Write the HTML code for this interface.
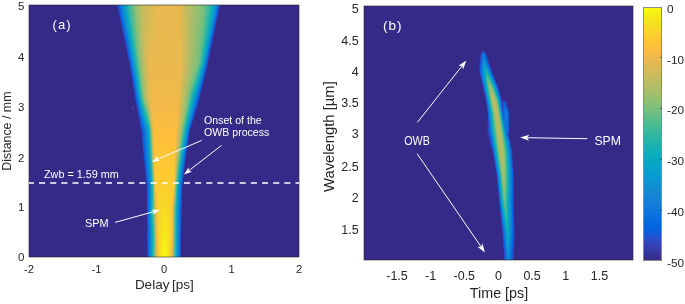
<!DOCTYPE html>
<html><head><meta charset="utf-8"><style>
html,body{margin:0;padding:0;background:#fff;width:685px;height:304px;overflow:hidden;font-family:"Liberation Sans", sans-serif;}
.p{position:absolute;background:#352a87;overflow:hidden}
.p i{position:absolute;height:1px;display:block}
svg{position:absolute;left:0;top:0;will-change:transform}
</style></head><body>
<div class="p" style="left:29px;top:5px;width:270px;height:252px">
<i style="top:0px;left:87px;width:105px;background:linear-gradient(90deg,#352a87 0px,#352a87 0.8px,#2d49c4 1.8px,#0363e1 2.8px,#1481d5 5.8px,#06a1cd 8.8px,#06a8c4 9.8px,#0faeb9 10.8px,#30b7a3 12.8px,#82bf79 18.8px,#bcbd62 24.8px,#e7b94f 39.8px,#e7b94f 63.8px,#bbbd62 71.8px,#9bbf6f 80.8px,#78bf7d 87.8px,#28b6a7 94.8px,#0cadbc 96.8px,#06a0cd 98.8px,#1480d6 100.8px,#0a73dd 101.8px,#0b5edf 102.8px,#353ba9 103.8px,#352a87 104.4px,#352a87 105.00px)"></i>
<i style="top:1px;left:88px;width:104px;background:linear-gradient(90deg,#352a87 0px,#352b87 0.0px,#2c4ac5 1.0px,#0363e1 2.0px,#1482d5 5.0px,#06a1cc 8.0px,#07a9c3 9.0px,#11afb8 10.0px,#31b8a2 12.0px,#84bf78 18.0px,#bdbd61 24.0px,#e7b94f 39.0px,#e7b94f 63.0px,#c9bc5d 68.0px,#b4bd65 73.0px,#8cbf75 83.0px,#74bf7f 87.0px,#23b4ab 94.0px,#09abbf 96.0px,#089bd0 98.0px,#1389d3 99.0px,#117bd9 100.0px,#046de0 101.0px,#274dcb 102.0px,#362f90 103.0px,#352a87 103.2px,#352a87 104.00px)"></i>
<i style="top:2px;left:88px;width:103px;background:linear-gradient(90deg,#352a87 0px,#352a87 0.2px,#2d49c5 1.2px,#0363e1 2.2px,#1482d5 5.2px,#06a1cc 8.2px,#07a9c3 9.2px,#12afb7 10.2px,#3fba99 13.2px,#86bf77 18.2px,#bfbc61 24.2px,#e7b94f 39.2px,#e7b94f 63.2px,#cdbb5b 67.2px,#b7bd64 72.2px,#8fbf74 82.2px,#7bbf7c 86.2px,#2bb6a6 93.2px,#0eaeba 95.2px,#06a3cb 97.2px,#1483d5 99.2px,#0363e1 101.2px,#3440b2 102.2px,#352a87 103.0px,#352a87 103.00px)"></i>
<i style="top:3px;left:88px;width:103px;background:linear-gradient(90deg,#352a87 0px,#352b87 0.4px,#2c4ac5 1.4px,#0363e1 2.4px,#1482d5 5.4px,#06a2cb 8.4px,#07a9c2 9.4px,#13b0b6 10.4px,#33b8a0 12.4px,#87bf77 18.4px,#c0bc60 24.4px,#e7b94f 39.4px,#e6b950 63.4px,#ccbb5b 67.4px,#acbe68 75.4px,#7fbf7a 85.4px,#6dbf82 87.4px,#27b6a8 93.4px,#0aacbd 95.4px,#079ecf 97.4px,#118dd2 98.4px,#137dd8 99.4px,#076fdf 100.4px,#1e54d5 101.4px,#36349a 102.4px,#352a87 102.8px,#352a87 103.00px)"></i>
<i style="top:4px;left:88px;width:103px;background:linear-gradient(90deg,#352a87 0px,#352b87 0.7px,#2c4ac5 1.7px,#0363e1 2.7px,#1483d5 5.7px,#06a2cb 8.7px,#07aac1 9.7px,#35b8a0 12.7px,#89bf76 18.7px,#c1bc60 24.7px,#e8b94f 39.7px,#e8b94f 62.6px,#bdbd61 70.6px,#8dbf75 82.6px,#75bf7f 86.6px,#21b4ac 93.6px,#08aac1 95.6px,#06a4c9 96.6px,#0997d1 97.6px,#1486d4 98.6px,#0f78db 99.6px,#0267e1 100.6px,#3045bd 101.6px,#352a87 102.6px,#352a87 103.00px)"></i>
<i style="top:5px;left:88px;width:103px;background:linear-gradient(90deg,#352a87 0px,#352b87 0.9px,#2c4ac5 1.9px,#0363e1 2.9px,#1483d5 5.9px,#06a3ca 8.9px,#08aac0 9.9px,#15b0b4 10.9px,#29b6a7 11.9px,#80bf7a 17.9px,#c2bc5f 24.9px,#e8b94f 39.9px,#e8b94f 62.9px,#cabb5c 67.9px,#aebe67 74.9px,#7cbf7b 85.9px,#2ab6a6 92.9px,#0dadbb 94.9px,#06a8c4 95.9px,#06a0cd 96.9px,#1480d6 98.9px,#0972de 99.9px,#115bdc 100.9px,#3638a3 101.9px,#352b87 102.3px,#352a87 103.00px)"></i>
<i style="top:6px;left:89px;width:102px;background:linear-gradient(90deg,#352a87 0px,#352a87 0.1px,#2c49c5 1.1px,#0363e1 2.1px,#1483d5 5.1px,#06a3ca 8.1px,#08abc0 9.1px,#2ab6a6 11.1px,#81bf79 17.1px,#bcbd62 23.1px,#ccbb5b 27.1px,#e8b94f 39.1px,#e8b94f 62.1px,#d4bb58 65.1px,#b8bd63 71.1px,#8abf76 82.1px,#79bf7d 85.1px,#26b5a9 92.1px,#09abbf 94.1px,#089bd0 96.1px,#1389d3 97.1px,#117ad9 98.1px,#036be0 99.1px,#2b4bc7 100.1px,#352a87 101.2px,#352a87 102.00px)"></i>
<i style="top:7px;left:89px;width:101px;background:linear-gradient(90deg,#352a87 0px,#352b87 0.3px,#2c4ac6 1.3px,#0364e1 2.3px,#1483d4 5.3px,#079bd0 7.3px,#09abbf 9.3px,#17b1b3 10.3px,#2cb6a5 11.3px,#83bf79 17.3px,#bdbd61 23.3px,#d2bb59 29.3px,#e8b94f 39.3px,#e6b950 62.3px,#c2bc5f 68.3px,#92bf72 80.3px,#7ebf7b 84.3px,#38b99d 90.3px,#10afb8 93.3px,#07a9c2 94.3px,#06a3cb 95.3px,#1482d5 97.3px,#0760e0 99.3px,#353dad 100.3px,#352a87 100.9px,#352a87 101.00px)"></i>
<i style="top:8px;left:89px;width:101px;background:linear-gradient(90deg,#352a87 0px,#352b87 0.5px,#2c4ac6 1.5px,#0364e1 2.5px,#1484d4 5.5px,#079cd0 7.5px,#09acbe 9.5px,#2db7a5 11.5px,#84bf78 17.5px,#bfbc61 23.5px,#ddba54 33.5px,#e8b94f 39.5px,#e8b94f 61.5px,#babd62 70.5px,#91bf73 80.5px,#7dbf7b 84.5px,#2ab6a6 91.5px,#0badbc 93.5px,#079ecf 95.5px,#118cd2 96.5px,#127dd8 97.5px,#056ee0 98.5px,#2251d1 99.5px,#363195 100.5px,#352a87 100.7px,#352a87 101.00px)"></i>
<i style="top:9px;left:89px;width:101px;background:linear-gradient(90deg,#352a87 0px,#352b87 0.7px,#2c4ac6 1.7px,#0364e1 2.7px,#1484d4 5.7px,#079cd0 7.7px,#0aacbd 9.7px,#3cba9b 12.7px,#86bf77 17.7px,#c0bc60 23.7px,#dbba55 32.7px,#e8b94f 39.7px,#e8b94f 61.7px,#c1bc60 68.7px,#90bf73 80.7px,#79bf7d 84.7px,#31b8a2 90.7px,#08aac0 93.7px,#06a4c9 94.7px,#0997d1 95.7px,#1485d4 96.7px,#0265e1 98.7px,#3342b7 99.7px,#352a87 100.5px,#352a87 101.00px)"></i>
<i style="top:10px;left:89px;width:101px;background:linear-gradient(90deg,#352a87 0px,#352a87 0.9px,#2c4ac5 1.9px,#0364e1 2.9px,#1484d4 5.9px,#079dcf 7.9px,#0bacbd 9.9px,#2fb7a3 11.9px,#88bf77 17.9px,#c1bc5f 23.9px,#dcba54 32.9px,#e8b94f 39.9px,#e8b94f 61.9px,#c0bc60 68.9px,#93bf72 79.9px,#7fbf7a 83.9px,#45bb96 88.9px,#1eb3ae 91.9px,#0eaeba 92.9px,#06a8c4 93.9px,#06a1cd 94.9px,#137fd7 96.9px,#0871de 97.9px,#1658d9 98.9px,#36369f 99.9px,#352a87 100.3px,#352a87 101.00px)"></i>
<i style="top:11px;left:90px;width:100px;background:linear-gradient(90deg,#352a87 0px,#352b87 0.1px,#2c4ac6 1.1px,#0364e1 2.1px,#1485d4 5.1px,#079dcf 7.1px,#06a6c7 8.1px,#0cadbc 9.1px,#30b7a2 11.1px,#89bf76 17.1px,#c3bc5f 23.1px,#e3b951 35.1px,#e8b94f 42.1px,#e6b950 61.1px,#bcbd62 69.1px,#88bf77 81.1px,#7dbf7b 83.1px,#34b8a0 89.1px,#0aacbe 92.1px,#089ad0 94.1px,#1388d3 95.1px,#1079da 96.1px,#0269e1 97.1px,#2e47c1 98.1px,#352b87 99.1px,#352a87 100.00px)"></i>
<i style="top:12px;left:90px;width:99px;background:linear-gradient(90deg,#352a87 0px,#352a87 0.3px,#2c4ac5 1.3px,#0364e1 2.3px,#1485d4 5.3px,#079ecf 7.3px,#06a6c7 8.3px,#0dadbb 9.3px,#40ba99 12.3px,#8bbf75 17.3px,#c4bc5e 23.3px,#dfba53 33.3px,#e8b94e 39.3px,#e8b94e 60.3px,#bbbd62 69.3px,#87bf77 81.3px,#6fbf81 84.3px,#22b4ab 90.3px,#07aac2 92.3px,#06a3cb 93.3px,#1482d5 95.3px,#0b73dd 96.3px,#0b5edf 97.3px,#353ba9 98.3px,#352a87 98.9px,#352a87 99.00px)"></i>
<i style="top:13px;left:90px;width:99px;background:linear-gradient(90deg,#352a87 0px,#352b87 0.5px,#2c4ac6 1.5px,#0364e1 2.5px,#1485d4 5.5px,#069ece 7.5px,#06a7c6 8.5px,#0eaeba 9.5px,#42bb98 12.5px,#8dbf75 17.5px,#c6bc5e 23.5px,#e8b94f 37.5px,#e8b94e 60.5px,#bbbd62 69.5px,#80bf7a 82.5px,#45bb96 87.5px,#1cb3b0 90.5px,#0cadbb 91.5px,#06a7c5 92.5px,#079ecf 93.5px,#128cd2 94.5px,#127cd8 95.5px,#046de0 96.5px,#274dcb 97.5px,#352a87 98.7px,#352a87 99.00px)"></i>
<i style="top:14px;left:90px;width:99px;background:linear-gradient(90deg,#352a87 0px,#352a87 0.7px,#2c4ac5 1.7px,#0364e1 2.7px,#1486d4 5.7px,#069fce 7.7px,#06a7c5 8.7px,#0faeb9 9.7px,#43bb97 12.7px,#8ebf74 17.7px,#c7bc5d 23.7px,#e8b94e 37.7px,#e8b94e 60.7px,#bebc61 68.7px,#84bf78 81.7px,#73bf7f 83.7px,#27b5a8 89.7px,#09abbf 91.7px,#0997d1 93.7px,#1485d4 94.7px,#0363e1 96.7px,#3440b3 97.7px,#352a87 98.5px,#352a87 99.00px)"></i>
<i style="top:15px;left:90px;width:99px;background:linear-gradient(90deg,#352a87 0px,#352b87 1.0px,#2c4ac6 2.0px,#0364e1 3.0px,#1486d4 6.0px,#069fce 8.0px,#06a8c5 9.0px,#10afb8 10.0px,#45bb96 13.0px,#90bf73 18.0px,#c8bc5d 24.0px,#e9b94e 38.0px,#e6b94f 61.0px,#b9bd63 70.0px,#82bf79 82.0px,#58bd8c 86.0px,#20b4ad 90.0px,#06a8c3 92.0px,#06a1cd 93.0px,#137ed7 95.0px,#076fdf 96.0px,#1e54d5 97.0px,#363399 98.0px,#352a87 98.3px,#352a87 99.00px)"></i>
<i style="top:16px;left:91px;width:98px;background:linear-gradient(90deg,#352a87 0px,#352a87 0.2px,#2c4ac6 1.2px,#0364e1 2.2px,#127bd9 4.2px,#1486d3 5.2px,#06a0cd 7.2px,#06a8c4 8.2px,#11afb8 9.2px,#57bd8c 13.2px,#91bf73 17.2px,#c9bc5d 23.2px,#e9b94e 37.2px,#e9b94e 59.2px,#b8bd63 69.2px,#80bf7a 81.2px,#53bd8e 85.2px,#1ab2b1 89.2px,#0bacbd 90.2px,#06a6c7 91.2px,#089ad0 92.2px,#1388d3 93.2px,#1078da 94.2px,#0267e1 95.2px,#3145bc 96.2px,#352a87 97.1px,#352a87 98.00px)"></i>
<i style="top:17px;left:91px;width:97px;background:linear-gradient(90deg,#352a87 0px,#352b87 0.4px,#2c4ac6 1.4px,#0364e1 2.4px,#127cd9 4.4px,#1487d3 5.4px,#06a0cd 7.4px,#07a9c3 8.4px,#12afb7 9.4px,#59bd8b 13.4px,#93bf72 17.4px,#cabb5c 23.4px,#e9b94e 37.4px,#e9b94e 59.4px,#b8bd63 69.4px,#7ebf7b 81.4px,#4fbc91 85.4px,#13b0b6 89.4px,#07aac1 90.4px,#06a3cb 91.4px,#1481d6 93.4px,#0972de 94.4px,#115bdd 95.4px,#3638a3 96.4px,#352b87 96.8px,#352a87 97.00px)"></i>
<i style="top:18px;left:91px;width:97px;background:linear-gradient(90deg,#352a87 0px,#352a87 0.6px,#2c4ac6 1.6px,#0364e1 2.6px,#127cd8 4.6px,#1487d3 5.6px,#06a1cd 7.6px,#07a9c3 8.6px,#13b0b6 9.6px,#4abc93 12.6px,#95bf71 17.6px,#cabb5c 23.6px,#e6b950 35.6px,#e8b94e 59.6px,#b7bd64 69.6px,#7bbf7c 81.6px,#4abc93 85.6px,#1fb3ae 88.6px,#0eaeba 89.6px,#06a7c5 90.6px,#079ecf 91.6px,#128bd2 92.6px,#117bd9 93.6px,#036be0 94.6px,#2b4ac7 95.6px,#352a87 96.7px,#352a87 97.00px)"></i>
<i style="top:19px;left:91px;width:97px;background:linear-gradient(90deg,#352a87 0px,#352b87 0.8px,#2c4ac6 1.8px,#0364e1 2.8px,#127cd8 4.8px,#1388d3 5.8px,#06a1cc 7.8px,#07a9c2 8.8px,#14b0b5 9.8px,#4cbc92 12.8px,#8bbf75 16.8px,#c6bc5e 22.8px,#d7ba57 27.8px,#e9b94e 38.8px,#e7b94f 59.8px,#b6bd64 69.8px,#81bf79 80.8px,#54bd8e 84.8px,#18b1b3 88.8px,#09abbf 89.8px,#06a5c9 90.8px,#1484d4 92.8px,#0761e0 94.8px,#353dad 95.8px,#352a87 96.4px,#352a87 97.00px)"></i>
<i style="top:20px;left:92px;width:96px;background:linear-gradient(90deg,#352a87 0px,#352a87 0.0px,#2c4ac6 1.0px,#0364e1 2.0px,#127cd8 4.0px,#1388d3 5.0px,#06a2cc 7.0px,#07aac1 8.0px,#29b6a7 10.0px,#6fbf81 14.0px,#a3be6c 18.0px,#c7bc5d 22.0px,#dcba54 29.0px,#e9b94e 38.0px,#e9b94e 58.0px,#85bf78 79.0px,#74bf7f 81.0px,#4fbc91 84.0px,#12afb7 88.0px,#07a9c3 89.0px,#06a1cd 90.0px,#108fd2 91.0px,#137ed7 92.0px,#066edf 93.0px,#2251d1 94.0px,#363194 95.0px,#352a87 95.2px,#352a87 96.00px)"></i>
<i style="top:21px;left:92px;width:96px;background:linear-gradient(90deg,#352a87 0px,#352b87 0.2px,#2c4ac7 1.2px,#0364e1 2.2px,#127cd8 4.2px,#1389d3 5.2px,#0997d1 6.2px,#08aac0 8.2px,#50bc90 12.2px,#8ebf74 16.2px,#c8bc5d 22.2px,#daba55 28.2px,#e9b94e 38.2px,#e9b94e 58.2px,#b0bd67 70.2px,#83bf78 79.2px,#5abd8b 83.2px,#1db3af 87.2px,#0cadbc 88.2px,#06a6c7 89.2px,#089ad0 90.2px,#1487d3 91.2px,#0f77db 92.2px,#0265e1 93.2px,#3342b7 94.2px,#352a87 95.0px,#352a87 96.00px)"></i>
<i style="top:22px;left:92px;width:95px;background:linear-gradient(90deg,#352a87 0px,#352b87 0.4px,#2c4ac7 1.4px,#0365e1 2.4px,#127dd8 4.4px,#1389d3 5.4px,#0998d1 6.4px,#08abc0 8.4px,#52bd8f 12.4px,#90bf73 16.4px,#cabb5c 22.4px,#ddba54 29.4px,#e9b94e 38.4px,#e9b94e 58.4px,#b3bd65 69.4px,#82bf79 79.4px,#63be87 82.4px,#16b1b4 87.4px,#08aac0 88.4px,#06a3ca 89.4px,#1480d6 91.4px,#0871de 92.4px,#1658d9 93.4px,#36369e 94.4px,#352a87 94.8px,#352a87 95.00px)"></i>
<i style="top:23px;left:92px;width:95px;background:linear-gradient(90deg,#352a87 0px,#352b87 0.6px,#2b4ac7 1.6px,#0265e1 2.6px,#137dd8 4.6px,#1389d3 5.6px,#0998d1 6.6px,#09abbf 8.6px,#54bd8e 12.6px,#91bf73 16.6px,#cbbb5b 22.6px,#deba53 29.6px,#e9b94e 38.6px,#e7b94f 58.6px,#86bf77 78.6px,#5fbe88 82.6px,#21b4ac 86.6px,#0faeb9 87.6px,#06a8c4 88.6px,#079ecf 89.6px,#128bd3 90.6px,#117ad9 91.6px,#026ae1 92.6px,#2e47c1 93.6px,#352b87 94.6px,#352a87 95.00px)"></i>
<i style="top:24px;left:92px;width:95px;background:linear-gradient(90deg,#352a87 0px,#352a87 0.8px,#2c4ac6 1.8px,#0365e1 2.8px,#137dd8 4.8px,#138ad3 5.8px,#0899d1 6.8px,#09acbe 8.8px,#55bd8d 12.8px,#93bf72 16.8px,#ccbb5b 22.8px,#ddba54 28.8px,#e9b94e 37.8px,#e6b950 58.8px,#84bf78 78.8px,#5abd8b 82.8px,#1ab2b1 86.8px,#0aacbd 87.8px,#06a5c8 88.8px,#1484d4 90.8px,#0b74dd 91.8px,#0b5edf 92.8px,#353ba8 93.8px,#352a87 94.4px,#352a87 95.00px)"></i>
<i style="top:25px;left:93px;width:94px;background:linear-gradient(90deg,#352a87 0px,#352b87 0.1px,#2b4bc7 1.1px,#0265e1 2.1px,#137dd8 4.1px,#128ad3 5.1px,#089ad1 6.1px,#0aacbd 8.1px,#44bb97 11.1px,#78bf7d 14.1px,#aabe69 18.1px,#cdbb5b 22.1px,#ddba54 28.1px,#e9b94e 37.1px,#e9b94e 57.1px,#d2bb58 62.1px,#82bf79 78.1px,#64be86 81.1px,#26b5a9 85.1px,#13b0b6 86.1px,#07a9c2 87.1px,#06a1cc 88.1px,#108fd2 89.1px,#137dd8 90.1px,#046de0 91.1px,#274dcb 92.1px,#352a87 93.2px,#352a87 94.00px)"></i>
<i style="top:26px;left:93px;width:93px;background:linear-gradient(90deg,#352a87 0px,#352a87 0.3px,#2c4ac6 1.3px,#0265e1 2.3px,#137dd7 4.3px,#128bd3 5.3px,#089ad0 6.3px,#06a5c9 7.3px,#0badbc 8.3px,#59bd8b 12.3px,#96bf71 16.3px,#c7bc5d 21.3px,#d9ba56 25.3px,#e9b94e 37.3px,#e9b94e 57.3px,#d1bb59 62.3px,#80bf7a 78.3px,#60be88 81.3px,#1fb4ad 85.3px,#0daebb 86.3px,#06a7c6 87.3px,#089bd0 88.3px,#1487d3 89.3px,#0364e1 91.3px,#3440b2 92.3px,#352a87 93.0px,#352a87 93.00px)"></i>
<i style="top:27px;left:93px;width:93px;background:linear-gradient(90deg,#352a87 0px,#352b87 0.5px,#2b4bc7 1.5px,#0265e1 2.5px,#137ed7 4.5px,#128bd2 5.5px,#089bd0 6.5px,#06a5c8 7.5px,#0cadbc 8.5px,#5cbe8a 12.5px,#98bf70 16.5px,#d0bb5a 22.5px,#eab94e 35.5px,#e7b94f 57.5px,#d7ba57 61.5px,#bbbd62 66.5px,#85bf78 77.5px,#68be84 80.5px,#2ab6a6 84.5px,#09abbf 86.5px,#06a3ca 87.5px,#1480d6 89.5px,#0770df 90.5px,#1d54d5 91.5px,#363398 92.5px,#352a87 92.8px,#352a87 93.00px)"></i>
<i style="top:28px;left:93px;width:93px;background:linear-gradient(90deg,#352a87 0px,#352a87 0.7px,#2c4ac7 1.7px,#0265e1 2.7px,#137ed7 4.7px,#128cd2 5.7px,#079bd0 6.7px,#06a6c7 7.7px,#0dadbb 8.7px,#49bc94 11.7px,#7ebf7b 14.7px,#afbe67 18.7px,#d0bb59 22.7px,#dfba53 28.7px,#eab94e 37.7px,#eab94e 56.7px,#d5ba57 61.7px,#83bf79 77.7px,#65be86 80.7px,#24b5aa 84.7px,#11afb7 85.7px,#06a8c4 86.7px,#069ece 87.7px,#128ad3 88.7px,#1079da 89.7px,#0268e1 90.7px,#3145bc 91.7px,#352a87 92.6px,#352a87 93.00px)"></i>
<i style="top:29px;left:93px;width:93px;background:linear-gradient(90deg,#352a87 0px,#352b87 0.9px,#2b4bc7 1.9px,#0265e1 2.9px,#137ed7 4.9px,#118cd2 5.9px,#079cd0 6.9px,#06a6c7 7.9px,#0eaeba 8.9px,#5fbe88 12.9px,#9bbf6f 16.9px,#d1bb59 22.9px,#e0ba53 28.9px,#eab94e 38.9px,#eab94e 56.9px,#d4bb58 61.9px,#a7be6a 70.9px,#80bf7a 77.9px,#61be88 80.9px,#1db3af 84.9px,#0bacbd 85.9px,#06a5c8 86.9px,#1483d5 88.9px,#0a73de 89.9px,#105bdd 90.9px,#3638a2 91.9px,#352b87 92.3px,#352a87 93.00px)"></i>
<i style="top:30px;left:94px;width:92px;background:linear-gradient(90deg,#352a87 0px,#352b87 0.1px,#2b4bc7 1.1px,#0265e1 2.1px,#137fd7 4.1px,#118dd2 5.1px,#079dcf 6.1px,#06a7c6 7.1px,#0faeb9 8.1px,#61be87 12.1px,#9dbf6e 16.1px,#cdbb5b 21.1px,#dcba54 25.1px,#eab94e 37.1px,#e9b94e 56.1px,#daba55 60.1px,#c2bc5f 64.1px,#85bf78 76.1px,#69be84 79.1px,#29b6a7 83.1px,#07aac1 85.1px,#06a1cc 86.1px,#108ed2 87.1px,#127cd8 88.1px,#036be0 89.1px,#2c4ac7 90.1px,#352a87 91.2px,#352a87 92.00px)"></i>
<i style="top:31px;left:94px;width:91px;background:linear-gradient(90deg,#352a87 0px,#352b87 0.3px,#2b4bc7 1.3px,#0265e1 2.3px,#137fd7 4.3px,#118dd2 5.3px,#079dcf 6.3px,#06a7c6 7.3px,#10afb8 8.3px,#4fbc91 11.3px,#83bf79 14.3px,#b3bd65 18.3px,#d3bb58 22.3px,#deba53 26.3px,#eab94e 38.3px,#e8b94f 56.3px,#d1bb59 61.3px,#83bf78 76.3px,#66be85 79.3px,#22b4ac 83.3px,#0eaeba 84.3px,#06a7c6 85.3px,#089ad0 86.3px,#1486d4 87.3px,#0661e0 89.3px,#353dac 90.3px,#352a87 90.9px,#352a87 91.00px)"></i>
<i style="top:32px;left:94px;width:91px;background:linear-gradient(90deg,#352a87 0px,#352a87 0.5px,#2b4bc7 1.5px,#0265e1 2.5px,#137fd7 4.5px,#108ed2 5.5px,#079ecf 6.5px,#06a7c5 7.5px,#11afb7 8.5px,#50bc90 11.5px,#75bf7e 13.5px,#abbe68 17.5px,#cfbb5a 21.5px,#ddba54 25.5px,#eab94e 36.5px,#e7b94f 56.5px,#d7ba57 60.5px,#b6bd64 66.5px,#81bf7a 76.5px,#61be88 79.5px,#1bb2b1 83.5px,#09abbe 84.5px,#06a4ca 85.5px,#137fd7 87.5px,#066fdf 88.5px,#2251d1 89.5px,#363093 90.5px,#352a87 90.7px,#352a87 91.00px)"></i>
<i style="top:33px;left:94px;width:91px;background:linear-gradient(90deg,#352a87 0px,#352b87 0.7px,#2b4bc8 1.7px,#0265e1 2.7px,#137fd6 4.7px,#108fd2 5.7px,#069ece 6.7px,#06a8c4 7.7px,#13b0b6 8.7px,#53bd8f 11.7px,#87bf77 14.7px,#b6bd64 18.7px,#d1bb59 21.7px,#e1ba52 27.7px,#eab94e 37.7px,#eab94e 55.7px,#ddba54 59.7px,#c3bc5f 63.7px,#86bf77 75.7px,#6abe83 78.7px,#27b5a9 82.7px,#13b0b6 83.7px,#06a8c3 84.7px,#079ece 85.7px,#138ad3 86.7px,#1078da 87.7px,#0266e1 88.7px,#3342b6 89.7px,#352a87 90.5px,#352a87 91.00px)"></i>
<i style="top:34px;left:94px;width:91px;background:linear-gradient(90deg,#352a87 0px,#352a87 0.9px,#2b4bc7 1.9px,#0265e1 2.9px,#1480d6 4.9px,#069fce 6.9px,#06a8c4 7.9px,#28b6a7 9.9px,#69be84 12.9px,#a3be6c 16.9px,#d2bb59 21.9px,#e0ba53 26.9px,#eab94e 37.9px,#e9b94e 55.9px,#dbba55 59.9px,#bdbc61 64.9px,#84bf78 75.9px,#67be85 78.9px,#20b4ad 82.9px,#0cadbb 83.9px,#06a5c8 84.9px,#0a97d1 85.9px,#1482d5 86.9px,#0972de 87.9px,#1658da 88.9px,#36359d 89.9px,#352a87 90.3px,#352a87 91.00px)"></i>
<i style="top:35px;left:95px;width:90px;background:linear-gradient(90deg,#352a87 0px,#352b87 0.2px,#2b4bc8 1.2px,#0266e1 2.2px,#1480d6 4.2px,#069fce 6.2px,#07a9c3 7.2px,#15b1b4 8.2px,#57bd8d 11.2px,#8abf76 14.2px,#b0bd67 17.2px,#d3bb58 21.2px,#dfba53 25.2px,#eab94d 37.2px,#e8b94e 55.2px,#daba55 59.2px,#bcbd62 64.2px,#81bf79 75.2px,#61be88 78.2px,#2bb6a5 81.2px,#08aac1 83.2px,#06a1cc 84.2px,#108ed2 85.2px,#127bd9 86.2px,#026ae1 87.2px,#2e47c1 88.2px,#352b87 89.1px,#352a87 90.00px)"></i>
<i style="top:36px;left:95px;width:89px;background:linear-gradient(90deg,#352a87 0px,#352a87 0.4px,#2b4bc7 1.4px,#0265e1 2.4px,#1480d6 4.4px,#06a0cd 6.4px,#07a9c2 7.4px,#2bb6a5 9.4px,#6cbf82 12.4px,#a6be6a 16.4px,#d4bb58 21.4px,#e0ba53 25.4px,#eab94d 36.4px,#e7b94f 55.4px,#dfba53 58.4px,#bbbd62 64.4px,#87bf77 74.4px,#6cbf83 77.4px,#25b5aa 81.4px,#10afb8 82.4px,#06a7c5 83.4px,#089bd0 84.4px,#1486d4 85.4px,#0c75dd 86.4px,#0a5fdf 87.4px,#363aa7 88.4px,#352a87 88.9px,#352a87 89.00px)"></i>
<i style="top:37px;left:95px;width:89px;background:linear-gradient(90deg,#352a87 0px,#352b87 0.6px,#2a4bc8 1.6px,#0266e1 2.6px,#1481d6 4.6px,#06a0cd 6.6px,#07aac2 7.6px,#2db7a4 9.6px,#6ebf81 12.6px,#a8be6a 16.6px,#d5ba57 21.6px,#e1ba52 25.6px,#eab94d 37.6px,#eab94d 54.6px,#deba53 58.6px,#c4bc5e 62.6px,#84bf78 74.6px,#68be84 77.6px,#1db3af 81.6px,#0aacbe 82.6px,#06a4ca 83.6px,#137ed7 85.6px,#056de0 86.6px,#274dcb 87.6px,#352a87 88.7px,#352a87 89.00px)"></i>
<i style="top:38px;left:95px;width:89px;background:linear-gradient(90deg,#352a87 0px,#352b87 0.8px,#2a4bc8 1.8px,#0266e1 2.8px,#1481d6 4.8px,#06a1cc 6.8px,#08aac1 7.8px,#46bb96 10.8px,#70bf80 12.8px,#aabe69 16.8px,#d6ba57 21.8px,#e0ba52 24.8px,#eab94d 36.8px,#eab94e 54.8px,#ddba54 58.8px,#c3bc5f 62.8px,#82bf79 74.8px,#61be87 77.8px,#15b0b5 81.8px,#07a9c3 82.8px,#069ece 83.8px,#1389d3 84.8px,#0f77db 85.8px,#0364e1 86.8px,#343fb1 87.8px,#352a87 88.5px,#352a87 89.00px)"></i>
<i style="top:39px;left:95px;width:89px;background:linear-gradient(90deg,#352a87 0px,#352b87 1.0px,#2a4bc8 2.0px,#0266e1 3.0px,#1481d5 5.0px,#06a1cc 7.0px,#08abc0 8.0px,#48bb95 11.0px,#72bf80 13.0px,#abbe68 17.0px,#d7ba56 22.0px,#e1ba52 25.0px,#ebb94d 39.0px,#e9b94e 55.0px,#dbba55 59.0px,#bdbd61 64.0px,#87bf77 74.0px,#6dbf82 77.0px,#23b4ab 81.0px,#0eaeba 82.0px,#06a6c7 83.0px,#1482d5 85.0px,#0870df 86.0px,#1d54d5 87.0px,#363297 88.0px,#352a87 88.3px,#352a87 89.00px)"></i>
<i style="top:40px;left:96px;width:88px;background:linear-gradient(90deg,#352a87 0px,#352b87 0.2px,#2a4bc8 1.2px,#0266e1 2.2px,#1482d5 4.2px,#06a2cb 6.2px,#09abbf 7.2px,#4abc94 10.2px,#74bf7f 12.2px,#adbe68 16.2px,#d8ba56 21.2px,#e3b951 25.2px,#ebb94d 37.2px,#e8b94f 54.2px,#e1b952 57.2px,#c6bc5e 61.2px,#85bf78 73.2px,#68be84 76.2px,#1ab2b1 80.2px,#08abc0 81.2px,#06a2cc 82.2px,#118ed2 83.2px,#117bd9 84.2px,#0268e1 85.2px,#3145bc 86.2px,#352a87 87.1px,#352a87 88.00px)"></i>
<i style="top:41px;left:96px;width:87px;background:linear-gradient(90deg,#352a87 0px,#352b87 0.4px,#2a4bc8 1.4px,#0266e1 2.4px,#1482d5 4.4px,#06a2cb 6.4px,#09acbe 7.4px,#64be86 11.4px,#a2be6c 15.4px,#cbbb5c 19.4px,#e1b952 23.4px,#ebb94d 37.4px,#ebb94d 53.4px,#e0ba53 57.4px,#cabb5c 60.4px,#82bf79 73.4px,#71bf80 75.4px,#28b6a8 79.4px,#12afb7 80.4px,#06a7c5 81.4px,#089bd0 82.4px,#1485d4 83.4px,#0b73dd 84.4px,#0f5cdd 85.4px,#3637a1 86.4px,#352b87 86.8px,#352a87 87.00px)"></i>
<i style="top:42px;left:96px;width:87px;background:linear-gradient(90deg,#352a87 0px,#352b87 0.6px,#2a4cc8 1.6px,#0266e1 2.6px,#1482d5 4.6px,#06a3cb 6.6px,#0aacbe 7.6px,#66be85 11.6px,#a4be6b 15.6px,#d5ba57 20.6px,#e3b951 24.6px,#ebb94d 38.6px,#eab94e 53.6px,#deba53 57.6px,#c4bc5f 61.6px,#80bf7a 73.6px,#6ebf82 75.6px,#20b4ad 79.6px,#0badbc 80.6px,#06a4c9 81.6px,#137ed7 83.6px,#046ce0 84.6px,#2b4ac7 85.6px,#352a87 86.7px,#352a87 87.00px)"></i>
<i style="top:43px;left:96px;width:87px;background:linear-gradient(90deg,#352a87 0px,#352b87 0.8px,#2a4cc9 1.8px,#0266e1 2.8px,#1483d5 4.8px,#06a3ca 6.8px,#0bacbd 7.8px,#4fbc91 10.8px,#68be84 11.8px,#a6be6b 15.8px,#dcba55 21.8px,#e4b950 25.8px,#ebb94d 37.8px,#e9b94e 53.8px,#e3b951 56.8px,#bdbd61 62.8px,#86bf78 72.8px,#68be84 75.8px,#17b1b3 79.8px,#07a9c2 80.8px,#069ece 81.8px,#1389d3 82.8px,#0561e0 84.8px,#353cac 85.8px,#352a87 86.4px,#352a87 87.00px)"></i>
<i style="top:44px;left:97px;width:86px;background:linear-gradient(90deg,#352a87 0px,#352a87 0.0px,#2a4bc8 1.0px,#0266e1 2.1px,#1483d5 4.1px,#06a4c9 6.1px,#0cadbc 7.1px,#51bd90 10.1px,#6abe83 11.1px,#a7be6a 15.1px,#d8ba56 20.1px,#e4b951 24.1px,#ebb94d 38.0px,#e9b94e 53.0px,#e3b951 56.0px,#c7bc5d 60.0px,#83bf79 72.0px,#72bf80 74.0px,#26b5a9 78.0px,#0faeb9 79.0px,#06a6c7 80.0px,#0a97d1 81.0px,#1481d6 82.0px,#076fdf 83.0px,#2251d1 84.0px,#363092 85.0px,#352a87 85.2px,#352a87 86.00px)"></i>
<i style="top:45px;left:97px;width:86px;background:linear-gradient(90deg,#352a87 0px,#352b87 0.3px,#2a4cc9 1.3px,#0267e1 2.3px,#1483d4 4.3px,#06a4c9 6.3px,#0dadbb 7.3px,#53bd8e 10.3px,#6dbf82 11.3px,#a9be69 15.3px,#d9ba56 20.3px,#e5b950 24.3px,#ebb94d 40.3px,#e8b94e 53.3px,#e1b952 56.3px,#c5bc5e 60.3px,#89bf76 71.3px,#6fbf81 74.3px,#1db3af 78.3px,#09abbf 79.3px,#06a2cc 80.3px,#118dd2 81.3px,#117ada 82.3px,#0266e1 83.3px,#3342b6 84.3px,#352a87 85.0px,#352a87 86.00px)"></i>
<i style="top:46px;left:97px;width:85px;background:linear-gradient(90deg,#352a87 0px,#352a87 0.5px,#2a4bc8 1.5px,#0266e1 2.5px,#1484d4 4.5px,#06a5c8 6.5px,#0eaeba 7.5px,#55bd8e 10.5px,#6ebf81 11.5px,#aabe69 15.5px,#daba55 20.5px,#e5b950 23.5px,#ebb94d 41.5px,#e8b94f 53.5px,#dfba53 56.5px,#bebc61 61.5px,#86bf77 71.5px,#76bf7e 73.5px,#68be84 74.5px,#14b0b5 78.5px,#06a8c4 79.5px,#089bd0 80.5px,#1485d4 81.5px,#0a73de 82.5px,#1559da 83.5px,#36359d 84.5px,#352a87 84.8px,#352a87 85.00px)"></i>
<i style="top:47px;left:97px;width:85px;background:linear-gradient(90deg,#352a87 0px,#352b87 0.7px,#2a4cc9 1.7px,#0267e1 2.7px,#1484d4 4.7px,#0997d1 5.7px,#06a5c8 6.7px,#0faeb9 7.7px,#57bd8c 10.7px,#70bf80 11.7px,#acbe68 15.7px,#dbba55 20.7px,#e5b950 23.7px,#ebb94d 39.7px,#e8b94f 53.7px,#e5b950 55.7px,#c8bc5d 59.7px,#84bf78 71.7px,#73bf7f 73.7px,#24b5aa 77.7px,#0cadbb 78.7px,#06a4c9 79.7px,#137dd8 81.7px,#036ae1 82.7px,#2e47c1 83.7px,#352b87 84.6px,#352a87 85.00px)"></i>
<i style="top:48px;left:97px;width:85px;background:linear-gradient(90deg,#352a87 0px,#352b87 0.9px,#294cc9 1.9px,#0267e1 2.9px,#1485d4 4.9px,#0998d1 5.9px,#06a6c7 6.9px,#10afb8 7.9px,#72bf80 11.9px,#aebe67 15.9px,#dcba54 20.9px,#e6b950 23.9px,#ebb94d 43.9px,#e7b94f 54.9px,#dbba55 56.9px,#81bf79 71.9px,#6fbf81 73.9px,#1ab2b1 77.9px,#07aac1 78.9px,#069ece 79.9px,#1388d3 80.9px,#0a5fdf 82.9px,#363aa6 83.9px,#352a87 84.4px,#352a87 85.00px)"></i>
<i style="top:49px;left:98px;width:84px;background:linear-gradient(90deg,#352a87 0px,#352b87 0.1px,#294cc9 1.1px,#0267e1 2.1px,#1485d4 4.1px,#0899d1 5.1px,#06a6c7 6.1px,#11afb7 7.1px,#5cbe8a 10.1px,#74bf7f 11.1px,#b0be67 15.1px,#ddba54 20.1px,#e6b94f 23.1px,#ebb94d 40.1px,#e8b94f 53.1px,#e2b951 55.1px,#c6bc5e 59.1px,#7fbf7a 71.1px,#77bf7e 72.1px,#68be84 73.1px,#28b6a7 76.1px,#11afb8 77.1px,#06a6c7 78.1px,#1480d6 80.1px,#056ee0 81.1px,#274dcc 82.1px,#352a87 83.2px,#352a87 84.00px)"></i>
<i style="top:50px;left:98px;width:83px;background:linear-gradient(90deg,#352a87 0px,#352a87 0.3px,#2a4cc9 1.3px,#0267e1 2.3px,#1485d4 4.3px,#0899d1 5.3px,#06a7c6 6.3px,#12b0b6 7.3px,#5ebe89 10.3px,#76bf7e 11.3px,#b1bd66 15.3px,#deba53 20.3px,#e7b94f 23.3px,#ebb94d 51.3px,#e7b94f 54.3px,#bebc61 60.3px,#84bf78 70.3px,#75bf7f 72.3px,#20b4ad 76.3px,#0aacbe 77.3px,#06a2cb 78.3px,#118dd2 79.3px,#1079da 80.3px,#0364e1 81.3px,#343fb1 82.3px,#352a87 83.0px,#352a87 83.00px)"></i>
<i style="top:51px;left:98px;width:83px;background:linear-gradient(90deg,#352a87 0px,#352b87 0.5px,#294cc9 1.5px,#0267e1 2.5px,#1486d4 4.5px,#089ad0 5.5px,#06a7c5 6.5px,#14b0b5 7.5px,#60be88 10.5px,#78bf7d 11.5px,#b3bd65 15.5px,#dfba53 20.5px,#e8b94f 23.5px,#ecb94d 50.5px,#e7b94f 54.5px,#c9bc5c 58.5px,#82bf79 70.5px,#6fbf81 72.5px,#2db7a4 75.5px,#16b1b4 76.5px,#06a8c4 77.5px,#089bd0 78.5px,#1484d4 79.5px,#0971de 80.5px,#1d55d6 81.5px,#363296 82.5px,#352a87 82.8px,#352a87 83.00px)"></i>
<i style="top:52px;left:98px;width:83px;background:linear-gradient(90deg,#352a87 0px,#352b87 0.7px,#294cc9 1.7px,#0267e1 2.7px,#1486d3 4.7px,#089bd0 5.7px,#06a8c4 6.7px,#15b1b4 7.7px,#7abf7c 11.7px,#b5bd65 15.7px,#e0ba52 20.7px,#e8b94e 23.7px,#ecb94d 50.7px,#e6b950 54.7px,#c8bc5d 58.7px,#80bf7a 70.7px,#78bf7d 71.7px,#50bc90 73.7px,#0eaeba 76.7px,#06a4c9 77.7px,#127cd8 79.7px,#0269e1 80.7px,#3144bb 81.7px,#352a87 82.6px,#352a87 83.00px)"></i>
<i style="top:53px;left:98px;width:83px;background:linear-gradient(90deg,#352a87 0px,#352b87 0.9px,#294cca 1.9px,#0267e1 2.9px,#0e76dc 3.9px,#1487d3 4.9px,#079bd0 5.9px,#06a8c4 6.9px,#16b1b4 7.9px,#64be86 10.9px,#7cbf7c 11.9px,#b6bd64 15.9px,#dcba55 19.9px,#e8b94e 22.9px,#ecb94d 50.9px,#e4b951 54.9px,#c6bc5e 58.9px,#7ebf7b 70.9px,#76bf7e 71.9px,#1db3af 75.9px,#08aac0 76.9px,#069fce 77.9px,#1388d3 78.9px,#0d75dc 79.9px,#0e5cde 80.9px,#3637a1 81.9px,#352b87 82.3px,#352a87 83.00px)"></i>
<i style="top:54px;left:99px;width:82px;background:linear-gradient(90deg,#352a87 0px,#352b87 0.2px,#294cca 1.2px,#0268e1 2.2px,#1487d3 4.2px,#079cd0 5.2px,#07a9c3 6.2px,#18b1b2 7.2px,#67be85 10.2px,#7ebf7b 11.2px,#b8bd63 15.2px,#e3b951 20.2px,#eab94e 24.2px,#e9b94e 53.1px,#bebc61 59.1px,#7cbf7c 70.1px,#6fbf81 71.1px,#2cb6a5 74.1px,#13b0b6 75.1px,#06a7c6 76.1px,#0a97d1 77.1px,#1480d6 78.1px,#046de0 79.1px,#2b4bc7 80.1px,#352a87 81.2px,#352a87 82.00px)"></i>
<i style="top:55px;left:99px;width:81px;background:linear-gradient(90deg,#352a87 0px,#352b87 0.4px,#294cca 1.4px,#0268e1 2.4px,#0e77db 3.4px,#1388d3 4.4px,#079dcf 5.4px,#07a9c2 6.4px,#33b8a1 8.4px,#69be84 10.4px,#8fbf73 12.4px,#babd63 15.4px,#e4b951 20.4px,#eab94e 23.4px,#e9b94e 53.4px,#c9bb5c 57.4px,#81bf7a 69.4px,#79bf7d 70.4px,#67be85 71.4px,#24b5aa 74.4px,#0bacbd 75.4px,#06a2cb 76.4px,#118cd2 77.4px,#0f78db 78.4px,#0462e0 79.4px,#353cab 80.4px,#352a87 80.9px,#352a87 81.00px)"></i>
<i style="top:56px;left:99px;width:81px;background:linear-gradient(90deg,#352a87 0px,#352a87 0.6px,#294cc9 1.6px,#0268e1 2.6px,#0e77db 3.6px,#1388d3 4.6px,#079dcf 5.6px,#07a9c2 6.6px,#34b8a0 8.6px,#6bbf83 10.6px,#91bf73 12.6px,#c5bc5e 16.6px,#e5b950 20.6px,#eab94d 22.6px,#eab94d 52.6px,#e7b94f 53.6px,#c8bc5d 57.6px,#7fbf7a 69.6px,#77bf7e 70.6px,#19b2b2 74.6px,#07a9c3 75.6px,#079bd0 76.6px,#1484d4 77.6px,#0870df 78.6px,#2251d2 79.6px,#362f91 80.6px,#352a87 80.7px,#352a87 81.00px)"></i>
<i style="top:57px;left:99px;width:81px;background:linear-gradient(90deg,#352a87 0px,#352b87 0.8px,#294dca 1.8px,#0268e1 2.8px,#0f77db 3.8px,#1389d3 4.8px,#079ecf 5.8px,#08aac1 6.8px,#36b99f 8.8px,#6ebf81 10.8px,#93bf72 12.8px,#bdbd61 15.8px,#e1b952 19.8px,#ebb94d 21.8px,#ebb94d 52.8px,#babd62 59.8px,#7dbf7b 69.8px,#6fbf81 70.8px,#29b6a7 73.8px,#0faeb9 74.8px,#06a5c8 75.8px,#127bd9 77.8px,#0267e1 78.8px,#3342b6 79.8px,#352a87 80.5px,#352a87 81.00px)"></i>
<i style="top:58px;left:99px;width:81px;background:linear-gradient(90deg,#352a87 0px,#352b87 1.0px,#284dca 2.0px,#0268e1 3.0px,#0f77db 4.0px,#1389d3 5.0px,#069fce 6.0px,#08abc0 7.0px,#53bd8f 10.0px,#71bf80 11.0px,#a4be6b 14.0px,#c8bc5d 17.0px,#e7b94f 21.0px,#ecb94d 26.0px,#ebb94d 53.0px,#bebc61 59.0px,#7bbf7c 70.0px,#36b99f 73.0px,#09abbf 75.0px,#069fce 76.0px,#1388d3 77.0px,#0b74dd 78.0px,#1459da 79.0px,#36359c 80.0px,#352a87 80.3px,#352a87 81.00px)"></i>
<i style="top:59px;left:100px;width:80px;background:linear-gradient(90deg,#352a87 0px,#352b87 0.2px,#284dca 1.2px,#0268e1 2.2px,#0f78db 3.2px,#138ad3 4.2px,#069fce 5.2px,#09abbf 6.2px,#55bd8d 9.2px,#73bf7f 10.2px,#96bf71 12.2px,#c0bc60 15.2px,#e8b94f 20.2px,#ecb94c 24.2px,#eab94d 52.2px,#cabb5c 56.2px,#80bf7a 68.2px,#77bf7e 69.2px,#2eb7a3 72.2px,#15b0b4 73.2px,#06a7c5 74.2px,#137fd7 76.2px,#036be0 77.2px,#2e47c1 78.2px,#352b87 79.1px,#352a87 80.00px)"></i>
<i style="top:60px;left:100px;width:79px;background:linear-gradient(90deg,#352a87 0px,#352a87 0.4px,#294dca 1.4px,#0268e1 2.4px,#0f78db 3.4px,#128ad3 4.4px,#069fce 5.4px,#09abbf 6.4px,#57bd8d 9.4px,#75bf7f 10.4px,#b5bd65 14.4px,#e4b951 19.4px,#ecb94c 22.4px,#ecb94c 51.4px,#deba53 53.4px,#aabe69 61.4px,#7cbf7b 68.4px,#6dbf82 69.4px,#26b5a9 72.4px,#0cadbc 73.4px,#06a2cb 74.4px,#118cd2 75.4px,#0860df 77.4px,#363aa7 78.4px,#352a87 78.9px,#352a87 79.00px)"></i>
<i style="top:61px;left:100px;width:79px;background:linear-gradient(90deg,#352a87 0px,#352a87 0.5px,#284dca 1.5px,#0268e1 2.5px,#0f78db 3.5px,#128ad3 4.5px,#06a0cd 5.5px,#09abbf 6.5px,#58bd8c 9.5px,#76bf7e 10.5px,#b6bd64 14.5px,#e5b950 19.5px,#ecb94c 22.5px,#ecb94c 51.5px,#b4bd65 59.5px,#7fbf7a 67.5px,#77bf7e 68.5px,#19b2b2 72.5px,#06a9c3 73.5px,#089ad0 74.5px,#1483d5 75.5px,#066fdf 76.5px,#254fce 77.5px,#352a87 78.6px,#352a87 79.00px)"></i>
<i style="top:62px;left:100px;width:79px;background:linear-gradient(90deg,#352a87 0px,#352a87 0.7px,#284dcb 1.7px,#0268e1 2.7px,#0f78db 3.7px,#128ad3 4.7px,#06a0cd 5.7px,#09acbe 6.7px,#59bd8c 9.7px,#78bf7d 10.7px,#b7bd64 14.7px,#e6b950 19.7px,#edb94c 22.7px,#edb94c 51.7px,#d3bb58 54.7px,#82bf79 66.7px,#6ebf82 68.7px,#0eaeba 72.7px,#06a4ca 73.7px,#0f90d2 74.7px,#117ad9 75.7px,#0266e1 76.7px,#3440b3 77.7px,#352a87 78.4px,#352a87 79.00px)"></i>
<i style="top:63px;left:100px;width:79px;background:linear-gradient(90deg,#352a87 0px,#352a87 0.9px,#284dcb 1.9px,#0268e1 2.9px,#0f78db 3.9px,#128ad3 4.9px,#06a0cd 5.9px,#09acbe 6.9px,#5abd8b 9.9px,#79bf7d 10.9px,#b8bd63 14.9px,#e0ba53 18.9px,#edb94c 21.9px,#ebb94d 51.9px,#c3bc5f 56.9px,#86bf77 65.9px,#75bf7f 67.9px,#62be87 68.9px,#1cb3b0 71.9px,#07aac2 72.9px,#079dcf 73.9px,#1486d4 74.9px,#0a73de 75.9px,#1658d9 76.9px,#363399 77.9px,#352a87 78.2px,#352a87 79.00px)"></i>
<i style="top:64px;left:101px;width:77px;background:linear-gradient(90deg,#352a87 0px,#352a87 0.0px,#284dcb 1.0px,#0268e1 2.0px,#0f78db 3.0px,#128ad3 4.0px,#06a0cd 5.0px,#0aacbe 6.0px,#5bbd8b 9.0px,#7abf7c 10.0px,#babd63 14.0px,#e7b94f 19.0px,#edb94c 22.0px,#edb94c 50.0px,#82bf79 65.0px,#6ebf81 67.0px,#10afb8 71.0px,#06a5c8 72.0px,#137dd7 74.0px,#036ae1 75.0px,#2e47c1 76.0px,#352a87 76.9px,#352a87 77.00px)"></i>
<i style="top:65px;left:101px;width:77px;background:linear-gradient(90deg,#352a87 0px,#352b87 0.2px,#274ecc 1.2px,#0269e1 2.2px,#0f78db 3.2px,#128bd3 4.2px,#06a0cd 5.2px,#0aacbe 6.2px,#5cbe8a 9.2px,#7bbf7c 10.2px,#bbbd62 14.2px,#e8b94f 19.2px,#edb94c 21.2px,#edb94c 50.2px,#86bf77 64.2px,#64be86 67.2px,#31b8a2 69.2px,#08aac0 71.2px,#069fce 72.2px,#1389d3 73.2px,#095fdf 75.2px,#3639a5 76.2px,#352b87 76.7px,#352a87 77.00px)"></i>
<i style="top:66px;left:101px;width:77px;background:linear-gradient(90deg,#352a87 0px,#352a87 0.4px,#274ecc 1.4px,#0269e1 2.4px,#0f78db 3.4px,#128bd3 4.4px,#06a0cd 5.4px,#0aacbd 6.4px,#3eba9a 8.4px,#7cbf7c 10.4px,#bcbd62 14.4px,#e9b94e 19.4px,#edb94c 23.4px,#edb94c 50.4px,#bebc61 56.4px,#8bbf75 63.4px,#6cbf82 66.4px,#12b0b6 70.4px,#06a6c7 71.4px,#1480d6 73.4px,#056ee0 74.4px,#254fce 75.4px,#352a87 76.4px,#352a87 77.00px)"></i>
<i style="top:67px;left:101px;width:77px;background:linear-gradient(90deg,#352a87 0px,#352a87 0.5px,#274ecc 1.5px,#0269e1 2.5px,#0f78db 3.5px,#128bd3 4.5px,#06a0cd 5.5px,#0aacbd 6.5px,#5ebe89 9.5px,#7dbf7b 10.5px,#bdbc61 14.5px,#eab94e 19.5px,#ebb94d 50.5px,#b6bd64 57.5px,#87bf77 63.5px,#65be86 66.5px,#32b8a1 68.5px,#09acbe 70.5px,#06a1cd 71.5px,#118cd2 72.5px,#1079da 73.5px,#0265e1 74.5px,#3440b3 75.5px,#352a87 76.2px,#352a87 77.00px)"></i>
<i style="top:68px;left:101px;width:76px;background:linear-gradient(90deg,#352a87 0px,#352a87 0.7px,#264ecc 1.7px,#0269e1 2.7px,#0f78db 3.7px,#128bd3 4.7px,#06a0cd 5.7px,#0aacbd 6.7px,#40ba99 8.7px,#7ebf7b 10.7px,#bebc61 14.7px,#e5b950 18.7px,#edb94c 21.7px,#edb94c 49.7px,#d8ba56 52.7px,#8dbf74 62.7px,#6bbe83 65.7px,#59bd8b 66.7px,#28b6a8 68.7px,#06a7c5 70.7px,#089ad1 71.7px,#1483d5 72.7px,#0971de 73.7px,#1658d9 74.7px,#363398 75.7px,#352a87 75.9px,#352a87 76.00px)"></i>
<i style="top:69px;left:101px;width:76px;background:linear-gradient(90deg,#352a87 0px,#352b87 0.8px,#264fcd 1.8px,#0269e1 2.8px,#1078da 3.8px,#128bd2 4.8px,#06a1cd 5.8px,#0bacbd 6.8px,#41ba99 8.8px,#7fbf7a 10.8px,#c0bc60 14.8px,#e6b950 18.8px,#eeb94c 21.8px,#eeb94c 49.8px,#92bf72 61.8px,#64be86 65.8px,#1eb3ae 68.8px,#0bacbd 69.8px,#06a2cc 70.8px,#127bd9 72.8px,#0269e1 73.8px,#2f47c0 74.8px,#352a87 75.7px,#352a87 76.00px)"></i>
<i style="top:70px;left:102px;width:75px;background:linear-gradient(90deg,#352a87 0px,#352a87 0.0px,#254fce 1.0px,#0269e1 2.0px,#0f78da 3.0px,#128bd2 4.0px,#06a1cd 5.0px,#0badbd 6.0px,#41ba98 8.0px,#80bf7a 10.0px,#c1bc60 14.0px,#e7b94f 18.0px,#eeb94b 21.0px,#edb94c 49.0px,#8fbf74 61.0px,#5bbe8a 65.0px,#29b6a7 67.0px,#06a8c4 69.0px,#079bd0 70.0px,#1486d4 71.0px,#0c74dd 72.0px,#0a5fdf 73.0px,#3639a5 74.0px,#352a87 74.4px,#352a87 75.00px)"></i>
<i style="top:71px;left:102px;width:75px;background:linear-gradient(90deg,#352a87 0px,#352a87 0.2px,#254fce 1.2px,#0269e1 2.2px,#0f78db 3.2px,#128bd2 4.2px,#06a1cd 5.2px,#0badbc 6.2px,#42bb98 8.2px,#81bf7a 10.2px,#c2bc5f 14.2px,#e8b94f 18.2px,#eeb94b 22.2px,#ebb94d 49.2px,#94bf72 60.2px,#62be87 64.2px,#4fbc91 65.2px,#1fb4ad 67.2px,#0dadbb 68.2px,#06a3ca 69.2px,#137ed7 71.2px,#046de0 72.2px,#254fcf 73.2px,#352a87 74.2px,#352a87 75.00px)"></i>
<i style="top:72px;left:102px;width:74px;background:linear-gradient(90deg,#352a87 0px,#352b87 0.3px,#254fcf 1.3px,#0269e1 2.3px,#1078da 3.3px,#128bd2 4.3px,#06a1cc 5.3px,#0cadbc 6.3px,#43bb97 8.3px,#82bf79 10.3px,#b6bd64 13.3px,#e9b94e 18.3px,#eeb94b 23.3px,#eeb94b 48.3px,#e1b952 50.3px,#9abf6f 59.3px,#78bf7d 62.3px,#5abd8b 64.3px,#16b1b4 67.3px,#07a9c2 68.3px,#079dcf 69.3px,#1388d3 70.3px,#0364e1 72.3px,#343fb2 73.3px,#352b87 74.0px,#352a87 74.00px)"></i>
<i style="top:73px;left:102px;width:74px;background:linear-gradient(90deg,#352a87 0px,#352a87 0.5px,#244fcf 1.5px,#0269e1 2.5px,#1078da 3.5px,#128bd2 4.5px,#06a1cc 5.5px,#0cadbc 6.5px,#44bb97 8.5px,#67be85 9.5px,#83bf79 10.5px,#b7bd64 13.5px,#e9b94e 18.5px,#eeb94b 23.5px,#eeb94b 48.5px,#96bf71 59.5px,#7fbf7a 61.5px,#51bc90 64.5px,#20b4ad 66.5px,#0eaeba 67.5px,#06a4c9 68.5px,#1480d6 70.5px,#0770df 71.5px,#1658d9 72.5px,#363296 73.5px,#352a87 73.7px,#352a87 74.00px)"></i>
<i style="top:74px;left:102px;width:74px;background:linear-gradient(90deg,#352a87 0px,#352a87 0.7px,#2450cf 1.7px,#0269e1 2.7px,#1078da 3.7px,#128bd2 4.7px,#06a1cc 5.7px,#0cadbb 6.7px,#45bb96 8.7px,#68be84 9.7px,#84bf78 10.7px,#b9bd63 13.7px,#eab94d 18.7px,#eeb94b 22.7px,#edb94c 48.7px,#9cbf6e 58.7px,#88bf77 60.7px,#5abd8b 63.7px,#17b1b3 66.7px,#08aac1 67.7px,#069fce 68.7px,#128bd2 69.7px,#1079da 70.7px,#0268e1 71.7px,#2f47c0 72.7px,#352a87 73.5px,#352a87 74.00px)"></i>
<i style="top:75px;left:102px;width:74px;background:linear-gradient(90deg,#352a87 0px,#352a87 0.8px,#2450cf 1.8px,#0269e1 2.8px,#1078da 3.8px,#128bd2 4.8px,#06a1cc 5.8px,#0dadbb 6.8px,#46bb96 8.8px,#69be84 9.8px,#85bf78 10.8px,#babd63 13.8px,#ebb94d 18.8px,#ecb94d 48.8px,#a2be6c 57.8px,#82bf79 60.8px,#52bd8f 63.8px,#22b4ac 65.8px,#0faeb9 66.8px,#06a6c7 67.8px,#0997d1 68.8px,#1483d5 69.8px,#0a73dd 70.8px,#0a5fdf 71.8px,#3638a4 72.8px,#352a87 73.2px,#352a87 74.00px)"></i>
<i style="top:76px;left:102px;width:73px;background:linear-gradient(90deg,#352a87 0px,#352b87 1.0px,#2350d0 2.0px,#0269e1 3.0px,#1078da 4.0px,#128cd2 5.0px,#06a2cc 6.0px,#0dadbb 7.0px,#47bb95 9.0px,#6bbf83 10.0px,#86bf77 11.0px,#bbbd62 14.0px,#e5b950 18.0px,#efb94b 20.0px,#efb94b 48.0px,#e2b951 50.0px,#9fbe6d 58.0px,#7cbf7c 61.0px,#47bb95 64.0px,#18b2b2 66.0px,#09abbf 67.0px,#06a0cd 68.0px,#108ed2 69.0px,#127cd9 70.0px,#046ce0 71.0px,#254fce 72.0px,#352b87 73.0px,#352a87 73.00px)"></i>
<i style="top:77px;left:103px;width:72px;background:linear-gradient(90deg,#352a87 0px,#352a87 0.2px,#2350d0 1.2px,#0269e1 2.2px,#1078da 3.2px,#128cd2 4.2px,#06a2cc 5.2px,#0daebb 6.2px,#48bb94 8.2px,#6dbf82 9.2px,#87bf77 10.2px,#bcbd62 13.2px,#e6b950 17.2px,#efb94b 20.2px,#efb94b 47.2px,#a6be6b 56.2px,#85bf78 59.2px,#52bd8f 62.2px,#10afb8 65.2px,#06a7c6 66.2px,#0899d1 67.2px,#1485d4 68.2px,#0364e1 70.2px,#343fb1 71.2px,#352a87 71.8px,#352a87 72.00px)"></i>
<i style="top:78px;left:103px;width:72px;background:linear-gradient(90deg,#352a87 0px,#352a87 0.3px,#2350d0 1.3px,#0269e1 2.3px,#1078da 3.3px,#128cd2 4.3px,#06a2cc 5.3px,#0eaeba 6.3px,#49bc94 8.3px,#6ebf81 9.3px,#9cbf6f 11.3px,#c9bc5c 14.3px,#edb94c 18.3px,#eeb94b 47.3px,#acbe68 55.3px,#7fbf7a 59.3px,#48bb94 62.3px,#1ab2b1 64.3px,#09acbe 65.3px,#06a1cc 66.3px,#137ed7 68.3px,#066fdf 69.3px,#1658d9 70.3px,#363195 71.3px,#352a87 71.5px,#352a87 72.00px)"></i>
<i style="top:79px;left:103px;width:72px;background:linear-gradient(90deg,#352a87 0px,#352b87 0.5px,#2251d1 1.5px,#0269e1 2.5px,#1078da 3.5px,#118cd2 4.5px,#06a2cb 5.5px,#0eaeba 6.5px,#4bbc93 8.5px,#70bf81 9.5px,#9dbe6e 11.5px,#bfbc61 13.5px,#e8b94f 17.5px,#efb94b 20.5px,#edb94c 47.5px,#9fbe6d 56.5px,#78bf7d 59.5px,#3dba9b 62.5px,#11afb7 64.5px,#06a8c5 65.5px,#089bd0 66.5px,#1388d3 67.5px,#0f77db 68.5px,#0267e1 69.5px,#2f47c0 70.5px,#352b87 71.3px,#352a87 72.00px)"></i>
<i style="top:80px;left:103px;width:72px;background:linear-gradient(90deg,#352a87 0px,#352a87 0.6px,#2251d1 1.6px,#0269e1 2.6px,#1078da 3.6px,#118cd2 4.6px,#06a2cb 5.6px,#0eaeba 6.6px,#4cbc92 8.6px,#72bf80 9.6px,#9ebe6e 11.6px,#c0bc60 13.6px,#e9b94e 17.6px,#efb94b 20.6px,#ecb94d 47.6px,#9bbf6f 56.6px,#83bf79 58.6px,#49bc94 61.6px,#1bb2b0 63.6px,#0aacbd 64.6px,#06a3cb 65.6px,#1480d6 67.6px,#0871de 68.6px,#0b5ede 69.6px,#3638a2 70.6px,#352a87 71.0px,#352a87 72.00px)"></i>
<i style="top:81px;left:103px;width:71px;background:linear-gradient(90deg,#352a87 0px,#352a87 0.8px,#2251d2 1.8px,#026ae1 2.8px,#0f78da 3.8px,#118cd2 4.8px,#06a2cb 5.8px,#0faeb9 6.8px,#4dbc92 8.8px,#74bf7f 9.8px,#9fbe6d 11.8px,#c1bc60 13.8px,#eab94d 17.8px,#efb94b 22.8px,#efb94b 46.8px,#e1b952 48.8px,#a2be6c 55.8px,#7bbf7c 58.8px,#3fba99 61.8px,#12b0b6 63.8px,#06a8c3 64.8px,#079dcf 65.8px,#138ad3 66.8px,#1079da 67.8px,#036ae1 68.8px,#2450cf 69.8px,#352a87 70.8px,#352a87 71.00px)"></i>
<i style="top:82px;left:103px;width:71px;background:linear-gradient(90deg,#352a87 0px,#352a87 1.0px,#2251d2 2.0px,#026ae1 3.0px,#0f78db 4.0px,#118cd2 5.0px,#06a3cb 6.0px,#0faeb9 7.0px,#4ebc91 9.0px,#75bf7e 10.0px,#a1be6d 12.0px,#c2bc5f 14.0px,#ebb94d 18.0px,#efb94a 22.0px,#eeb94b 47.0px,#eab94e 48.0px,#bdbd61 53.0px,#86bf77 58.0px,#34b8a0 62.0px,#0badbc 64.0px,#06a4c9 65.0px,#1482d5 67.0px,#0363e1 69.0px,#343fb1 70.0px,#352a87 70.5px,#352a87 71.00px)"></i>
<i style="top:83px;left:104px;width:70px;background:linear-gradient(90deg,#352a87 0px,#352b87 0.1px,#2152d3 1.1px,#026ae1 2.1px,#0f78da 3.1px,#118dd2 4.1px,#06a3ca 5.1px,#10afb9 6.1px,#50bc90 8.1px,#77bf7e 9.1px,#b5bd65 12.1px,#ecb94c 17.1px,#f0b94a 25.1px,#edb94c 46.1px,#a6be6a 54.1px,#80bf7a 57.1px,#41ba99 60.1px,#14b0b5 62.1px,#07a9c2 63.1px,#079ecf 64.1px,#118cd2 65.1px,#117bd9 66.1px,#046de0 67.1px,#1658d9 68.1px,#363093 69.1px,#352b87 69.3px,#352a87 70.00px)"></i>
<i style="top:84px;left:104px;width:70px;background:linear-gradient(90deg,#352a87 0px,#352a87 0.3px,#2152d3 1.3px,#026ae1 2.3px,#0f78db 3.3px,#118dd2 4.3px,#06a3ca 5.3px,#10afb8 6.3px,#51bd8f 8.3px,#79bf7d 9.3px,#b6bd64 12.3px,#edb94c 17.3px,#edb94c 46.3px,#aebe67 53.3px,#89bf76 56.3px,#62be87 58.3px,#1fb3ae 61.3px,#0cadbb 62.3px,#06a5c8 63.3px,#1484d4 65.3px,#0266e1 67.3px,#2f47c0 68.3px,#352a87 69.1px,#352a87 70.00px)"></i>
<i style="top:85px;left:104px;width:69px;background:linear-gradient(90deg,#352a87 0px,#352a87 0.4px,#2052d3 1.4px,#026ae1 2.4px,#0f78db 3.4px,#118dd2 4.4px,#06a3ca 5.4px,#10afb8 6.4px,#53bd8f 8.4px,#7abf7c 9.4px,#b8bd63 12.4px,#e6b950 16.4px,#f0b94a 18.4px,#f0b94a 45.4px,#e2b952 47.4px,#aabe69 53.4px,#84bf78 56.4px,#2bb6a5 60.4px,#15b1b4 61.4px,#07aac1 62.4px,#06a0cd 63.4px,#108ed2 64.4px,#127dd8 65.4px,#076fdf 66.4px,#0c5dde 67.4px,#3637a1 68.4px,#352a87 68.8px,#352a87 69.00px)"></i>
<i style="top:86px;left:104px;width:69px;background:linear-gradient(90deg,#352a87 0px,#352b87 0.6px,#1f53d4 1.6px,#036ae1 2.6px,#0f78db 3.6px,#118dd2 4.6px,#06a4ca 5.6px,#11afb7 6.6px,#55bd8e 8.6px,#7cbf7c 9.6px,#b9bd63 12.6px,#e7b94f 16.6px,#efb94b 17.6px,#efb94b 45.6px,#ebb94d 46.6px,#c4bc5e 50.6px,#9abf6f 54.6px,#7dbf7b 56.6px,#21b4ac 60.6px,#0daeba 61.6px,#06a6c7 62.6px,#0998d1 63.6px,#1486d4 64.6px,#0269e1 66.6px,#244fcf 67.6px,#352b87 68.6px,#352a87 69.00px)"></i>
<i style="top:87px;left:104px;width:69px;background:linear-gradient(90deg,#352a87 0px,#352a87 0.8px,#1f53d4 1.8px,#036ae1 2.8px,#0f78db 3.8px,#118dd2 4.8px,#06a4c9 5.8px,#12afb7 6.8px,#56bd8d 8.8px,#7dbf7b 9.8px,#bbbd62 12.8px,#e8b94f 16.8px,#f0b94a 18.8px,#efb94b 45.8px,#afbe67 52.8px,#87bf77 55.8px,#5cbe8a 57.8px,#17b1b3 60.8px,#08aac0 61.8px,#06a1cc 62.8px,#137fd7 64.8px,#0871de 65.8px,#0562e0 66.8px,#343eb0 67.8px,#352a87 68.3px,#352a87 69.00px)"></i>
<i style="top:88px;left:104px;width:69px;background:linear-gradient(90deg,#352a87 0px,#352a87 0.9px,#1f53d4 1.9px,#036ae1 2.9px,#0f78db 3.9px,#118dd2 4.9px,#06a4c9 5.9px,#12afb7 6.9px,#58bd8c 8.9px,#7ebf7b 9.9px,#bcbd62 12.9px,#e9b94e 16.9px,#f0b94a 17.9px,#eeb94b 45.9px,#abbe69 52.9px,#82bf79 55.9px,#23b5ab 59.9px,#0faeb9 60.9px,#06a7c6 61.9px,#089ad0 62.9px,#1388d3 63.9px,#0f78db 64.9px,#036be0 65.9px,#1658d9 66.9px,#362f91 67.9px,#352a87 68.1px,#352a87 69.00px)"></i>
<i style="top:89px;left:105px;width:67px;background:linear-gradient(90deg,#352a87 0px,#352a87 0.1px,#1f53d4 1.1px,#036ae1 2.1px,#0f78db 3.1px,#118ed2 4.1px,#06a4c9 5.1px,#12b0b6 6.1px,#59bd8b 8.1px,#7fbf7a 9.1px,#bdbc61 12.1px,#eab94d 16.1px,#f0b94a 18.1px,#eeb94b 45.1px,#c6bc5e 49.1px,#a7be6a 52.1px,#7abf7c 55.1px,#19b2b1 59.1px,#09abbf 60.1px,#06a2cb 61.1px,#1480d6 63.1px,#0265e1 65.1px,#2f47c0 66.1px,#352a87 66.8px,#352a87 67.00px)"></i>
<i style="top:90px;left:105px;width:67px;background:linear-gradient(90deg,#352a87 0px,#352b87 0.3px,#1d54d5 1.3px,#036ae1 2.3px,#0f78db 3.3px,#108ed2 4.3px,#06a5c9 5.3px,#13b0b6 6.3px,#5bbd8a 8.3px,#81bf7a 9.3px,#bfbc61 12.3px,#ecb94d 16.3px,#f1b94a 21.3px,#f0b94a 44.3px,#ecb94d 45.3px,#c3bc5f 49.3px,#a2be6c 52.3px,#85bf78 54.3px,#71bf80 55.3px,#26b5a9 58.3px,#10afb8 59.3px,#06a8c5 60.3px,#079cd0 61.3px,#1389d3 62.3px,#117ada 63.3px,#046de0 64.3px,#0d5dde 65.3px,#3636a0 66.3px,#352b87 66.6px,#352a87 67.00px)"></i>
<i style="top:91px;left:105px;width:67px;background:linear-gradient(90deg,#352a87 0px,#352a87 0.4px,#1d54d5 1.4px,#036ae1 2.4px,#0f78db 3.4px,#108ed2 4.4px,#06a5c9 5.4px,#14b0b6 6.4px,#35b8a0 7.4px,#82bf79 9.4px,#c0bc60 12.4px,#edb94c 16.4px,#f1b94a 20.4px,#f0b94a 44.4px,#b8bd63 50.4px,#7fbf7a 54.4px,#1cb3b0 58.4px,#0aacbe 59.4px,#06a3ca 60.4px,#1482d5 62.4px,#0267e1 64.4px,#2450cf 65.4px,#352a87 66.3px,#352a87 67.00px)"></i>
<i style="top:92px;left:105px;width:67px;background:linear-gradient(90deg,#352a87 0px,#352a87 0.6px,#1d54d6 1.6px,#036ae1 2.6px,#0f77db 3.6px,#108ed2 4.6px,#06a5c8 5.6px,#14b0b5 6.6px,#36b99f 7.6px,#83bf79 9.6px,#c1bc60 12.6px,#eeb94b 16.6px,#f0b94a 44.6px,#b5bd65 50.6px,#78bf7d 54.6px,#29b6a7 57.6px,#13b0b6 58.6px,#06a8c4 59.6px,#079dcf 60.6px,#128bd2 61.6px,#127bd9 62.6px,#066edf 63.6px,#0760e0 64.6px,#343eaf 65.6px,#352a87 66.1px,#352a87 67.00px)"></i>
<i style="top:93px;left:105px;width:66px;background:linear-gradient(90deg,#352a87 0px,#352b87 0.8px,#1b55d6 1.8px,#036ae1 2.8px,#0f77db 3.8px,#108fd2 4.8px,#06a5c8 5.8px,#15b0b5 6.8px,#37b99e 7.8px,#85bf78 9.8px,#b1bd66 11.8px,#cebb5a 13.8px,#efb94b 16.8px,#efb94b 44.8px,#c5bc5e 48.8px,#a2be6c 51.8px,#83bf78 53.8px,#6dbf82 54.8px,#1eb3ae 57.8px,#0bacbd 58.8px,#06a4c9 59.8px,#1484d4 61.8px,#0269e1 63.8px,#1758d9 64.8px,#362e8f 65.8px,#352b87 65.9px,#352a87 66.00px)"></i>
<i style="top:94px;left:105px;width:66px;background:linear-gradient(90deg,#352a87 0px,#352a87 0.9px,#1b55d7 1.9px,#036ae1 2.9px,#0f77db 3.9px,#108fd2 4.9px,#06a5c8 5.9px,#15b1b4 6.9px,#38b99d 7.9px,#63be87 8.9px,#86bf77 9.9px,#b3bd65 11.9px,#e7b94f 15.9px,#f1b94a 16.9px,#f1b94a 43.9px,#ecb94c 44.9px,#acbe68 50.9px,#7dbf7b 53.9px,#2cb7a5 56.9px,#15b0b5 57.9px,#07a9c3 58.9px,#069fce 59.9px,#118dd2 60.9px,#137dd8 61.9px,#0770df 62.9px,#0363e1 63.9px,#2f46bf 64.9px,#352a87 65.6px,#352a87 66.00px)"></i>
<i style="top:95px;left:106px;width:65px;background:linear-gradient(90deg,#352a87 0px,#352a87 0.1px,#1b55d7 1.1px,#036ae1 2.1px,#0f77db 3.1px,#108fd2 4.1px,#06a5c8 5.1px,#15b0b5 6.1px,#37b99e 7.1px,#62be87 8.1px,#84bf78 9.1px,#b2bd66 11.1px,#dcba54 14.1px,#f1b949 16.1px,#f1b949 43.1px,#b6bd64 49.1px,#88bf76 52.1px,#74bf7f 53.1px,#3ab99c 55.1px,#0dadbb 57.1px,#06a5c8 58.1px,#0998d1 59.1px,#1485d4 60.1px,#036ae1 62.1px,#105bdd 63.1px,#36349a 64.1px,#352a87 64.3px,#352a87 65.00px)"></i>
<i style="top:96px;left:106px;width:65px;background:linear-gradient(90deg,#352a87 0px,#352a87 0.3px,#1b55d6 1.3px,#036ae1 2.3px,#0f77db 3.3px,#108ed2 4.3px,#06a4c9 5.3px,#13b0b6 6.3px,#34b8a0 7.3px,#5ebe89 8.3px,#80bf7a 9.3px,#afbe67 11.3px,#e9b94e 15.3px,#f2b949 16.3px,#f2b949 43.3px,#b1bd66 49.3px,#82bf79 52.3px,#30b7a2 55.3px,#18b1b2 56.3px,#08aac1 57.3px,#06a1cd 58.3px,#137ed7 60.3px,#0364e1 62.3px,#2d48c3 63.3px,#352a87 64.0px,#352a87 65.00px)"></i>
<i style="top:97px;left:106px;width:64px;background:linear-gradient(90deg,#352a87 0px,#352a87 0.5px,#1c55d6 1.5px,#036ae1 2.5px,#0f77db 3.5px,#108ed2 4.5px,#06a4ca 5.5px,#12afb7 6.5px,#32b8a2 7.5px,#5abd8b 8.5px,#7cbf7c 9.5px,#adbe68 11.5px,#eab94e 15.5px,#f2b949 16.5px,#f2b949 42.5px,#eeb94b 43.5px,#bbbd62 48.5px,#7cbf7c 52.5px,#26b5a9 55.5px,#10afb9 56.5px,#06a7c6 57.5px,#089ad0 58.5px,#1487d3 59.5px,#0f78db 60.5px,#036be0 61.5px,#105bdd 62.5px,#36339a 63.5px,#352b87 63.7px,#352a87 64.00px)"></i>
<i style="top:98px;left:106px;width:64px;background:linear-gradient(90deg,#352a87 0px,#352a87 0.7px,#1c55d6 1.7px,#036ae1 2.7px,#0f77db 3.7px,#118dd2 4.7px,#06a3ca 5.7px,#10afb8 6.7px,#2fb7a3 7.7px,#56bd8d 8.7px,#92bf72 10.7px,#abbe69 11.7px,#ebb94d 15.7px,#f3b948 17.7px,#f3b948 42.7px,#b6bd64 48.7px,#88bf76 51.7px,#71bf80 52.7px,#35b89f 54.7px,#09abbf 56.7px,#06a2cb 57.7px,#1480d6 59.7px,#0265e1 61.7px,#2e48c3 62.7px,#352a87 63.4px,#352a87 64.00px)"></i>
<i style="top:99px;left:106px;width:64px;background:linear-gradient(90deg,#352a87 0px,#352a87 0.9px,#1d55d6 1.9px,#026ae1 2.9px,#0f77db 3.9px,#118dd2 4.9px,#06a2cb 5.9px,#0faeb9 6.9px,#2cb7a5 7.9px,#53bd8f 8.9px,#8fbf74 10.9px,#bbbd62 12.9px,#edb94c 15.9px,#f3ba48 17.9px,#f3ba48 42.9px,#b2bd66 48.9px,#82bf79 51.9px,#2bb6a6 54.9px,#13b0b6 55.9px,#06a8c4 56.9px,#079ccf 57.9px,#1389d3 58.9px,#1079da 59.9px,#046ce0 60.9px,#0f5cdd 61.9px,#363399 62.9px,#352a87 63.1px,#352a87 64.00px)"></i>
<i style="top:100px;left:107px;width:62px;background:linear-gradient(90deg,#352a87 0px,#352a87 0.1px,#1d54d6 1.1px,#026ae1 2.1px,#0f77db 3.1px,#118cd2 4.1px,#06a2cc 5.1px,#0daebb 6.1px,#29b6a7 7.1px,#4fbc91 8.1px,#a6be6a 11.1px,#efb94b 15.1px,#f4ba47 20.1px,#f4ba47 41.1px,#f0b94a 42.1px,#aebe67 48.1px,#8ebf74 50.1px,#78bf7d 51.1px,#20b4ad 54.1px,#0badbc 55.1px,#06a4c9 56.1px,#1482d5 58.1px,#0265e1 60.1px,#2e48c2 61.1px,#352b87 61.8px,#352a87 62.00px)"></i>
<i style="top:101px;left:107px;width:62px;background:linear-gradient(90deg,#352a87 0px,#352a87 0.3px,#1d54d5 1.3px,#026ae1 2.3px,#0f77db 3.3px,#128cd2 4.3px,#06a1cc 5.3px,#0cadbc 6.3px,#26b5a9 7.3px,#4bbc93 8.3px,#a3be6b 11.3px,#f1b94a 15.3px,#f4ba47 41.3px,#cfbb5a 45.3px,#9abf6f 49.3px,#87bf77 50.3px,#4cbc92 52.3px,#16b1b4 54.3px,#07a9c2 55.3px,#069ece 56.3px,#128cd2 57.3px,#117ad9 58.3px,#046de0 59.3px,#0f5cdd 60.3px,#363398 61.3px,#352a87 61.5px,#352a87 62.00px)"></i>
<i style="top:102px;left:107px;width:62px;background:linear-gradient(90deg,#352a87 0px,#352a87 0.5px,#1d54d5 1.5px,#0269e1 2.5px,#0e77db 3.5px,#128bd2 4.5px,#06a0cd 5.5px,#0bacbd 6.5px,#24b5aa 7.5px,#65be86 9.5px,#a1be6d 11.5px,#e2b952 14.5px,#f2b949 15.5px,#f4ba47 41.5px,#ccbb5b 45.5px,#94bf72 49.5px,#7fbf7a 50.5px,#25b5aa 53.5px,#0eaeba 54.5px,#06a5c8 55.5px,#0997d1 56.5px,#1483d5 57.5px,#0266e1 59.5px,#2e48c2 60.5px,#352a87 61.2px,#352a87 62.00px)"></i>
<i style="top:103px;left:107px;width:61px;background:linear-gradient(90deg,#352a87 0px,#352a87 0.7px,#1e54d5 1.7px,#0269e1 2.7px,#0e77db 3.7px,#128ad3 4.7px,#069fce 5.7px,#09acbe 6.7px,#21b4ac 7.7px,#61be88 9.7px,#9ebe6d 11.7px,#e3b951 14.7px,#f3ba48 15.7px,#f2b949 41.7px,#c8bc5d 45.7px,#a0be6d 48.7px,#74bf7f 50.7px,#35b8a0 52.7px,#1ab2b1 53.7px,#08aac0 54.7px,#06a0cd 55.7px,#108ed2 56.7px,#127cd8 57.7px,#056de0 58.7px,#0e5cde 59.7px,#363297 60.7px,#352b87 60.9px,#352a87 61.00px)"></i>
<i style="top:104px;left:107px;width:61px;background:linear-gradient(90deg,#352a87 0px,#352a87 0.9px,#1e54d5 1.9px,#0269e1 2.9px,#0e77db 3.9px,#138ad3 4.9px,#069fce 5.9px,#09abbf 6.9px,#1eb3ae 7.9px,#7fbf7a 10.9px,#b7bd64 12.9px,#e5b950 14.9px,#f3ba48 15.9px,#f6ba46 40.9px,#dfba53 43.9px,#9abf6f 48.9px,#86bf77 49.9px,#29b6a7 52.9px,#11afb8 53.9px,#06a7c6 54.9px,#089ad1 55.9px,#1485d4 56.9px,#0266e1 58.9px,#2e48c2 59.9px,#352a87 60.6px,#352a87 61.00px)"></i>
<i style="top:105px;left:108px;width:60px;background:linear-gradient(90deg,#352a87 0px,#352a87 0.1px,#1e54d5 1.1px,#0269e1 2.1px,#0e77db 3.1px,#1389d3 4.1px,#079ecf 5.1px,#08aac1 6.1px,#1cb3b0 7.1px,#58bd8c 9.1px,#9bbf6f 11.1px,#e8b94f 14.1px,#f4ba47 15.1px,#f5ba46 40.1px,#dbba55 43.1px,#a5be6b 47.1px,#7bbf7c 49.1px,#3ab99c 51.1px,#1eb3ae 52.1px,#0aacbe 53.1px,#06a2cb 54.1px,#137dd8 56.1px,#066edf 57.1px,#0e5cde 58.1px,#363296 59.1px,#352a87 59.3px,#352a87 60.00px)"></i>
<i style="top:106px;left:108px;width:59px;background:linear-gradient(90deg,#352a87 0px,#352a87 0.3px,#1e54d5 1.3px,#0269e1 2.3px,#0e76db 3.3px,#1388d3 4.3px,#079dcf 5.3px,#07a9c2 6.3px,#1ab2b1 7.3px,#54bd8e 9.3px,#9abf6f 11.3px,#ebb94d 14.3px,#f4ba47 15.3px,#f7ba45 39.3px,#e4b951 42.3px,#a0be6d 47.3px,#8cbf75 48.3px,#4dbc92 50.3px,#14b0b5 52.3px,#06a8c4 53.3px,#079cd0 54.3px,#1487d3 55.3px,#0267e1 57.3px,#2e48c1 58.3px,#352b87 59.0px,#352a87 59.00px)"></i>
<i style="top:107px;left:108px;width:59px;background:linear-gradient(90deg,#352a87 0px,#352a87 0.5px,#1e54d5 1.5px,#0269e1 2.5px,#0e76dc 3.5px,#1388d3 4.5px,#079cd0 5.5px,#07a9c3 6.5px,#17b1b3 7.5px,#50bc90 9.5px,#99bf70 11.5px,#eeb94c 14.5px,#f7ba45 16.5px,#f7ba45 39.5px,#e2b951 42.5px,#99bf6f 47.5px,#82bf79 48.5px,#23b4ab 51.5px,#0cadbc 52.5px,#06a4ca 53.5px,#137fd7 55.5px,#066fdf 56.5px,#0e5dde 57.5px,#363195 58.5px,#352a87 58.7px,#352a87 59.00px)"></i>
<i style="top:108px;left:108px;width:59px;background:linear-gradient(90deg,#352a87 0px,#352a87 0.7px,#1e54d5 1.7px,#0269e1 2.7px,#1487d3 4.7px,#089bd0 5.7px,#06a8c4 6.7px,#15b0b5 7.7px,#4dbc92 9.7px,#98bf70 11.7px,#f1b94a 14.7px,#f7ba45 17.7px,#f7ba45 39.7px,#deba53 42.7px,#a6be6a 46.7px,#92bf72 47.7px,#54bd8e 49.7px,#18b1b2 51.7px,#07a9c2 52.7px,#079ecf 53.7px,#1389d3 54.7px,#0e77db 55.7px,#0268e1 56.7px,#2e47c1 57.7px,#352a87 58.4px,#352a87 59.00px)"></i>
<i style="top:109px;left:108px;width:59px;background:linear-gradient(90deg,#352a87 0px,#352a87 0.9px,#1e53d5 1.9px,#0268e1 2.9px,#1486d4 4.9px,#089ad1 5.9px,#06a7c6 6.9px,#13b0b6 7.9px,#4abc93 9.9px,#98bf70 11.9px,#d8ba56 13.9px,#f3b948 14.9px,#f8ba44 19.9px,#f5ba47 39.9px,#e8b94f 41.9px,#a0be6d 46.9px,#89bf76 47.9px,#46bb95 49.9px,#27b6a8 50.9px,#0faeb9 51.9px,#06a5c8 52.9px,#0b96d1 53.9px,#1480d6 54.9px,#0770df 55.9px,#0d5dde 56.9px,#363194 57.9px,#352b87 58.1px,#352a87 59.00px)"></i>
<i style="top:110px;left:109px;width:57px;background:linear-gradient(90deg,#352a87 0px,#352a87 0.1px,#1e53d5 1.1px,#0268e1 2.1px,#1485d4 4.1px,#0998d1 5.1px,#06a6c7 6.1px,#11afb8 7.1px,#28b6a7 8.1px,#47bb95 9.1px,#98bf70 11.1px,#dbba55 13.1px,#f4ba47 14.1px,#f8bb44 22.1px,#f8bb44 38.1px,#e5b950 41.1px,#abbe68 45.1px,#98bf70 46.1px,#7ebf7b 47.1px,#39b99d 49.1px,#1cb3b0 50.1px,#08abc0 51.1px,#06a0cd 52.1px,#128bd2 53.1px,#1078da 54.1px,#0268e1 55.1px,#2f47c1 56.1px,#352a87 56.8px,#352a87 57.00px)"></i>
<i style="top:111px;left:109px;width:57px;background:linear-gradient(90deg,#352a87 0px,#352a87 0.3px,#1e53d5 1.3px,#0268e1 2.3px,#1484d4 4.3px,#0997d1 5.3px,#06a5c8 6.3px,#0faeb9 7.3px,#25b5a9 8.3px,#44bb97 9.3px,#98bf70 11.3px,#deba53 13.3px,#f5ba47 14.3px,#f9bb44 22.3px,#f8ba44 38.3px,#ecb94c 40.3px,#e1ba52 41.3px,#c2bc5f 43.3px,#a6be6a 45.3px,#90bf73 46.3px,#4dbc92 48.3px,#2cb7a5 49.3px,#12afb7 50.3px,#06a7c6 51.3px,#0998d1 52.3px,#1482d5 53.3px,#0871de 54.3px,#0d5dde 55.3px,#363093 56.3px,#352a87 56.4px,#352a87 57.00px)"></i>
<i style="top:112px;left:109px;width:57px;background:linear-gradient(90deg,#352a87 0px,#352a87 0.5px,#1e53d5 1.5px,#0268e1 2.5px,#1484d4 4.5px,#06a4c9 6.5px,#0dadbb 7.5px,#22b4ab 8.5px,#42bb98 9.5px,#99bf70 11.5px,#e1b952 13.5px,#f5ba46 14.5px,#f9bb43 18.5px,#f7ba45 38.5px,#ecb94c 40.5px,#cabb5c 42.5px,#9fbe6d 45.5px,#85bf78 46.5px,#3fba99 48.5px,#20b4ad 49.5px,#0aacbe 50.5px,#06a2cc 51.5px,#108ed2 52.5px,#107ada 53.5px,#0269e1 54.5px,#2f47c0 55.5px,#352b87 56.1px,#352a87 57.00px)"></i>
<i style="top:113px;left:109px;width:56px;background:linear-gradient(90deg,#352a87 0px,#352a87 0.7px,#1e54d5 1.7px,#0268e1 2.7px,#1483d5 4.7px,#06a3ca 6.7px,#0badbd 7.7px,#1fb4ad 8.7px,#3fba99 9.7px,#9abf6f 11.7px,#e5b950 13.7px,#f6ba46 14.7px,#f9bb43 37.7px,#e8b94f 40.7px,#c7bc5d 42.7px,#acbe68 44.7px,#96bf71 45.7px,#79bf7d 46.7px,#32b8a2 48.7px,#15b1b4 49.7px,#06a8c4 50.7px,#089bd0 51.7px,#1484d4 52.7px,#0972de 53.7px,#0c5ede 54.7px,#363092 55.7px,#352a87 55.8px,#352a87 56.00px)"></i>
<i style="top:114px;left:109px;width:56px;background:linear-gradient(90deg,#352a87 0px,#352a87 0.9px,#1e54d5 1.9px,#0267e1 2.9px,#1482d5 4.9px,#06a2cb 6.9px,#09acbe 7.9px,#1cb3af 8.9px,#3dba9b 9.9px,#9bbf6f 11.9px,#e9b94e 13.9px,#f7ba45 14.9px,#f9bb43 37.9px,#f1b94a 39.9px,#cfbb5a 41.9px,#a5be6b 44.9px,#8cbf75 45.9px,#46bb96 47.9px,#25b5aa 48.9px,#0cadbb 49.9px,#06a3ca 50.9px,#0f90d2 51.9px,#117bd9 52.9px,#0269e1 53.9px,#2f47c0 54.9px,#352a87 55.5px,#352a87 56.00px)"></i>
<i style="top:115px;left:110px;width:55px;background:linear-gradient(90deg,#352a87 0px,#352a87 0.1px,#1e54d5 1.1px,#0267e1 2.1px,#1481d5 4.1px,#06a1cc 6.1px,#08abc0 7.1px,#1ab2b1 8.1px,#3bba9c 9.1px,#9dbf6e 11.1px,#edb94c 13.1px,#f8ba45 14.1px,#f8bb44 37.1px,#f0b94a 39.1px,#cbbb5b 41.1px,#b1bd66 43.1px,#9dbf6e 44.1px,#80bf7a 45.1px,#37b99e 47.1px,#19b2b2 48.1px,#07a9c2 49.1px,#079dcf 50.1px,#1486d4 51.1px,#0a73dd 52.1px,#0b5ede 53.1px,#362f91 54.1px,#352b87 54.2px,#352a87 55.00px)"></i>
<i style="top:116px;left:110px;width:54px;background:linear-gradient(90deg,#352a87 0px,#352a87 0.3px,#1e54d5 1.3px,#0267e1 2.3px,#1480d6 4.3px,#06a0cd 6.3px,#07aac1 7.3px,#17b1b3 8.3px,#3ab99d 9.3px,#9fbe6d 11.3px,#f2b949 13.3px,#fabc41 15.3px,#f8ba44 37.3px,#eab94d 39.3px,#c7bc5d 41.3px,#acbe68 43.3px,#74bf7f 45.3px,#2ab6a7 47.3px,#0faeb9 48.3px,#06a5c8 49.3px,#127cd8 51.3px,#036ae1 52.3px,#2f47c0 53.3px,#352a87 53.9px,#352a87 54.00px)"></i>
<i style="top:117px;left:110px;width:54px;background:linear-gradient(90deg,#352a87 0px,#352a87 0.5px,#1e54d5 1.5px,#0267e1 2.5px,#137fd6 4.5px,#108fd2 5.5px,#069ece 6.5px,#07a9c2 7.5px,#15b0b4 8.5px,#38b99e 9.5px,#a1be6c 11.5px,#f5ba47 13.5px,#fbbc41 17.5px,#fabc42 36.5px,#f5ba47 38.5px,#d0bb5a 40.5px,#b6bd64 42.5px,#a3be6b 43.5px,#88bf77 44.5px,#3dba9a 46.5px,#1db3af 47.5px,#08abc0 48.5px,#069fce 49.5px,#1387d3 50.5px,#0b74dd 51.5px,#0b5edf 52.5px,#362f90 53.5px,#352a87 53.6px,#352a87 54.00px)"></i>
<i style="top:118px;left:110px;width:54px;background:linear-gradient(90deg,#352a87 0px,#352a87 0.7px,#1d54d5 1.7px,#0266e1 2.7px,#137fd7 4.7px,#118dd2 5.7px,#079dcf 6.7px,#06a8c4 7.7px,#13b0b6 8.7px,#37b99e 9.7px,#6cbf83 10.7px,#a4be6b 11.7px,#d3bb58 12.7px,#f6ba46 13.7px,#fbbc41 18.7px,#fabc42 36.7px,#f3b948 38.7px,#ccbb5b 40.7px,#b2bd66 42.7px,#9abf6f 43.7px,#7bbf7c 44.7px,#2fb7a3 46.7px,#12b0b6 47.7px,#06a6c7 48.7px,#137ed7 50.7px,#036be1 51.7px,#2f46bf 52.7px,#352b87 53.3px,#352a87 54.00px)"></i>
<i style="top:119px;left:110px;width:53px;background:linear-gradient(90deg,#352a87 0px,#352a87 0.9px,#1d54d5 1.9px,#0266e1 2.9px,#137ed7 4.9px,#118cd2 5.9px,#079cd0 6.9px,#06a7c5 7.9px,#11afb7 8.9px,#36b89f 9.9px,#6dbf82 10.9px,#a7be6a 11.9px,#d7ba57 12.9px,#f7ba45 13.9px,#fbbd40 18.9px,#fabb42 36.9px,#f8ba44 37.9px,#ecb94c 38.9px,#d5ba57 39.9px,#aabe69 42.9px,#8fbf74 43.9px,#6dbf82 44.9px,#44bb97 45.9px,#22b4ac 46.9px,#0aacbe 47.9px,#06a1cc 48.9px,#138ad3 49.9px,#0a5fdf 51.9px,#362e8f 52.9px,#352a87 53.0px,#352a87 53.00px)"></i>
<i style="top:120px;left:111px;width:52px;background:linear-gradient(90deg,#352a87 0px,#352a87 0.1px,#1d54d5 1.1px,#0266e1 2.1px,#127dd8 4.1px,#128bd3 5.1px,#089ad0 6.1px,#06a6c7 7.1px,#10afb8 8.1px,#35b8a0 9.1px,#6fbf81 10.1px,#abbe68 11.1px,#dcba54 12.1px,#f7ba45 13.1px,#fcbd40 15.1px,#fabc42 36.1px,#f9bb44 37.1px,#d1bb59 39.1px,#b7bd64 41.1px,#a1be6d 42.1px,#83bf79 43.1px,#35b8a0 45.1px,#16b1b4 46.1px,#06a8c5 47.1px,#0998d1 48.1px,#137fd6 49.1px,#036be0 50.1px,#2f46bf 51.1px,#352a87 51.7px,#352a87 52.00px)"></i>
<i style="top:121px;left:111px;width:52px;background:linear-gradient(90deg,#352a87 0px,#352a87 0.3px,#1d55d6 1.3px,#0266e1 2.3px,#127cd8 4.3px,#1389d3 5.3px,#0899d1 6.3px,#06a5c8 7.3px,#0faeb9 8.3px,#34b8a0 9.3px,#72bf80 10.3px,#afbe67 11.3px,#e1b952 12.3px,#f8ba44 13.3px,#fcbd3f 15.3px,#fabc42 36.3px,#f5ba47 37.3px,#ddba54 38.3px,#b2bd66 41.3px,#75bf7e 43.3px,#26b5a9 45.3px,#0cadbb 46.3px,#06a3cb 47.3px,#128cd2 48.3px,#0d76dc 49.3px,#0a5fdf 50.3px,#362e8e 51.3px,#352b87 51.4px,#352a87 52.00px)"></i>
<i style="top:122px;left:111px;width:52px;background:linear-gradient(90deg,#352a87 0px,#352a87 0.5px,#1c55d6 1.5px,#0265e1 2.5px,#117bd9 4.5px,#1388d3 5.5px,#06a4c9 7.5px,#0eaeba 8.5px,#33b8a1 9.5px,#75bf7f 10.5px,#b3bd65 11.5px,#e6b94f 12.5px,#f9bb43 13.5px,#fcbd3f 17.5px,#fbbc41 36.5px,#eeb94b 37.5px,#d5ba57 38.5px,#bcbd62 40.5px,#a8be6a 41.5px,#8abf76 42.5px,#3bb99c 44.5px,#1ab2b1 45.5px,#07a9c2 46.5px,#089bd0 47.5px,#1481d6 48.5px,#046ce0 49.5px,#3046be 50.5px,#352a87 51.1px,#352a87 52.00px)"></i>
<i style="top:123px;left:111px;width:51px;background:linear-gradient(90deg,#352a87 0px,#352a87 0.7px,#1c55d6 1.7px,#0265e1 2.7px,#117ada 4.7px,#1486d4 5.7px,#06a3cb 7.7px,#0daebb 8.7px,#33b8a1 9.7px,#79bf7d 10.7px,#b8bd63 11.7px,#ecb94c 12.7px,#fabb42 13.7px,#fdbd3e 17.7px,#fbbd40 36.7px,#e5b950 37.7px,#d1bb59 38.7px,#b8bd63 40.7px,#7dbf7b 42.7px,#2cb6a5 44.7px,#0faeb9 45.7px,#06a4c9 46.7px,#108ed2 47.7px,#095fdf 49.7px,#352a87 50.8px,#352a87 51.00px)"></i>
<i style="top:124px;left:111px;width:51px;background:linear-gradient(90deg,#352a87 0px,#352a87 0.9px,#1b55d6 1.9px,#0265e1 2.9px,#1485d4 5.9px,#06a2cc 7.9px,#0dadbb 8.9px,#33b8a1 9.9px,#7dbf7b 10.9px,#bdbd61 11.9px,#f3b948 12.9px,#fdbe3e 14.9px,#fdbe3e 35.9px,#f7ba45 36.9px,#ddba54 37.9px,#afbe67 40.9px,#6dbf82 42.9px,#41ba98 43.9px,#1eb3ae 44.9px,#08aac0 45.9px,#079dcf 46.9px,#1483d5 47.9px,#046de0 48.9px,#3046be 49.9px,#352b87 50.4px,#352a87 51.00px)"></i>
<i style="top:125px;left:112px;width:50px;background:linear-gradient(90deg,#352a87 0px,#352a87 0.0px,#1b55d6 1.0px,#0365e1 2.0px,#066edf 3.0px,#1484d4 5.0px,#06a1cc 7.0px,#0dadbb 8.0px,#34b8a0 9.0px,#80bf7a 10.0px,#c1bc60 11.0px,#f6ba46 12.0px,#fdbe3e 14.0px,#fdbe3e 35.0px,#f1b949 36.0px,#d7ba56 37.0px,#bdbc61 39.0px,#a7be6a 40.0px,#88bf77 41.0px,#35b8a0 43.0px,#15b0b5 44.0px,#06a7c6 45.0px,#117bd9 47.0px,#0364e1 48.0px,#363399 49.0px,#352b87 49.2px,#352a87 50.00px)"></i>
<i style="top:126px;left:112px;width:50px;background:linear-gradient(90deg,#352a87 0px,#352a87 0.1px,#1b55d6 1.1px,#0265e1 2.1px,#1485d4 5.1px,#06a2cc 7.1px,#0eaeba 8.1px,#37b99e 9.1px,#83bf78 10.1px,#c3bc5f 11.1px,#f6ba46 12.1px,#fdbe3d 14.1px,#fdbe3d 35.1px,#edb94c 36.1px,#d6ba57 37.1px,#bbbd62 39.1px,#a1be6d 40.1px,#80bf7a 41.1px,#2cb7a5 43.1px,#0faeb9 44.1px,#06a4c9 45.1px,#118dd2 46.1px,#0d76dc 47.1px,#0f5cdd 48.1px,#352a87 49.1px,#352a87 50.00px)"></i>
<i style="top:127px;left:112px;width:49px;background:linear-gradient(90deg,#352a87 0px,#352a87 0.2px,#1c55d6 1.2px,#0265e1 2.2px,#1485d4 5.2px,#06a2cb 7.2px,#0eaeba 8.2px,#39b99d 9.2px,#86bf77 10.2px,#c6bc5e 11.2px,#f6ba46 12.2px,#febf3d 14.2px,#febf3d 35.2px,#eab94e 36.2px,#d4bb58 37.2px,#b8bd63 39.2px,#78bf7d 41.2px,#24b5aa 43.2px,#0aacbe 44.2px,#06a0cd 45.2px,#1487d3 46.2px,#0871df 47.2px,#254fce 48.2px,#352a87 48.9px,#352a87 49.00px)"></i>
<i style="top:128px;left:112px;width:49px;background:linear-gradient(90deg,#352a87 0px,#352a87 0.3px,#1c55d6 1.3px,#0265e1 2.3px,#1486d4 5.3px,#06a2cb 7.3px,#10afb9 8.3px,#3cba9b 9.3px,#89bf76 10.3px,#c8bc5d 11.3px,#f6ba46 12.3px,#febf3c 14.3px,#fdbe3e 35.3px,#e5b950 36.3px,#b2bd66 39.3px,#6ebf82 41.3px,#41ba99 42.3px,#1cb3b0 43.3px,#07a9c2 44.3px,#079bd0 45.3px,#1481d6 46.3px,#036be0 47.3px,#3341b5 48.3px,#352b87 48.8px,#352a87 49.00px)"></i>
<i style="top:129px;left:112px;width:49px;background:linear-gradient(90deg,#352a87 0px,#352b87 0.4px,#1c55d6 1.4px,#0265e1 2.4px,#117ada 4.4px,#1486d4 5.4px,#06a3cb 7.4px,#11afb8 8.4px,#3fba9a 9.4px,#8dbf75 10.4px,#cbbb5b 11.4px,#f6ba45 12.4px,#febf3c 14.4px,#febf3c 34.4px,#fabc41 35.4px,#e1b952 36.4px,#c1bc60 38.4px,#acbe68 39.4px,#8cbf75 40.4px,#64be86 41.4px,#37b99e 42.4px,#15b0b5 43.4px,#06a7c6 44.4px,#0b95d2 45.4px,#127cd8 46.4px,#0265e1 47.4px,#36359c 48.4px,#352a87 48.6px,#352a87 49.00px)"></i>
<i style="top:130px;left:112px;width:49px;background:linear-gradient(90deg,#352a87 0px,#352a87 0.5px,#1d55d6 1.5px,#0265e1 2.5px,#117ad9 4.5px,#1486d3 5.5px,#06a3ca 7.5px,#12afb7 8.5px,#41ba98 9.5px,#8fbf74 10.5px,#cebb5b 11.5px,#f7ba45 12.5px,#fdbe3d 13.5px,#fec03c 34.5px,#f9bb44 35.5px,#ddba54 36.5px,#bebc61 38.5px,#a6be6b 39.5px,#84bf78 40.5px,#2eb7a4 42.5px,#0eaeba 43.5px,#06a4ca 44.5px,#108ed2 45.5px,#0c5dde 47.5px,#352a87 48.5px,#352a87 49.00px)"></i>
<i style="top:131px;left:112px;width:49px;background:linear-gradient(90deg,#352a87 0px,#352b87 0.6px,#1d54d6 1.6px,#0266e1 2.6px,#117bd9 4.6px,#1487d3 5.6px,#06a4ca 7.6px,#13b0b6 8.6px,#44bb96 9.6px,#93bf72 10.6px,#d0bb59 11.6px,#f8ba45 12.6px,#febf3c 13.6px,#fec03b 34.6px,#f5ba46 35.6px,#dbba55 36.6px,#bbbd62 38.6px,#9fbe6d 39.6px,#7cbf7b 40.6px,#25b5a9 42.6px,#09acbe 43.6px,#06a0cd 44.6px,#1387d3 45.6px,#0971de 46.6px,#2251d1 47.6px,#352a87 48.3px,#352a87 49.00px)"></i>
<i style="top:132px;left:112px;width:49px;background:linear-gradient(90deg,#352a87 0px,#352a87 0.6px,#1d54d5 1.6px,#0266e1 2.6px,#117bd9 4.6px,#1487d3 5.6px,#06a4ca 7.6px,#14b0b5 8.6px,#47bb95 9.6px,#95bf71 10.6px,#d3bb58 11.6px,#f8bb44 12.6px,#febf3c 13.6px,#fec03b 34.6px,#f2b949 35.6px,#d9ba56 36.6px,#b7bd64 38.6px,#74bf7f 40.6px,#45bb96 41.6px,#1db3af 42.6px,#07a9c2 43.6px,#079bd0 44.6px,#1482d5 45.6px,#046ce0 46.6px,#3243b9 47.6px,#352a87 48.2px,#352a87 49.00px)"></i>
<i style="top:133px;left:112px;width:48px;background:linear-gradient(90deg,#352a87 0px,#352a87 0.7px,#1d54d5 1.7px,#0266e1 2.7px,#127bd9 4.7px,#1388d3 5.7px,#0997d1 6.7px,#06a4c9 7.7px,#15b1b4 8.7px,#4abc93 9.7px,#98bf70 10.7px,#d5ba57 11.7px,#f9bb43 12.7px,#fec03b 13.7px,#fec13a 34.7px,#edb94c 35.7px,#b1bd66 38.7px,#91bf73 39.7px,#69be84 40.7px,#3bb99c 41.7px,#15b1b4 42.7px,#06a6c6 43.7px,#0b95d2 44.7px,#127dd8 45.7px,#0267e1 46.7px,#3637a1 47.7px,#352b87 48.0px,#352a87 48.00px)"></i>
<i style="top:134px;left:112px;width:48px;background:linear-gradient(90deg,#352a87 0px,#352a87 0.8px,#1d54d5 1.8px,#0266e1 2.8px,#127bd9 4.8px,#1388d3 5.8px,#0998d1 6.8px,#06a4c9 7.8px,#17b1b3 8.8px,#4dbc92 9.8px,#9bbf6f 10.8px,#d8ba56 11.8px,#fabc42 12.8px,#fec13a 14.8px,#febf3c 34.8px,#e9b94e 35.8px,#c3bc5f 37.8px,#abbe68 38.8px,#89bf76 39.8px,#5fbe88 40.8px,#31b8a2 41.8px,#0faeb9 42.8px,#06a3ca 43.8px,#108fd2 44.8px,#095fdf 46.8px,#352a87 47.8px,#352a87 48.00px)"></i>
<i style="top:135px;left:112px;width:48px;background:linear-gradient(90deg,#352a87 0px,#352a87 0.9px,#1d54d5 1.9px,#0266e1 2.9px,#127cd8 4.9px,#1388d3 5.9px,#0998d1 6.9px,#06a5c8 7.9px,#18b1b2 8.9px,#50bc90 9.9px,#9ebe6e 10.9px,#daba55 11.9px,#fbbc41 12.9px,#fec139 14.9px,#fec139 33.9px,#fdbe3e 34.9px,#e5b950 35.9px,#bfbc60 37.9px,#a4be6b 38.9px,#81bf79 39.9px,#28b6a8 41.9px,#09acbe 42.9px,#06a0cd 43.9px,#1388d3 44.9px,#0a73de 45.9px,#1f53d4 46.9px,#352a87 47.7px,#352a87 48.00px)"></i>
<i style="top:136px;left:112px;width:48px;background:linear-gradient(90deg,#352a87 0px,#352b87 1.0px,#1d54d5 2.0px,#0266e1 3.0px,#127cd8 5.0px,#1389d3 6.0px,#0899d1 7.0px,#06a5c8 8.0px,#1ab2b1 9.0px,#54bd8e 10.0px,#a1be6c 11.0px,#ddba54 12.0px,#fbbd40 13.0px,#fec239 15.0px,#fec239 34.0px,#fcbd40 35.0px,#e1ba52 36.0px,#bbbd62 38.0px,#9dbe6e 39.0px,#78bf7d 40.0px,#1fb3ae 42.0px,#07a9c3 43.0px,#079bd0 44.0px,#1483d5 45.0px,#056de0 46.0px,#3145bc 47.0px,#352b87 47.5px,#352a87 48.00px)"></i>
<i style="top:137px;left:113px;width:47px;background:linear-gradient(90deg,#352a87 0px,#352a87 0.1px,#1e54d5 1.1px,#0266e1 2.1px,#127dd8 4.1px,#1389d3 5.1px,#0899d1 6.1px,#06a5c8 7.1px,#1bb2b0 8.1px,#57bd8d 9.1px,#a4be6b 10.1px,#dfba53 11.1px,#fcbd3f 12.1px,#fec239 14.1px,#fec239 33.1px,#f9bb43 34.1px,#deba53 35.1px,#b7bd64 37.1px,#6fbf81 39.1px,#16b1b3 41.1px,#06a6c7 42.1px,#0b96d1 43.1px,#137ed7 44.1px,#0268e1 45.1px,#3639a5 46.1px,#352a87 46.4px,#352a87 47.00px)"></i>
<i style="top:138px;left:113px;width:47px;background:linear-gradient(90deg,#352a87 0px,#352b87 0.2px,#1d54d5 1.2px,#0267e1 2.2px,#137dd8 4.2px,#138ad3 5.2px,#089ad0 6.2px,#06a6c7 7.2px,#1db3af 8.2px,#5abd8b 9.2px,#a7be6a 10.2px,#e2b952 11.2px,#fcbd3f 12.2px,#ffc238 14.2px,#ffc238 33.2px,#f5ba46 34.2px,#dbba55 35.2px,#b1bd66 37.2px,#65be86 39.2px,#35b8a0 40.2px,#0faeb9 41.2px,#06a3ca 42.2px,#0f8fd2 43.2px,#1079da 44.2px,#0661e0 45.2px,#362e8d 46.2px,#352a87 46.2px,#352a87 47.00px)"></i>
<i style="top:139px;left:113px;width:47px;background:linear-gradient(90deg,#352a87 0px,#352a87 0.2px,#1e54d5 1.2px,#0267e1 2.2px,#137dd8 4.2px,#128ad3 5.2px,#089ad0 6.2px,#06a6c7 7.2px,#1eb3ae 8.2px,#5dbe89 9.2px,#aabe69 10.2px,#e4b951 11.2px,#fdbe3e 12.2px,#ffc338 14.2px,#ffc338 33.2px,#f1b949 34.2px,#c5bc5e 36.2px,#aabe69 37.2px,#86bf77 38.2px,#5abd8b 39.2px,#2bb6a6 40.2px,#09acbe 41.2px,#069fce 42.2px,#1389d3 43.2px,#0b74dd 44.2px,#1b55d7 45.2px,#352b87 46.1px,#352a87 47.00px)"></i>
<i style="top:140px;left:113px;width:46px;background:linear-gradient(90deg,#352a87 0px,#352a87 0.3px,#1d54d5 1.3px,#0267e1 2.3px,#137ed7 4.3px,#128bd2 5.3px,#089bd0 6.3px,#06a7c6 7.3px,#20b4ad 8.3px,#61be87 9.3px,#adbe68 10.3px,#e7b94f 11.3px,#fdbe3d 12.3px,#ffc337 14.3px,#fec239 33.3px,#ecb94c 34.3px,#c1bc60 36.3px,#a3be6c 37.3px,#7ebf7b 38.3px,#50bc90 39.3px,#21b4ac 40.3px,#07a9c3 41.3px,#079bd0 42.3px,#1484d4 43.3px,#066fdf 44.3px,#2e47c1 45.3px,#352a87 45.9px,#352a87 46.00px)"></i>
<i style="top:141px;left:113px;width:46px;background:linear-gradient(90deg,#352a87 0px,#352a87 0.4px,#1e54d5 1.4px,#0267e1 2.4px,#137ed7 4.4px,#128bd2 5.4px,#079bd0 6.4px,#06a7c6 7.4px,#21b4ac 8.4px,#64be86 9.4px,#afbe67 10.4px,#e9b94e 11.4px,#febf3d 12.4px,#ffc337 14.4px,#fec13a 33.4px,#e8b94f 34.4px,#bcbd62 36.4px,#9cbf6e 37.4px,#75bf7f 38.4px,#18b2b2 40.4px,#06a6c7 41.4px,#0a96d1 42.4px,#137fd7 43.4px,#0269e1 44.4px,#353ba9 45.4px,#352a87 45.8px,#352a87 46.00px)"></i>
<i style="top:142px;left:113px;width:46px;background:linear-gradient(90deg,#352a87 0px,#352a87 0.5px,#1d54d5 1.5px,#0267e1 2.5px,#137ed7 4.5px,#128cd2 5.5px,#079cd0 6.5px,#06a7c5 7.5px,#23b5ab 8.5px,#68be84 9.5px,#b3bd65 10.5px,#ebb94d 11.5px,#febf3c 12.5px,#ffc437 14.5px,#ffc437 32.5px,#febf3c 33.5px,#e4b951 34.5px,#b7bd64 36.5px,#6bbe83 38.5px,#3ab99d 39.5px,#10afb8 40.5px,#06a3cb 41.5px,#0f90d2 42.5px,#117ada 43.5px,#0363e1 44.5px,#363092 45.5px,#352b87 45.6px,#352a87 46.00px)"></i>
<i style="top:143px;left:113px;width:46px;background:linear-gradient(90deg,#352a87 0px,#352b87 0.6px,#1d54d5 1.6px,#0268e1 2.6px,#137fd7 4.6px,#118cd2 5.6px,#079cd0 6.6px,#06a8c4 7.6px,#25b5a9 8.6px,#6cbf82 9.6px,#b6bd64 10.6px,#edb94c 11.6px,#fec03b 12.6px,#ffc436 14.6px,#ffc436 32.6px,#fcbd40 33.6px,#e1ba52 34.6px,#b1bd66 36.6px,#8cbf75 37.6px,#60be88 38.6px,#2fb7a3 39.6px,#0aacbe 40.6px,#069fce 41.6px,#138ad3 42.6px,#0c75dd 43.6px,#1757d9 44.6px,#352a87 45.5px,#352a87 46.00px)"></i>
<i style="top:144px;left:113px;width:46px;background:linear-gradient(90deg,#352a87 0px,#352a87 0.7px,#1d54d5 1.7px,#0268e1 2.7px,#137fd7 4.7px,#118dd2 5.7px,#079ccf 6.7px,#06a8c4 7.7px,#27b5a8 8.7px,#6fbf81 9.7px,#b8bd63 10.7px,#eeb94b 11.7px,#fec03a 12.7px,#ffc436 16.7px,#ffc436 32.7px,#f9bb44 33.7px,#ddba54 34.7px,#c7bc5d 35.7px,#aabe69 36.7px,#56bd8d 38.7px,#25b5aa 39.7px,#07a9c3 40.7px,#079bd0 41.7px,#1484d4 42.7px,#0770df 43.7px,#2c4ac5 44.7px,#352a87 45.3px,#352a87 46.00px)"></i>
<i style="top:145px;left:113px;width:46px;background:linear-gradient(90deg,#352a87 0px,#352b87 0.8px,#1d54d6 1.8px,#0268e1 2.8px,#137fd6 4.8px,#118dd2 5.8px,#079dcf 6.8px,#07a9c3 7.8px,#29b6a7 8.8px,#73bf7f 9.8px,#bcbd62 10.8px,#f0b94a 11.8px,#fec13a 12.8px,#fec536 16.8px,#ffc536 32.8px,#f4ba47 33.8px,#c2bc5f 35.8px,#a2be6c 36.8px,#7abf7c 37.8px,#4bbc93 38.8px,#1bb2b0 39.8px,#06a6c7 40.8px,#0a96d1 41.8px,#137fd7 42.8px,#036ae1 43.8px,#353dad 44.8px,#352a87 45.2px,#352a87 46.00px)"></i>
<i style="top:146px;left:113px;width:45px;background:linear-gradient(90deg,#352a87 0px,#352a87 0.8px,#1d54d5 1.8px,#0268e1 2.8px,#1480d6 4.8px,#118ed2 5.8px,#079dcf 6.8px,#07a9c2 7.8px,#2bb6a6 8.8px,#76bf7e 9.8px,#bebc61 10.8px,#f2b949 11.8px,#fec239 12.8px,#fec535 16.8px,#ffc436 32.8px,#f0b94a 33.8px,#bdbd61 35.8px,#9bbf6f 36.8px,#71bf80 37.8px,#12b0b6 39.8px,#06a3cb 40.8px,#0f90d2 41.8px,#117ad9 42.8px,#0364e1 43.8px,#363296 44.8px,#352a87 45.0px,#352a87 45.00px)"></i>
<i style="top:147px;left:113px;width:45px;background:linear-gradient(90deg,#352a87 0px,#352a87 0.9px,#1c55d6 1.9px,#0268e1 2.9px,#1480d6 4.9px,#079ecf 6.9px,#07aac1 7.9px,#2db7a4 8.9px,#7abf7c 9.9px,#c1bc60 10.9px,#f5ba47 11.9px,#ffc238 12.9px,#ffc436 32.9px,#ebb94d 33.9px,#b7bd64 35.9px,#92bf72 36.9px,#66be85 37.9px,#34b8a0 38.9px,#0badbd 39.9px,#069fce 40.9px,#138ad3 41.9px,#0d76dc 42.9px,#125adc 43.9px,#352b87 44.8px,#352a87 45.00px)"></i>
<i style="top:148px;left:114px;width:44px;background:linear-gradient(90deg,#352a87 0px,#352a87 0.0px,#1d54d6 1.0px,#0269e1 2.0px,#1481d6 4.0px,#069ece 6.0px,#08aac0 7.0px,#2fb7a3 8.0px,#7dbf7b 9.0px,#c3bc5f 10.0px,#f7ba45 11.0px,#ffc337 12.0px,#fec635 31.0px,#fec239 32.0px,#e7b94f 33.0px,#b1bd66 35.0px,#8abf76 36.0px,#5cbe8a 37.0px,#29b6a7 38.0px,#07a9c2 39.0px,#089bd0 40.0px,#1485d4 41.0px,#0871de 42.0px,#294cc9 43.0px,#352a87 43.7px,#352a87 44.00px)"></i>
<i style="top:149px;left:114px;width:44px;background:linear-gradient(90deg,#352a87 0px,#352a87 0.1px,#1c55d6 1.1px,#0269e1 2.1px,#1481d6 4.1px,#069fce 6.1px,#09abbf 7.1px,#31b8a2 8.1px,#81bf79 9.1px,#c6bc5e 10.1px,#f9bb43 11.1px,#ffc437 12.1px,#fec634 31.1px,#febf3c 32.1px,#e3b951 33.1px,#a9be69 35.1px,#81bf7a 36.1px,#51bc90 37.1px,#1eb3ae 38.1px,#06a6c7 39.1px,#1480d6 41.1px,#036ce0 42.1px,#343fb1 43.1px,#352a87 43.5px,#352a87 44.00px)"></i>
<i style="top:150px;left:114px;width:44px;background:linear-gradient(90deg,#352a87 0px,#352b87 0.2px,#1b55d6 1.2px,#0269e1 2.2px,#1481d5 4.2px,#069fce 6.2px,#09abbe 7.2px,#34b8a0 8.2px,#85bf78 9.2px,#c9bc5c 10.2px,#fbbc40 11.2px,#ffc536 12.2px,#fec734 31.2px,#fbbc41 32.2px,#dfba53 33.2px,#c5bc5e 34.2px,#77bf7e 36.2px,#46bb96 37.2px,#15b0b5 38.2px,#06a3cb 39.2px,#0f90d2 40.2px,#117bd9 41.2px,#0266e1 42.2px,#363399 43.2px,#352b87 43.4px,#352a87 44.00px)"></i>
<i style="top:151px;left:114px;width:44px;background:linear-gradient(90deg,#352a87 0px,#352a87 0.3px,#1c55d6 1.3px,#0269e1 2.3px,#1482d5 4.3px,#069fce 6.3px,#0aacbe 7.3px,#36b99f 8.3px,#88bf77 9.3px,#cbbb5b 10.3px,#fdbe3e 11.3px,#fec535 12.3px,#fec734 31.3px,#f7ba45 32.3px,#bfbc61 34.3px,#6dbf82 36.3px,#0dadbb 38.3px,#069fce 39.3px,#128ad3 40.3px,#0c5dde 42.3px,#352a87 43.2px,#352a87 44.00px)"></i>
<i style="top:152px;left:114px;width:44px;background:linear-gradient(90deg,#352a87 0px,#352b87 0.4px,#1b55d7 1.4px,#026ae1 2.4px,#1482d5 4.4px,#06a0cd 6.4px,#0bacbd 7.4px,#38b99d 8.4px,#8cbf75 9.4px,#cebb5a 10.4px,#fdbe3d 11.4px,#fec634 12.4px,#fec733 31.4px,#f2b949 32.4px,#b8bd63 34.4px,#91bf73 35.4px,#62be87 36.4px,#2eb7a4 37.4px,#07aac1 38.4px,#089ad0 39.4px,#1485d4 40.4px,#0972de 41.4px,#274ecc 42.4px,#352a87 43.1px,#352a87 44.00px)"></i>
<i style="top:153px;left:114px;width:43px;background:linear-gradient(90deg,#352a87 0px,#352a87 0.4px,#1b55d6 1.4px,#026ae1 2.4px,#1482d5 4.4px,#06a0cd 6.4px,#0cadbc 7.4px,#3bb99c 8.4px,#8fbf74 9.4px,#d1bb59 10.4px,#febf3c 11.4px,#fec734 12.4px,#fec833 31.4px,#eeb94c 32.4px,#b1bd66 34.4px,#87bf77 35.4px,#56bd8d 36.4px,#23b4ab 37.4px,#06a6c7 38.4px,#1481d6 40.4px,#046de0 41.4px,#3342b6 42.4px,#352a87 42.9px,#352a87 43.00px)"></i>
<i style="top:154px;left:114px;width:43px;background:linear-gradient(90deg,#352a87 0px,#352a87 0.6px,#1b55d6 1.6px,#026ae1 2.6px,#1482d5 4.6px,#06a1cd 6.6px,#0daebb 7.6px,#3fba9a 8.6px,#95bf71 9.6px,#d6ba57 10.6px,#fec03b 11.6px,#fec833 12.6px,#ffc536 31.6px,#eab94e 32.6px,#cebb5b 33.6px,#a9be69 34.6px,#7dbf7b 35.6px,#4abc93 36.6px,#18b2b2 37.6px,#06a3ca 38.6px,#127cd8 40.6px,#0268e1 41.6px,#3637a0 42.6px,#352b87 42.8px,#352a87 43.00px)"></i>
<i style="top:155px;left:114px;width:43px;background:linear-gradient(90deg,#352a87 0px,#352a87 0.7px,#1b55d6 1.7px,#026ae1 2.7px,#1483d5 4.7px,#06a1cc 6.7px,#0faeb9 7.7px,#43bb97 8.7px,#9abf6f 9.7px,#dbba55 10.7px,#fec13a 11.7px,#fec833 12.7px,#fec833 30.7px,#fec139 31.7px,#e7b94f 32.7px,#c8bc5d 33.7px,#72bf80 35.7px,#3fba9a 36.7px,#0faeb9 37.7px,#069fce 38.7px,#128bd2 39.7px,#0661e0 41.7px,#352a87 42.7px,#352a87 43.00px)"></i>
<i style="top:156px;left:114px;width:43px;background:linear-gradient(90deg,#352a87 0px,#352b87 0.8px,#1c55d6 1.8px,#026ae1 2.8px,#1483d5 4.8px,#06a2cc 6.8px,#10afb8 7.8px,#48bb95 8.8px,#9fbe6d 9.8px,#dfba53 10.8px,#fec239 11.8px,#fec832 12.8px,#fec832 30.8px,#febf3d 31.8px,#e3b951 32.8px,#c2bc5f 33.8px,#66be85 35.8px,#33b8a1 36.8px,#09abbf 37.8px,#079bd0 38.8px,#1486d4 39.8px,#0b73dd 40.8px,#1c55d6 41.8px,#352a87 42.6px,#352a87 43.00px)"></i>
<i style="top:157px;left:114px;width:43px;background:linear-gradient(90deg,#352a87 0px,#352a87 0.9px,#1c55d6 1.9px,#026ae1 2.9px,#1483d5 4.9px,#06a2cb 6.9px,#11afb7 7.9px,#4cbc92 8.9px,#a3be6b 9.9px,#e3b951 10.9px,#ffc338 11.9px,#fec932 13.9px,#fec932 30.9px,#fbbd40 31.9px,#e0ba53 32.9px,#bbbd62 33.9px,#59bd8b 35.9px,#27b5a8 36.9px,#06a8c4 37.9px,#0a97d1 38.9px,#1482d5 39.9px,#066fdf 40.9px,#2e47c1 41.9px,#352a87 42.5px,#352a87 43.00px)"></i>
<i style="top:158px;left:114px;width:43px;background:linear-gradient(90deg,#352a87 0px,#352a87 1.0px,#1c55d6 2.0px,#026ae1 3.0px,#1483d5 5.0px,#06a3cb 7.0px,#13b0b6 8.0px,#51bd8f 9.0px,#a9be69 10.0px,#e7b94f 11.0px,#ffc437 12.0px,#fec932 14.0px,#fec932 31.0px,#f8bb44 32.0px,#dcba54 33.0px,#83bf79 35.0px,#1cb3b0 37.0px,#06a4c9 38.0px,#137ed7 40.0px,#026ae1 41.0px,#353caa 42.0px,#352a87 42.3px,#352a87 43.00px)"></i>
<i style="top:159px;left:115px;width:42px;background:linear-gradient(90deg,#352a87 0px,#352b87 0.1px,#1c55d6 1.1px,#026ae1 2.1px,#1483d5 4.1px,#06a3ca 6.1px,#15b1b4 7.1px,#57bd8c 8.1px,#aebe67 9.1px,#ebb94d 10.1px,#ffc436 11.1px,#fec932 13.1px,#fec932 30.1px,#f4ba47 31.1px,#d6ba57 32.1px,#77bf7d 34.1px,#41ba98 35.1px,#12afb7 36.1px,#06a0cd 37.1px,#118cd2 38.1px,#1079da 39.1px,#0364e1 40.1px,#363194 41.1px,#352b87 41.2px,#352a87 42.00px)"></i>
<i style="top:160px;left:115px;width:42px;background:linear-gradient(90deg,#352a87 0px,#352a87 0.2px,#1d54d6 1.2px,#026ae1 2.2px,#1483d5 4.2px,#06a4ca 6.2px,#17b1b3 7.2px,#5cbe8a 8.2px,#b2bd66 9.2px,#efb94b 10.2px,#fec535 11.2px,#fec932 15.2px,#fec734 30.2px,#f1b94a 31.2px,#d0bb5a 32.2px,#6cbf83 34.2px,#36b99f 35.2px,#0bacbd 36.2px,#079dcf 37.2px,#1487d3 38.2px,#0d75dc 39.2px,#0e5cde 40.2px,#352a87 41.1px,#352a87 42.00px)"></i>
<i style="top:161px;left:115px;width:41px;background:linear-gradient(90deg,#352a87 0px,#352a87 0.3px,#1d54d6 1.3px,#026ae1 2.3px,#1483d5 4.3px,#06a4c9 6.3px,#19b2b2 7.3px,#62be87 8.3px,#b7bd64 9.3px,#f2b949 10.3px,#fec634 11.3px,#fdc931 29.3px,#ffc436 30.3px,#edb94c 31.3px,#c8bc5d 32.3px,#5ebe89 34.3px,#2bb6a6 35.3px,#07a9c3 36.3px,#0998d1 37.3px,#1483d5 38.3px,#0871df 39.3px,#264ecd 40.3px,#352a87 41.0px,#352a87 41.00px)"></i>
<i style="top:162px;left:115px;width:41px;background:linear-gradient(90deg,#352a87 0px,#352a87 0.4px,#1d54d6 1.4px,#026ae1 2.4px,#1484d4 4.4px,#06a5c8 6.4px,#1cb2b0 7.4px,#67be85 8.4px,#bdbd61 9.4px,#f6ba46 10.4px,#fec734 11.4px,#fdca31 29.4px,#ffc238 30.4px,#eab94e 31.4px,#bfbc60 32.4px,#51bd90 34.4px,#20b4ad 35.4px,#06a5c8 36.4px,#137fd7 38.4px,#046ce0 39.4px,#3341b5 40.4px,#352a87 40.9px,#352a87 41.00px)"></i>
<i style="top:163px;left:115px;width:41px;background:linear-gradient(90deg,#352a87 0px,#352a87 0.5px,#1d54d5 1.5px,#026ae1 2.5px,#1484d4 4.5px,#06a5c8 6.5px,#1eb3ae 7.5px,#6cbf82 8.5px,#c1bc60 9.5px,#f9bb44 10.5px,#fec833 11.5px,#fdca31 29.5px,#fec03a 30.5px,#e6b950 31.5px,#7fbf7a 33.5px,#45bb96 34.5px,#16b1b4 35.5px,#06a2cc 36.5px,#108ed2 37.5px,#117bd9 38.5px,#0267e1 39.5px,#36369f 40.5px,#352b87 40.8px,#352a87 41.00px)"></i>
<i style="top:164px;left:115px;width:41px;background:linear-gradient(90deg,#352a87 0px,#352a87 0.6px,#1d54d5 1.6px,#026ae1 2.6px,#1484d4 4.6px,#0a97d1 5.6px,#06a6c7 6.6px,#20b4ad 7.6px,#72bf80 8.6px,#c6bc5e 9.6px,#fbbc41 10.6px,#fec832 11.6px,#fdca31 29.6px,#fdbe3e 30.6px,#e1b952 31.6px,#73bf7f 33.6px,#39b99d 34.6px,#0daebb 35.6px,#079ecf 36.6px,#1389d3 37.6px,#0760e0 39.6px,#352b87 40.6px,#352a87 41.00px)"></i>
<i style="top:165px;left:115px;width:41px;background:linear-gradient(90deg,#352a87 0px,#352a87 0.7px,#1d54d5 1.7px,#026ae1 2.7px,#1484d4 4.7px,#0997d1 5.7px,#06a6c6 6.7px,#23b5ab 7.7px,#78bf7d 8.7px,#cbbb5b 9.7px,#fdbe3e 10.7px,#fec932 11.7px,#fdca31 29.7px,#fabc42 30.7px,#d9ba56 31.7px,#65be85 33.7px,#2eb7a4 34.7px,#08aac1 35.7px,#0899d1 36.7px,#1484d4 37.7px,#0a72de 38.7px,#1a56d7 39.7px,#352a87 40.5px,#352a87 41.00px)"></i>
<i style="top:166px;left:115px;width:41px;background:linear-gradient(90deg,#352a87 0px,#352b87 0.8px,#1d54d6 1.8px,#026ae1 2.8px,#1484d4 4.8px,#0998d1 5.8px,#06a7c6 6.8px,#26b5a9 7.8px,#7ebf7b 8.8px,#d0bb59 9.8px,#fec03b 10.8px,#fdca31 11.8px,#fec932 29.8px,#f7ba45 30.8px,#d0bb5a 31.8px,#57bd8c 33.8px,#23b5ab 34.8px,#06a6c6 35.8px,#0c94d2 36.8px,#1480d6 37.8px,#056ee0 38.8px,#2e48c1 39.8px,#352a87 40.4px,#352a87 41.00px)"></i>
<i style="top:167px;left:115px;width:41px;background:linear-gradient(90deg,#352a87 0px,#352a87 0.9px,#1d54d5 1.9px,#026ae1 2.9px,#1485d4 4.9px,#0998d1 5.9px,#06a7c5 6.9px,#29b6a7 7.9px,#83bf79 8.9px,#d5ba57 9.9px,#fec239 10.9px,#fdca31 11.9px,#fec833 29.9px,#f4ba47 30.9px,#c6bc5e 31.9px,#4abc93 33.9px,#19b2b2 34.9px,#06a3cb 35.9px,#108fd2 36.9px,#127cd8 37.9px,#0269e1 38.9px,#353caa 39.9px,#352a87 40.3px,#352a87 41.00px)"></i>
<i style="top:168px;left:116px;width:40px;background:linear-gradient(90deg,#352a87 0px,#352a87 0.1px,#1d54d5 1.1px,#026ae1 2.1px,#1485d4 4.1px,#0899d1 5.1px,#06a8c4 6.1px,#2db7a5 7.1px,#89bf76 8.1px,#daba55 9.1px,#ffc437 10.1px,#fdcb30 11.1px,#fdcb30 28.1px,#fec634 29.1px,#f0b94a 30.1px,#babd62 31.1px,#7cbf7b 32.1px,#3dba9b 33.1px,#10afb8 34.1px,#069fce 35.1px,#138ad3 36.1px,#0f78db 37.1px,#0363e1 38.1px,#363093 39.1px,#352b87 39.2px,#352a87 40.00px)"></i>
<i style="top:169px;left:116px;width:40px;background:linear-gradient(90deg,#352a87 0px,#352a87 0.2px,#1d54d5 1.2px,#026ae1 2.2px,#1485d4 4.2px,#089ad0 5.2px,#06a8c3 6.2px,#30b7a2 7.2px,#8fbf74 8.2px,#dfba53 9.2px,#fec536 10.2px,#fdcb30 12.2px,#fdcb30 28.2px,#fec535 29.2px,#ecb94d 30.2px,#6fbf81 32.2px,#31b8a2 33.2px,#09abbf 34.2px,#089ad0 35.2px,#1485d4 36.2px,#0b74dd 37.2px,#0f5cde 38.2px,#352a87 39.1px,#352a87 40.00px)"></i>
<i style="top:170px;left:116px;width:39px;background:linear-gradient(90deg,#352a87 0px,#352b87 0.3px,#1d54d6 1.3px,#026ae1 2.3px,#1486d4 4.3px,#089ad0 5.3px,#07a9c2 6.3px,#34b8a0 7.3px,#94bf71 8.3px,#e5b950 9.3px,#fec634 10.3px,#fdcc30 12.3px,#fdcc30 28.3px,#fec238 29.3px,#e5b950 30.3px,#9ebe6e 31.3px,#60be88 32.3px,#26b5a9 33.3px,#06a8c4 34.3px,#0b96d1 35.3px,#1481d6 36.3px,#076fdf 37.3px,#254fce 38.3px,#352a87 38.9px,#352a87 39.00px)"></i>
<i style="top:171px;left:116px;width:39px;background:linear-gradient(90deg,#352a87 0px,#352a87 0.4px,#1d54d5 1.4px,#026ae1 2.4px,#1486d4 4.4px,#079bd0 5.4px,#07aac2 6.4px,#38b99e 7.4px,#99bf6f 8.4px,#eab94e 9.4px,#fec733 10.4px,#fdcc2f 12.4px,#fdcc2f 28.4px,#febf3c 29.4px,#dbba55 30.4px,#93bf72 31.4px,#52bd8f 32.4px,#1db3af 33.4px,#06a4c9 34.4px,#137dd8 36.4px,#036be0 37.4px,#3342b6 38.4px,#352a87 38.8px,#352a87 39.00px)"></i>
<i style="top:172px;left:116px;width:39px;background:linear-gradient(90deg,#352a87 0px,#352a87 0.5px,#1d54d6 1.5px,#026ae1 2.5px,#1486d4 4.5px,#079cd0 5.5px,#08aac1 6.5px,#3cba9b 7.5px,#9fbe6d 8.5px,#efb94b 9.5px,#fec932 10.5px,#fdcb30 28.5px,#fcbd3f 29.5px,#cfbb5a 30.5px,#87bf77 31.5px,#43bb97 32.5px,#13b0b6 33.5px,#06a0cd 34.5px,#128bd2 35.5px,#1079da 36.5px,#0266e1 37.5px,#36359d 38.5px,#352a87 38.7px,#352a87 39.00px)"></i>
<i style="top:173px;left:116px;width:39px;background:linear-gradient(90deg,#352a87 0px,#352b87 0.6px,#1c55d6 1.6px,#026ae1 2.6px,#1487d3 4.6px,#079cd0 5.6px,#09abbf 6.6px,#41ba99 7.6px,#a5be6b 8.6px,#f4ba47 9.6px,#fdca31 10.6px,#fdca31 28.6px,#f9bb43 29.6px,#c1bc5f 30.6px,#7abf7d 31.6px,#36b99f 32.6px,#0badbd 33.6px,#079cd0 34.6px,#1486d3 35.6px,#095fdf 37.6px,#352b87 38.6px,#352a87 39.00px)"></i>
<i style="top:174px;left:116px;width:39px;background:linear-gradient(90deg,#352a87 0px,#352a87 0.7px,#1d54d5 1.7px,#026ae1 2.7px,#1487d3 4.7px,#079dcf 5.7px,#09abbf 6.7px,#45bb96 7.7px,#aabe69 8.7px,#f7ba45 9.7px,#fdcb30 10.7px,#fdca31 28.7px,#f6ba46 29.7px,#6cbf83 31.7px,#2ab6a6 32.7px,#07a9c2 33.7px,#0a97d1 34.7px,#1482d5 35.7px,#0871de 36.7px,#1857d8 37.7px,#352a87 38.5px,#352a87 39.00px)"></i>
<i style="top:175px;left:116px;width:39px;background:linear-gradient(90deg,#352a87 0px,#352a87 0.8px,#1c55d6 1.8px,#026ae1 2.8px,#1487d3 4.8px,#079dcf 5.8px,#0aacbe 6.8px,#4abc93 7.8px,#afbe67 8.8px,#fabb42 9.8px,#fdcc30 10.8px,#fdca31 28.8px,#f2b949 29.8px,#a3be6c 30.8px,#5cbe8a 31.8px,#20b4ad 32.8px,#06a5c8 33.8px,#137ed7 35.8px,#046de0 36.8px,#2e48c2 37.8px,#352a87 38.3px,#352a87 39.00px)"></i>
<i style="top:176px;left:116px;width:39px;background:linear-gradient(90deg,#352a87 0px,#352a87 0.9px,#1c55d6 1.9px,#026ae1 2.9px,#0e76dc 3.9px,#1388d3 4.9px,#069ece 5.9px,#0badbc 6.9px,#50bc90 7.9px,#b5bd64 8.9px,#fcbd40 9.9px,#fdcc2f 10.9px,#fccd2e 27.9px,#fec734 28.9px,#e8b94f 29.9px,#93bf72 30.9px,#4cbc92 31.9px,#16b1b4 32.9px,#06a1cc 33.9px,#118cd2 34.9px,#117ada 35.9px,#0268e1 36.9px,#353ba9 37.9px,#352a87 38.2px,#352a87 39.00px)"></i>
<i style="top:177px;left:117px;width:38px;background:linear-gradient(90deg,#352a87 0px,#352a87 0.0px,#1c55d6 1.0px,#026ae1 2.0px,#0e76dc 3.0px,#1388d3 4.0px,#069fce 5.0px,#0cadbc 6.0px,#54bd8e 7.0px,#babd63 8.0px,#fdbe3d 9.0px,#fccd2f 10.0px,#fccd2e 27.0px,#ffc436 28.0px,#dbba55 29.0px,#87bf77 30.0px,#3eba9a 31.0px,#0eaeba 32.0px,#079dcf 33.0px,#1388d3 34.0px,#0363e1 36.0px,#362f91 37.0px,#352b87 37.1px,#352a87 38.00px)"></i>
<i style="top:178px;left:117px;width:37px;background:linear-gradient(90deg,#352a87 0px,#352a87 0.1px,#1c55d6 1.1px,#026ae1 2.1px,#0e76dc 3.1px,#1388d3 4.1px,#069fce 5.1px,#0daebb 6.1px,#5bbd8b 7.1px,#c0bc60 8.1px,#fec03b 9.1px,#fccd2e 10.1px,#fccd2e 27.1px,#fec13a 28.1px,#ccbb5b 29.1px,#78bf7d 30.1px,#30b7a3 31.1px,#08aac0 32.1px,#0998d1 33.1px,#1483d5 34.1px,#0a72de 35.1px,#0f5cdd 36.1px,#352b87 37.0px,#352a87 37.00px)"></i>
<i style="top:179px;left:117px;width:37px;background:linear-gradient(90deg,#352a87 0px,#352a87 0.2px,#1b55d6 1.2px,#026ae1 2.2px,#0e76dc 3.2px,#1389d3 4.2px,#06a0cd 5.2px,#0faeb9 6.2px,#61be88 7.2px,#c5bc5e 8.2px,#fec239 9.2px,#fccd2e 10.2px,#fccd2e 27.2px,#fdbe3d 28.2px,#bcbd62 29.2px,#69be84 30.2px,#24b5aa 31.2px,#06a7c6 32.2px,#0c93d2 33.2px,#137fd7 34.2px,#056ee0 35.2px,#2450cf 36.2px,#352a87 36.9px,#352a87 37.00px)"></i>
<i style="top:180px;left:117px;width:37px;background:linear-gradient(90deg,#352a87 0px,#352b87 0.3px,#1b55d7 1.3px,#026ae1 2.3px,#0e76dc 3.3px,#138ad3 4.3px,#06a1cd 5.3px,#10afb8 6.3px,#67be85 7.3px,#cbbb5c 8.3px,#ffc337 9.3px,#fcce2e 10.3px,#fcce2e 27.3px,#fabc41 28.3px,#58bd8c 30.3px,#19b2b1 31.3px,#06a3cb 32.3px,#108ed2 33.3px,#117bd9 34.3px,#026ae1 35.3px,#3341b5 36.3px,#352a87 36.8px,#352a87 37.00px)"></i>
<i style="top:181px;left:117px;width:37px;background:linear-gradient(90deg,#352a87 0px,#352a87 0.4px,#1b55d6 1.4px,#026ae1 2.4px,#0e76dc 3.4px,#138ad3 4.4px,#06a1cc 5.4px,#11afb8 6.4px,#6abe83 7.4px,#ccbb5b 8.4px,#ffc337 9.4px,#fcce2e 10.4px,#fccd2e 27.4px,#f7ba45 28.4px,#9dbe6e 29.4px,#4ebc91 30.4px,#14b0b5 31.4px,#06a0cd 32.4px,#128bd3 33.4px,#1079da 34.4px,#0267e1 35.4px,#363aa7 36.4px,#352a87 36.7px,#352a87 37.00px)"></i>
<i style="top:182px;left:117px;width:37px;background:linear-gradient(90deg,#352a87 0px,#352a87 0.4px,#1b55d6 1.4px,#026ae1 2.4px,#0e77db 3.4px,#128bd3 4.4px,#06a2cc 5.4px,#12b0b7 6.4px,#6abe83 7.4px,#cbbb5c 8.4px,#fec239 9.4px,#fccd2f 10.4px,#fccd2e 26.4px,#fdcb30 27.4px,#f3b948 28.4px,#97bf70 29.4px,#49bc94 30.4px,#11afb7 31.4px,#069fce 32.4px,#1389d3 33.4px,#0f78db 34.4px,#0266e1 35.4px,#3638a2 36.4px,#352a87 36.7px,#352a87 37.00px)"></i>
<i style="top:183px;left:117px;width:37px;background:linear-gradient(90deg,#352a87 0px,#352a87 0.4px,#1b55d7 1.4px,#036ae1 2.4px,#0e77db 3.4px,#128bd2 4.4px,#06a2cb 5.4px,#14b0b6 6.4px,#6bbe83 7.4px,#c9bb5c 8.4px,#fec03b 9.4px,#fdcc2f 10.4px,#fccf2d 24.4px,#fec932 27.4px,#eeb94b 28.4px,#92bf73 29.4px,#45bb96 30.4px,#0faeb9 31.4px,#079dcf 32.4px,#1388d3 33.4px,#0364e1 35.4px,#36359d 36.4px,#352a87 36.6px,#352a87 37.00px)"></i>
<i style="top:184px;left:117px;width:37px;background:linear-gradient(90deg,#352a87 0px,#352a87 0.4px,#1b55d7 1.4px,#036ae1 2.4px,#0f77db 3.4px,#118cd2 4.4px,#06a3cb 5.4px,#15b0b4 6.4px,#6bbf83 7.4px,#c8bc5d 8.4px,#febf3c 9.4px,#fdcb30 10.4px,#fbd02c 20.4px,#fdcb30 26.4px,#fec734 27.4px,#e9b94e 28.4px,#8cbf75 29.4px,#40ba99 30.4px,#0dadbb 31.4px,#079cd0 32.4px,#1487d3 33.4px,#0363e1 35.4px,#363399 36.4px,#352a87 36.6px,#352a87 37.00px)"></i>
<i style="top:185px;left:117px;width:37px;background:linear-gradient(90deg,#352a87 0px,#352b87 0.4px,#1b55d7 1.4px,#036ae1 2.4px,#0f78db 3.4px,#118dd2 4.4px,#06a3ca 5.4px,#16b1b3 6.4px,#6cbf83 7.4px,#c6bc5e 8.4px,#fdbe3e 9.4px,#fdca31 10.4px,#fbd02c 15.4px,#fcce2d 25.4px,#ffc436 27.4px,#e3b951 28.4px,#87bf77 29.4px,#3cba9b 30.4px,#0badbd 31.4px,#079bd0 32.4px,#1486d4 33.4px,#0562e0 35.4px,#363195 36.4px,#352a87 36.6px,#352a87 37.00px)"></i>
<i style="top:186px;left:117px;width:37px;background:linear-gradient(90deg,#352a87 0px,#352b87 0.4px,#1b55d7 1.4px,#036be1 2.4px,#0f78db 3.4px,#118dd2 4.4px,#06a4c9 5.4px,#18b1b2 6.4px,#6cbf82 7.4px,#c4bc5e 8.4px,#fbbd40 9.4px,#fec931 10.4px,#fbd02c 13.4px,#fcce2d 25.4px,#fec139 27.4px,#dcba54 28.4px,#82bf79 29.4px,#38b99e 30.4px,#09acbe 31.4px,#089ad0 32.4px,#1485d4 33.4px,#0760e0 35.4px,#362f90 36.4px,#352a87 36.5px,#352a87 37.00px)"></i>
<i style="top:187px;left:117px;width:37px;background:linear-gradient(90deg,#352a87 0px,#352a87 0.4px,#1b55d6 1.4px,#036be1 2.4px,#0f78db 3.4px,#108ed2 4.4px,#06a4c9 5.4px,#19b2b2 6.4px,#6cbf83 7.4px,#c2bc5f 8.4px,#fabb42 9.4px,#fec832 10.4px,#fbcf2c 12.4px,#fbcf2c 24.4px,#fec832 26.4px,#febf3c 27.4px,#d7ba57 28.4px,#7ebf7b 29.4px,#34b8a0 30.4px,#08abc0 31.4px,#0899d1 32.4px,#1484d4 33.4px,#0b73dd 34.4px,#095fdf 35.4px,#362d8d 36.4px,#352a87 36.5px,#352a87 37.00px)"></i>
<i style="top:188px;left:117px;width:37px;background:linear-gradient(90deg,#352a87 0px,#352a87 0.5px,#1b55d6 1.5px,#036be0 2.5px,#1078da 3.5px,#108fd2 4.5px,#06a5c8 5.5px,#1bb2b0 6.5px,#6cbf83 7.5px,#c0bc60 8.5px,#f8ba44 9.5px,#fec833 10.5px,#fbd02c 12.5px,#fbd02c 24.5px,#fec733 26.5px,#fcbd40 27.5px,#d1bb59 28.5px,#79bf7d 29.5px,#30b8a2 30.5px,#07aac1 31.5px,#0998d1 32.5px,#1483d5 33.5px,#0a72de 34.5px,#0c5ede 35.5px,#352a87 36.5px,#352a87 37.00px)"></i>
<i style="top:189px;left:117px;width:37px;background:linear-gradient(90deg,#352a87 0px,#352a87 0.5px,#1b55d6 1.5px,#036be0 2.5px,#1079da 3.5px,#0f8fd2 4.5px,#06a5c8 5.5px,#1cb3af 6.5px,#6cbf82 7.5px,#bebc61 8.5px,#f6ba46 9.5px,#fec734 10.5px,#fccf2d 11.5px,#fad22a 21.5px,#fcce2e 25.5px,#fec634 26.5px,#f9bb43 27.5px,#cbbb5c 28.5px,#74bf7f 29.5px,#2db7a5 30.5px,#07a9c3 31.5px,#0a96d1 32.5px,#1482d5 33.5px,#0971de 34.5px,#0f5cdd 35.5px,#352b87 36.4px,#352a87 37.00px)"></i>
<i style="top:190px;left:117px;width:37px;background:linear-gradient(90deg,#352a87 0px,#352a87 0.5px,#1b55d6 1.5px,#036be0 2.5px,#1079da 3.5px,#0f90d2 4.5px,#06a6c7 5.5px,#1eb3ae 6.5px,#6cbf82 7.5px,#bcbd61 8.5px,#f4ba47 9.5px,#fec634 10.5px,#fbcf2d 11.5px,#fad329 20.5px,#fccd2e 25.5px,#fec536 26.5px,#f5ba47 27.5px,#c4bc5e 28.5px,#6fbf81 29.5px,#29b6a7 30.5px,#06a8c4 31.5px,#0b95d2 32.5px,#1481d6 33.5px,#0870df 34.5px,#135adb 35.5px,#352b87 36.4px,#352a87 37.00px)"></i>
<i style="top:191px;left:117px;width:37px;background:linear-gradient(90deg,#352a87 0px,#352b87 0.5px,#1b55d7 1.5px,#036ce0 2.5px,#117ada 3.5px,#06a6c6 5.5px,#1fb4ad 6.5px,#6dbf82 7.5px,#babd62 8.5px,#f2b949 9.5px,#fec535 10.5px,#fbcf2d 11.5px,#f9d429 20.5px,#fccd2e 25.5px,#ffc437 26.5px,#f1b94a 27.5px,#bebc61 28.5px,#6abe83 29.5px,#26b5a9 30.5px,#06a7c5 31.5px,#0c94d2 32.5px,#1480d6 33.5px,#076fdf 34.5px,#1757d9 35.5px,#352b87 36.4px,#352a87 37.00px)"></i>
<i style="top:192px;left:117px;width:37px;background:linear-gradient(90deg,#352a87 0px,#352b87 0.5px,#1b55d7 1.5px,#046ce0 2.5px,#117ad9 3.5px,#06a7c6 5.5px,#21b4ac 6.5px,#6dbf82 7.5px,#b8bd63 8.5px,#f0b94a 9.5px,#fec536 10.5px,#fbcf2d 11.5px,#f9d528 19.5px,#fccd2f 25.5px,#ffc238 26.5px,#ecb94c 27.5px,#b8bd63 28.5px,#65be86 29.5px,#22b4ab 30.5px,#06a6c7 31.5px,#137fd7 33.5px,#066fdf 34.5px,#1c55d6 35.5px,#352b87 36.4px,#352a87 37.00px)"></i>
<i style="top:193px;left:117px;width:37px;background:linear-gradient(90deg,#352a87 0px,#352a87 0.5px,#1c55d6 1.5px,#046ce0 2.5px,#117ad9 3.5px,#06a7c5 5.5px,#22b4ab 6.5px,#6cbf83 7.5px,#b6bd64 8.5px,#eeb94b 9.5px,#ffc436 10.5px,#fbcf2c 11.5px,#f8d627 19.5px,#fccc2f 25.5px,#fec13a 26.5px,#e8b94f 27.5px,#b3bd65 28.5px,#60be88 29.5px,#20b4ad 30.5px,#06a5c8 31.5px,#137ed7 33.5px,#056ee0 34.5px,#2053d4 35.5px,#352a87 36.3px,#352a87 37.00px)"></i>
<i style="top:194px;left:117px;width:37px;background:linear-gradient(90deg,#352a87 0px,#352a87 0.5px,#1b55d6 1.5px,#046ce0 2.5px,#117ad9 3.5px,#0d93d2 4.5px,#06a8c4 5.5px,#24b5aa 6.5px,#6cbf82 7.5px,#b4bd65 8.5px,#ecb94d 9.5px,#ffc337 10.5px,#fbd02c 11.5px,#f8d627 19.5px,#fbd12b 24.5px,#fdcc2f 25.5px,#fec03b 26.5px,#e4b951 27.5px,#adbe68 28.5px,#5bbd8a 29.5px,#1cb3af 30.5px,#06a4c9 31.5px,#127dd8 33.5px,#046de0 34.5px,#2351d0 35.5px,#352a87 36.3px,#352a87 37.00px)"></i>
<i style="top:195px;left:117px;width:37px;background:linear-gradient(90deg,#352a87 0px,#352a87 0.5px,#1b55d6 1.5px,#046ce0 2.5px,#117bd9 3.5px,#0c93d2 4.5px,#06a8c4 5.5px,#26b5a9 6.5px,#6cbf82 7.5px,#b2bd66 8.5px,#eab94e 9.5px,#ffc338 10.5px,#fbd02c 11.5px,#f8d727 19.5px,#fbd12b 24.5px,#fdcb30 25.5px,#fdbe3d 26.5px,#dfba53 27.5px,#a7be6a 28.5px,#56bd8d 29.5px,#1ab2b1 30.5px,#06a3ca 31.5px,#108fd2 32.5px,#127cd8 33.5px,#046ce0 34.5px,#264ecd 35.5px,#352a87 36.3px,#352a87 37.00px)"></i>
<i style="top:196px;left:117px;width:37px;background:linear-gradient(90deg,#352a87 0px,#352a87 0.5px,#1b55d6 1.5px,#046ce0 2.5px,#127bd9 3.5px,#0c94d2 4.5px,#07a9c3 5.5px,#28b6a8 6.5px,#6cbf82 7.5px,#b0bd67 8.5px,#e8b94f 9.5px,#fec238 10.5px,#fbd02c 11.5px,#f8d826 19.5px,#fad12b 24.5px,#fdcb30 25.5px,#fcbd3f 26.5px,#daba55 27.5px,#a1be6c 28.5px,#51bc90 29.5px,#17b1b3 30.5px,#06a2cb 31.5px,#118dd2 32.5px,#117bd9 33.5px,#036be1 34.5px,#2a4cc9 35.5px,#352a87 36.2px,#352a87 37.00px)"></i>
<i style="top:197px;left:117px;width:37px;background:linear-gradient(90deg,#352a87 0px,#352b87 0.5px,#1b55d7 1.5px,#046de0 2.5px,#127cd8 3.5px,#0b95d2 4.5px,#07a9c2 5.5px,#2ab6a7 6.5px,#6cbf83 7.5px,#aebe67 8.5px,#e6b950 9.5px,#fec239 10.5px,#fbd02c 11.5px,#f7d826 19.5px,#fad12b 24.5px,#fdca31 25.5px,#fbbc41 26.5px,#d5ba57 27.5px,#9bbf6f 28.5px,#4cbc92 29.5px,#14b0b5 30.5px,#06a1cc 31.5px,#128cd2 32.5px,#117ad9 33.5px,#026ae1 34.5px,#2c49c5 35.5px,#352a87 36.2px,#352a87 37.00px)"></i>
<i style="top:198px;left:117px;width:37px;background:linear-gradient(90deg,#352a87 0px,#352b87 0.6px,#1b55d7 1.6px,#046de0 2.6px,#127cd8 3.6px,#0b96d1 4.6px,#07aac1 5.6px,#2bb6a5 6.6px,#6cbf83 7.6px,#e4b951 9.6px,#fec13a 10.6px,#fbd02c 11.6px,#f7d925 19.6px,#fad12b 24.6px,#fdca31 25.6px,#f9bb43 26.6px,#d0bb59 27.6px,#95bf71 28.6px,#47bb95 29.6px,#12afb7 30.6px,#06a0cd 31.6px,#128bd3 32.6px,#1079da 33.6px,#0269e1 34.6px,#2f47c0 35.6px,#352a87 36.2px,#352a87 37.00px)"></i>
<i style="top:199px;left:117px;width:37px;background:linear-gradient(90deg,#352a87 0px,#352a87 0.6px,#1c55d6 1.6px,#046de0 2.6px,#127cd8 3.6px,#0a96d1 4.6px,#08aac1 5.6px,#2db7a5 6.6px,#6bbe83 7.6px,#e1b952 9.6px,#fec03b 10.6px,#fbd12b 11.6px,#f7d925 19.6px,#fad12b 24.6px,#fec932 25.6px,#f7ba45 26.6px,#ccbb5b 27.6px,#90bf73 28.6px,#43bb97 29.6px,#0fafb9 30.6px,#069fce 31.6px,#1389d3 32.6px,#1078da 33.6px,#0268e1 34.6px,#3045bd 35.6px,#352a87 36.2px,#352a87 37.00px)"></i>
<i style="top:200px;left:117px;width:37px;background:linear-gradient(90deg,#352a87 0px,#352a87 0.6px,#1b55d6 1.6px,#056de0 2.6px,#127dd8 3.6px,#0a97d1 4.6px,#08aac0 5.6px,#2fb7a3 6.6px,#6bbe83 7.6px,#dfba53 9.6px,#fec03b 10.6px,#fbd12b 11.6px,#f6dc23 18.6px,#fad22b 24.6px,#fec832 25.6px,#f5ba47 26.6px,#c7bc5d 27.6px,#89bf76 28.6px,#3fba9a 29.6px,#0daeba 30.6px,#079ecf 31.6px,#1388d3 32.6px,#0f77db 33.6px,#0267e1 34.6px,#3243b8 35.6px,#352a87 36.1px,#352a87 37.00px)"></i>
<i style="top:201px;left:117px;width:37px;background:linear-gradient(90deg,#352a87 0px,#352a87 0.6px,#1b55d6 1.6px,#056de0 2.6px,#137dd8 3.6px,#0997d1 4.6px,#09abbf 5.6px,#31b8a2 6.6px,#6abe83 7.6px,#ddba54 9.6px,#febf3c 10.6px,#fad12b 11.6px,#f6dd22 18.6px,#fad22b 24.6px,#fec733 25.6px,#f3b948 26.6px,#c1bc5f 27.6px,#83bf78 28.6px,#3bb99c 29.6px,#0badbc 30.6px,#079dcf 31.6px,#1487d3 32.6px,#0266e1 34.6px,#3341b4 35.6px,#352a87 36.1px,#352a87 37.00px)"></i>
<i style="top:202px;left:117px;width:37px;background:linear-gradient(90deg,#352a87 0px,#352a87 0.6px,#1b55d7 1.6px,#056ee0 2.6px,#137dd7 3.6px,#0998d1 4.6px,#09abbf 5.6px,#33b8a1 6.6px,#6abe83 7.6px,#dbba55 9.6px,#febf3c 10.6px,#fad12b 11.6px,#f6dd22 18.6px,#fad22a 24.6px,#fec634 25.6px,#efb94b 26.6px,#bcbd62 27.6px,#7dbf7b 28.6px,#37b99f 29.6px,#0aacbe 30.6px,#079bd0 31.6px,#1486d4 32.6px,#0365e1 34.6px,#343eb0 35.6px,#352b87 36.1px,#352a87 37.00px)"></i>
<i style="top:203px;left:117px;width:37px;background:linear-gradient(90deg,#352a87 0px,#352b87 0.6px,#1b55d7 1.6px,#056ee0 2.6px,#137ed7 3.6px,#0899d1 4.6px,#0aacbe 5.6px,#34b8a0 6.6px,#6abe83 7.6px,#daba55 9.6px,#febe3d 10.6px,#fad12b 11.6px,#f5de21 18.6px,#fad22a 24.6px,#fec635 25.6px,#ecb94c 26.6px,#b7bd64 27.6px,#77bf7e 28.6px,#33b8a1 29.6px,#08abc0 30.6px,#089ad0 31.6px,#1485d4 32.6px,#0363e1 34.6px,#353cac 35.6px,#352b87 36.0px,#352a87 37.00px)"></i>
<i style="top:204px;left:117px;width:37px;background:linear-gradient(90deg,#352a87 0px,#352b87 0.6px,#1b56d7 1.6px,#056ee0 2.6px,#137ed7 3.6px,#0899d1 4.6px,#0bacbd 5.6px,#36b99f 6.6px,#9dbe6e 8.6px,#d8ba56 9.6px,#fdbe3d 10.6px,#fad12b 11.6px,#f5df21 18.6px,#fad22a 24.6px,#ffc536 25.6px,#e8b94e 26.6px,#b1bd66 27.6px,#71bf80 28.6px,#2fb7a3 29.6px,#07aac1 30.6px,#0899d1 31.6px,#1484d4 32.6px,#0462e1 34.6px,#353ba8 35.6px,#352b87 36.0px,#352a87 37.00px)"></i>
<i style="top:205px;left:117px;width:36px;background:linear-gradient(90deg,#352a87 0px,#352a87 0.6px,#1b55d7 1.6px,#056ee0 2.6px,#137ed7 3.6px,#0899d1 4.6px,#0aacbd 5.6px,#36b99f 6.6px,#9bbf6f 8.6px,#d6ba57 9.6px,#fdbe3e 10.6px,#fad12b 11.6px,#f5df20 18.6px,#fad22a 24.6px,#ffc436 25.6px,#e7b94f 26.6px,#aebe67 27.6px,#6ebf82 28.6px,#2db7a4 29.6px,#07a9c2 30.6px,#0998d1 31.6px,#1483d5 32.6px,#0561e0 34.6px,#3639a6 35.6px,#352a87 36.0px,#352a87 36.00px)"></i>
<i style="top:206px;left:117px;width:36px;background:linear-gradient(90deg,#352a87 0px,#352a87 0.6px,#1b55d6 1.6px,#056ee0 2.6px,#137ed7 3.6px,#0899d1 4.6px,#0aacbe 5.6px,#34b8a0 6.6px,#99bf6f 8.6px,#d5ba58 9.6px,#fcbd3f 10.6px,#fbd12c 11.6px,#f5e020 18.6px,#fad22a 24.6px,#ffc436 25.6px,#e6b950 26.6px,#aebe67 27.6px,#6dbf82 28.6px,#2db7a5 29.6px,#07a9c2 30.6px,#0998d1 31.6px,#1483d5 32.6px,#0661e0 34.6px,#3639a4 35.6px,#352a87 36.0px,#352a87 36.00px)"></i>
<i style="top:207px;left:117px;width:36px;background:linear-gradient(90deg,#352a87 0px,#352a87 0.6px,#1b55d7 1.6px,#056ee0 2.6px,#137ed7 3.6px,#0998d1 4.6px,#09abbe 5.6px,#32b8a1 6.6px,#99bf70 8.6px,#d4bb58 9.6px,#fcbd3f 10.6px,#fbd02c 11.6px,#f5e020 18.6px,#fad22a 24.6px,#ffc437 25.6px,#e5b950 26.6px,#adbe68 27.6px,#6cbf82 28.6px,#2cb7a5 29.6px,#07a9c2 30.6px,#0998d1 31.6px,#1483d5 32.6px,#0760e0 34.6px,#3637a2 35.6px,#352a87 35.9px,#352a87 36.00px)"></i>
<i style="top:208px;left:117px;width:36px;background:linear-gradient(90deg,#352a87 0px,#352a87 0.6px,#1b55d7 1.6px,#056ee0 2.6px,#137ed7 3.6px,#0998d1 4.6px,#09abbf 5.6px,#30b7a2 6.6px,#97bf70 8.6px,#d3bb58 9.6px,#fbbd40 10.6px,#fbcf2d 11.6px,#f5e11f 18.6px,#fad22a 24.6px,#ffc437 25.6px,#e5b950 26.6px,#acbe68 27.6px,#6cbf83 28.6px,#2bb6a5 29.6px,#07a9c2 30.6px,#0998d1 31.6px,#1483d5 32.6px,#0860e0 34.6px,#3637a0 35.6px,#352a87 35.9px,#352a87 36.00px)"></i>
<i style="top:209px;left:117px;width:36px;background:linear-gradient(90deg,#352a87 0px,#352a87 0.6px,#1b55d6 1.6px,#056de0 2.6px,#137dd7 3.6px,#0997d1 4.6px,#08abc0 5.6px,#2eb7a4 6.6px,#96bf71 8.6px,#d1bb59 9.6px,#fbbc41 10.6px,#fccf2d 11.6px,#f5e11f 18.6px,#fad32a 24.6px,#ffc437 25.6px,#e4b950 26.6px,#acbe68 27.6px,#6bbf83 28.6px,#2bb6a6 29.6px,#07a9c3 30.6px,#0998d1 31.6px,#1483d5 32.6px,#0860df 34.6px,#36369e 35.6px,#352b87 35.9px,#352a87 36.00px)"></i>
<i style="top:210px;left:117px;width:36px;background:linear-gradient(90deg,#352a87 0px,#352a87 0.6px,#1b55d7 1.6px,#056de0 2.6px,#137dd7 3.6px,#0a97d1 4.6px,#08aac0 5.6px,#2db7a4 6.6px,#95bf71 8.6px,#d1bb59 9.6px,#fabc41 10.6px,#fcce2e 11.6px,#f5e21f 18.6px,#fad32a 24.6px,#ffc337 25.6px,#e3b951 26.6px,#abbe68 27.6px,#6abe83 28.6px,#2ab6a6 29.6px,#07a9c3 30.6px,#0998d1 31.6px,#1483d5 32.6px,#0b73dd 33.6px,#095fdf 34.6px,#36349c 35.6px,#352a87 35.9px,#352a87 36.00px)"></i>
<i style="top:211px;left:117px;width:36px;background:linear-gradient(90deg,#352a87 0px,#352a87 0.6px,#1b55d6 1.6px,#056de0 2.6px,#137dd8 3.6px,#0a96d1 4.6px,#07aac1 5.6px,#2bb6a6 6.6px,#5cbe8a 7.6px,#cfbb5a 9.6px,#fabb42 10.6px,#fccd2e 11.6px,#f5e21e 18.6px,#fad32a 24.6px,#ffc337 25.6px,#e3b951 26.6px,#abbe69 27.6px,#6abe84 28.6px,#2ab6a7 29.6px,#07a9c3 30.6px,#0998d1 31.6px,#1483d5 32.6px,#0a73dd 33.6px,#0a5fdf 34.6px,#36349a 35.6px,#352a87 35.8px,#352a87 36.00px)"></i>
<i style="top:212px;left:117px;width:36px;background:linear-gradient(90deg,#352a87 0px,#352a87 0.6px,#1b55d6 1.6px,#056de0 2.6px,#137dd8 3.6px,#0b96d1 4.6px,#07a9c2 5.6px,#29b6a7 6.6px,#59bd8b 7.6px,#cebb5a 9.6px,#f9bb43 10.6px,#fccd2f 11.6px,#f5e11f 17.6px,#f5de21 20.6px,#fad32a 24.6px,#ffc337 25.6px,#e2b951 26.6px,#aabe69 27.6px,#69be84 28.6px,#29b6a7 29.6px,#07a9c3 30.6px,#0998d1 31.6px,#1483d5 32.6px,#0a73dd 33.6px,#0a5edf 34.6px,#363398 35.6px,#352b87 35.8px,#352a87 36.00px)"></i>
<i style="top:213px;left:117px;width:36px;background:linear-gradient(90deg,#352a87 0px,#352a87 0.6px,#1b55d7 1.6px,#056de0 2.6px,#137dd8 3.6px,#0b95d2 4.6px,#07a9c2 5.6px,#28b6a8 6.6px,#58bd8c 7.6px,#cdbb5b 9.6px,#f9bb43 10.6px,#fdcc2f 11.6px,#f6dc23 15.6px,#f5e31d 18.6px,#fad32a 24.6px,#ffc337 25.6px,#e2b952 26.6px,#a9be69 27.6px,#68be84 28.6px,#28b6a7 29.6px,#06a8c3 30.6px,#0998d1 31.6px,#1483d5 32.6px,#0a73de 33.6px,#0c5ede 34.6px,#363195 35.6px,#352a87 35.8px,#352a87 36.00px)"></i>
<i style="top:214px;left:117px;width:36px;background:linear-gradient(90deg,#352a87 0px,#352a87 0.6px,#1b55d6 1.6px,#046de0 2.6px,#127dd8 3.6px,#0b95d2 4.6px,#07a9c3 5.6px,#26b5a9 6.6px,#56bd8d 7.6px,#ccbb5b 9.6px,#f8ba44 10.6px,#fdcb30 11.6px,#f8d627 13.6px,#f5e41d 18.6px,#fad32a 24.6px,#ffc337 25.6px,#e1b952 26.6px,#a9be69 27.6px,#67be85 28.6px,#28b6a8 29.6px,#06a8c3 30.6px,#0998d1 31.6px,#1483d5 32.6px,#0a73de 33.6px,#0c5dde 34.6px,#363093 35.6px,#352a87 35.8px,#352a87 36.00px)"></i>
<i style="top:215px;left:117px;width:36px;background:linear-gradient(90deg,#352a87 0px,#352b87 0.6px,#1b56d7 1.6px,#046de0 2.6px,#127cd8 3.6px,#0c94d2 4.6px,#06a8c4 5.6px,#25b5aa 6.6px,#54bd8e 7.6px,#cbbb5b 9.6px,#f8ba45 10.6px,#fdcb30 11.6px,#f8d627 13.6px,#f5e41d 18.6px,#fad32a 24.6px,#ffc338 25.6px,#e0ba52 26.6px,#a8be6a 27.6px,#66be85 28.6px,#27b5a8 29.6px,#06a8c4 30.6px,#0997d1 31.6px,#1482d5 32.6px,#0a72de 33.6px,#0d5dde 34.6px,#362f91 35.6px,#352b87 35.8px,#352a87 36.00px)"></i>
<i style="top:216px;left:117px;width:36px;background:linear-gradient(90deg,#352a87 0px,#352a87 0.6px,#1b55d7 1.6px,#046de0 2.6px,#127cd8 3.6px,#0c94d2 4.6px,#06a8c4 5.6px,#23b4ab 6.6px,#52bd8f 7.6px,#cabb5c 9.6px,#f7ba45 10.6px,#fdca31 11.6px,#f8d627 13.6px,#f5e51c 18.6px,#fad32a 24.6px,#ffc338 25.6px,#e0ba53 26.6px,#a7be6a 27.6px,#66be85 28.6px,#27b5a8 29.6px,#06a8c4 30.6px,#0997d1 31.6px,#1482d5 32.6px,#0a72de 33.6px,#0e5cde 34.6px,#362e8f 35.6px,#352a87 35.7px,#352a87 36.00px)"></i>
<i style="top:217px;left:117px;width:36px;background:linear-gradient(90deg,#352a87 0px,#352a87 0.6px,#1b55d6 1.6px,#046de0 2.6px,#127cd8 3.6px,#0d93d2 4.6px,#06a7c5 5.6px,#21b4ac 6.6px,#50bc90 7.6px,#c9bc5c 9.6px,#f6ba46 10.6px,#fdca31 11.6px,#f8d627 13.6px,#f5e61c 18.6px,#fad32a 24.6px,#ffc338 25.6px,#e0ba53 26.6px,#a7be6a 27.6px,#65be86 28.6px,#26b5a9 29.6px,#06a8c4 30.6px,#0997d1 31.6px,#1482d5 32.6px,#0a72de 33.6px,#0f5cdd 34.6px,#352a87 35.7px,#352a87 36.00px)"></i>
<i style="top:218px;left:117px;width:36px;background:linear-gradient(90deg,#352a87 0px,#352b87 0.7px,#1b56d7 1.7px,#046de0 2.7px,#127cd8 3.7px,#06a7c6 5.7px,#20b4ad 6.7px,#4ebc91 7.7px,#c8bc5d 9.7px,#f5ba46 10.7px,#fec931 11.7px,#fad32a 12.7px,#f5e61c 18.6px,#fad32a 24.6px,#ffc238 25.6px,#dfba53 26.6px,#a7be6a 27.6px,#65be86 28.6px,#26b5a9 29.6px,#06a8c4 30.6px,#0997d1 31.6px,#1482d5 32.6px,#0a72de 33.6px,#105bdd 34.6px,#352a87 35.7px,#352a87 36.00px)"></i>
<i style="top:219px;left:117px;width:36px;background:linear-gradient(90deg,#352a87 0px,#352a87 0.7px,#1b55d7 1.7px,#046de0 2.7px,#127cd8 3.7px,#06a6c6 5.7px,#1eb3ae 6.7px,#4cbc92 7.7px,#c7bc5d 9.7px,#f5ba47 10.7px,#fec932 11.7px,#fad32a 12.7px,#f5e71b 18.7px,#fad32a 24.7px,#fec238 25.7px,#dfba53 26.7px,#a6be6b 27.7px,#63be86 28.7px,#25b5a9 29.7px,#06a8c4 30.7px,#0997d1 31.7px,#1482d5 32.7px,#0972de 33.7px,#125adc 34.7px,#352a87 35.7px,#352a87 36.00px)"></i>
<i style="top:220px;left:117px;width:36px;background:linear-gradient(90deg,#352a87 0px,#352a87 0.7px,#1b55d6 1.7px,#046ce0 2.7px,#127bd9 3.7px,#06a6c7 5.7px,#1db3af 6.7px,#4abc93 7.7px,#c6bc5e 9.7px,#f4ba47 10.7px,#fec832 11.7px,#fad32a 12.7px,#f5e71b 18.7px,#fad32a 24.7px,#fec238 25.7px,#deba53 26.7px,#a5be6b 27.7px,#63be87 28.7px,#25b5aa 29.7px,#06a8c4 30.7px,#0997d1 31.7px,#1482d5 32.7px,#0972de 33.7px,#135adb 34.7px,#352a87 35.6px,#352a87 36.00px)"></i>
<i style="top:221px;left:117px;width:36px;background:linear-gradient(90deg,#352a87 0px,#352a87 0.7px,#1c55d6 1.7px,#046ce0 2.7px,#117bd9 3.7px,#06a5c8 5.7px,#1bb2b0 6.7px,#48bb94 7.7px,#87bf77 8.7px,#c4bc5e 9.7px,#f3ba48 10.7px,#fec833 11.7px,#fad32a 12.7px,#f5e81a 18.7px,#fad32a 24.7px,#fec239 25.7px,#deba53 26.7px,#a5be6b 27.7px,#62be87 28.7px,#24b5aa 29.7px,#06a8c4 30.7px,#0997d1 31.7px,#1482d5 32.7px,#0972de 33.7px,#1559da 34.7px,#352a87 35.6px,#352a87 36.00px)"></i>
<i style="top:222px;left:117px;width:36px;background:linear-gradient(90deg,#352a87 0px,#352a87 0.7px,#1b55d7 1.7px,#046ce0 2.7px,#117bd9 3.7px,#0f90d2 4.7px,#06a5c8 5.7px,#1ab2b1 6.7px,#47bb95 7.7px,#86bf77 8.7px,#c3bc5f 9.7px,#f2b949 10.7px,#fec733 11.7px,#fad32a 12.7px,#f5e81a 18.7px,#fad32a 24.7px,#fec239 25.7px,#ddba54 26.7px,#a4be6b 27.7px,#61be87 28.7px,#24b5aa 29.7px,#06a8c4 30.7px,#0a97d1 31.7px,#1482d5 32.7px,#0971de 33.7px,#1757d9 34.7px,#352a87 35.6px,#352a87 36.00px)"></i>
<i style="top:223px;left:117px;width:36px;background:linear-gradient(90deg,#352a87 0px,#352a87 0.7px,#1b55d6 1.7px,#046ce0 2.7px,#117bd9 3.7px,#0f8fd2 4.7px,#06a4c9 5.7px,#18b2b2 6.7px,#45bb96 7.7px,#84bf78 8.7px,#c2bc5f 9.7px,#f2b949 10.7px,#fec734 11.7px,#fad32a 12.7px,#f5e91a 18.7px,#fad32a 24.7px,#fec239 25.7px,#ddba54 26.7px,#a3be6b 27.7px,#61be88 28.7px,#23b5ab 29.7px,#06a8c4 30.7px,#0a97d1 31.7px,#1482d5 32.7px,#0971de 33.7px,#1956d8 34.7px,#352a87 35.6px,#352a87 36.00px)"></i>
<i style="top:224px;left:117px;width:36px;background:linear-gradient(90deg,#352a87 0px,#352a87 0.7px,#1c55d6 1.7px,#046ce0 2.7px,#117ad9 3.7px,#108fd2 4.7px,#06a4ca 5.7px,#17b1b3 6.7px,#43bb97 7.7px,#83bf79 8.7px,#c1bc60 9.7px,#f1b94a 10.7px,#fec634 11.7px,#fad32a 12.7px,#f5ea19 18.7px,#fad329 24.7px,#fec139 25.7px,#ddba54 26.7px,#a3be6c 27.7px,#60be88 28.7px,#23b4ab 29.7px,#06a8c4 30.7px,#0a97d1 31.7px,#1482d5 32.7px,#0871de 33.7px,#1a56d7 34.7px,#352a87 35.6px,#352a87 36.00px)"></i>
<i style="top:225px;left:117px;width:36px;background:linear-gradient(90deg,#352a87 0px,#352a87 0.7px,#1b55d7 1.7px,#046ce0 2.7px,#117ad9 3.7px,#108ed2 4.7px,#06a3ca 5.7px,#16b1b4 6.7px,#41ba98 7.7px,#82bf79 8.7px,#c0bc60 9.7px,#f0b94a 10.7px,#fec635 11.7px,#fad32a 12.7px,#f5ea19 18.7px,#fad32a 24.7px,#fec13a 25.7px,#dcba54 26.7px,#a2be6c 27.7px,#5fbe89 28.7px,#22b4ab 29.7px,#06a8c5 30.7px,#0a97d1 31.7px,#1482d5 32.7px,#0871de 33.7px,#1d54d6 34.7px,#352a87 35.5px,#352a87 36.00px)"></i>
<i style="top:226px;left:117px;width:36px;background:linear-gradient(90deg,#352a87 0px,#352a87 0.7px,#1b55d6 1.7px,#046ce0 2.7px,#117ad9 3.7px,#118ed2 4.7px,#06a3cb 5.7px,#14b0b5 6.7px,#3fba99 7.7px,#80bf7a 8.7px,#bfbc61 9.7px,#efb94b 10.7px,#fec535 11.7px,#fad32a 12.7px,#f5eb18 18.7px,#fad329 24.7px,#fec13a 25.7px,#dcba54 26.7px,#a2be6c 27.7px,#5fbe89 28.7px,#22b4ac 29.7px,#06a8c5 30.7px,#0a97d1 31.7px,#1482d5 32.7px,#0871df 33.7px,#1e54d5 34.7px,#352a87 35.5px,#352a87 36.00px)"></i>
<i style="top:227px;left:117px;width:36px;background:linear-gradient(90deg,#352a87 0px,#352a87 0.7px,#1c55d6 1.7px,#046ce0 2.7px,#117ada 3.7px,#118dd2 4.7px,#06a2cb 5.7px,#13b0b6 6.7px,#3eba9a 7.7px,#7fbf7a 8.7px,#bdbc61 9.7px,#eeb94b 10.7px,#ffc536 11.7px,#fad22a 12.7px,#f5e91a 17.7px,#f5e81a 19.7px,#fad32a 24.7px,#fec13a 25.7px,#dbba55 26.7px,#a1be6d 27.7px,#5dbe89 28.7px,#21b4ac 29.7px,#06a7c5 30.7px,#0a97d1 31.7px,#1482d5 32.7px,#0870df 33.7px,#2152d3 34.7px,#352a87 35.5px,#352a87 36.00px)"></i>
<i style="top:228px;left:117px;width:36px;background:linear-gradient(90deg,#352a87 0px,#352a87 0.7px,#1b55d7 1.7px,#046ce0 2.7px,#117ada 3.7px,#118dd2 4.7px,#06a2cc 5.7px,#12afb7 6.7px,#3cba9b 7.7px,#7ebf7b 8.7px,#bdbd61 9.7px,#eeb94c 10.7px,#ffc436 11.7px,#fad32a 12.7px,#f5ec18 18.7px,#fad32a 24.7px,#fec03a 25.7px,#dbba55 26.7px,#a0be6d 27.7px,#5dbe8a 28.7px,#21b4ac 29.7px,#06a7c5 30.7px,#0a97d1 31.7px,#1482d5 32.7px,#0770df 33.7px,#2251d1 34.7px,#352a87 35.4px,#352a87 36.00px)"></i>
<i style="top:229px;left:117px;width:36px;background:linear-gradient(90deg,#352a87 0px,#352a87 0.7px,#1b55d6 1.7px,#036be0 2.7px,#1079da 3.7px,#128cd2 4.7px,#06a1cc 5.7px,#11afb8 6.7px,#3ab99c 7.7px,#7cbf7b 8.7px,#bbbd62 9.7px,#edb94c 10.7px,#ffc437 11.7px,#fad22a 12.7px,#f5ea19 17.7px,#f5ed17 18.7px,#fad32a 24.7px,#fec03b 25.7px,#daba55 26.7px,#a0be6d 27.7px,#5cbe8a 28.7px,#21b4ac 29.7px,#06a7c5 30.7px,#0a97d1 31.7px,#1482d5 32.7px,#0770df 33.7px,#2450cf 34.7px,#352a87 35.4px,#352a87 36.00px)"></i>
<i style="top:230px;left:117px;width:36px;background:linear-gradient(90deg,#352a87 0px,#352a87 0.7px,#1c55d6 1.7px,#036be0 2.7px,#1079da 3.7px,#128bd2 4.7px,#06a1cd 5.7px,#0faeb9 6.7px,#39b99d 7.7px,#7abf7c 8.7px,#babd62 9.7px,#ecb94d 10.7px,#ffc337 11.7px,#fad22a 12.7px,#f5eb18 17.7px,#f5ea19 19.7px,#fad32a 24.7px,#fec03b 25.7px,#daba55 26.7px,#9fbe6d 27.7px,#5cbe8a 28.7px,#20b4ad 29.7px,#06a7c5 30.7px,#0a97d1 31.7px,#1482d5 32.7px,#0770df 33.7px,#254fce 34.7px,#352a87 35.4px,#352a87 36.00px)"></i>
<i style="top:231px;left:117px;width:36px;background:linear-gradient(90deg,#352a87 0px,#352a87 0.7px,#1b55d7 1.7px,#036be0 2.7px,#1079da 3.7px,#128bd2 4.7px,#06a0cd 5.7px,#0eaeba 6.7px,#37b99e 7.7px,#79bf7d 8.7px,#b9bd63 9.7px,#ebb94d 10.7px,#ffc337 11.7px,#fad22a 12.7px,#f5eb18 17.7px,#f5eb19 19.7px,#fad32a 24.7px,#fec03b 25.7px,#d9ba56 26.7px,#9ebe6d 27.7px,#5bbd8b 28.7px,#20b4ad 29.7px,#06a7c5 30.7px,#0a96d1 31.7px,#1482d5 32.7px,#076fdf 33.7px,#284dcb 34.7px,#352a87 35.4px,#352a87 36.00px)"></i>
<i style="top:232px;left:117px;width:36px;background:linear-gradient(90deg,#352a87 0px,#352a87 0.7px,#1b55d6 1.7px,#036be0 2.7px,#1079da 3.7px,#128ad3 4.7px,#069fce 5.7px,#0daebb 6.7px,#36b99f 7.7px,#78bf7d 8.7px,#b8bd63 9.7px,#eab94d 10.7px,#ffc238 11.7px,#fad22a 12.7px,#f5ec18 17.7px,#f5eb18 19.7px,#fad32a 24.7px,#fec03b 25.7px,#d9ba56 26.7px,#9ebe6e 27.7px,#5abd8b 28.7px,#20b4ad 29.7px,#06a7c5 30.7px,#0a96d1 31.7px,#1482d5 32.7px,#066fdf 33.7px,#2a4cc9 34.7px,#352a87 35.4px,#352a87 36.00px)"></i>
<i style="top:233px;left:117px;width:36px;background:linear-gradient(90deg,#352a87 0px,#352b87 0.7px,#1b56d7 1.7px,#036be0 2.7px,#1079da 3.7px,#138ad3 4.7px,#069fce 5.7px,#0dadbb 6.7px,#34b8a0 7.7px,#77bf7e 8.7px,#b7bd64 9.7px,#eab94e 10.7px,#fec238 11.7px,#fad22a 12.7px,#f5ed17 17.7px,#f5ec18 19.7px,#fad32a 24.7px,#febf3c 25.7px,#d8ba56 26.7px,#9dbe6e 27.7px,#59bd8c 28.7px,#1fb3ad 29.7px,#06a7c5 30.7px,#0a96d1 31.7px,#1481d5 32.7px,#066fdf 33.7px,#2c4ac6 34.7px,#352a87 35.3px,#352a87 36.00px)"></i>
<i style="top:234px;left:117px;width:36px;background:linear-gradient(90deg,#352a87 0px,#352a87 0.7px,#1b55d7 1.7px,#036be0 2.7px,#1078da 3.7px,#1389d3 4.7px,#069ece 5.7px,#0badbc 6.7px,#33b8a1 7.7px,#75bf7f 8.7px,#b6bd64 9.7px,#e9b94e 10.7px,#fec239 11.7px,#fad22a 12.7px,#f5ed17 17.7px,#f6f015 18.7px,#f7d826 23.7px,#fad32a 24.7px,#febf3c 25.7px,#d7ba56 26.7px,#9cbf6e 27.7px,#58bd8c 28.7px,#1fb3ae 29.7px,#06a7c5 30.7px,#0a96d1 31.7px,#1481d5 32.7px,#066edf 33.7px,#2d49c4 34.7px,#352a87 35.3px,#352a87 36.00px)"></i>
<i style="top:235px;left:117px;width:36px;background:linear-gradient(90deg,#352a87 0px,#352a87 0.7px,#1b55d7 1.7px,#036be0 2.7px,#1079da 3.7px,#1389d3 4.7px,#069ece 5.7px,#0cadbc 6.7px,#33b8a1 7.7px,#75bf7e 8.7px,#b6bd64 9.7px,#e8b94f 10.7px,#fec239 11.7px,#fad22a 12.7px,#f5ee16 17.7px,#f5ed17 19.7px,#fad22a 24.7px,#fdbe3d 25.7px,#d6ba57 26.7px,#9bbf6f 27.7px,#57bd8c 28.7px,#1eb3ae 29.7px,#06a7c6 30.7px,#1481d6 32.7px,#056ee0 33.7px,#2e48c2 34.7px,#352a87 35.3px,#352a87 36.00px)"></i>
<i style="top:236px;left:117px;width:36px;background:linear-gradient(90deg,#352a87 0px,#352b87 0.7px,#1b55d7 1.7px,#036be0 2.7px,#1079da 3.7px,#128ad3 4.7px,#069fce 5.7px,#0dadbb 6.7px,#35b89f 7.7px,#77bf7d 8.7px,#b7bd64 9.7px,#e8b94f 10.7px,#fec239 11.7px,#fad22a 12.7px,#f5eb19 16.7px,#f6f115 18.7px,#f6de21 22.7px,#fbd12b 24.7px,#fcbd40 25.7px,#d3bb58 26.7px,#99bf70 27.7px,#55bd8e 28.7px,#1cb3af 29.7px,#06a6c7 30.7px,#0b95d2 31.7px,#1480d6 32.7px,#056de0 33.7px,#2f47c0 34.7px,#352a87 35.3px,#352a87 36.00px)"></i>
<i style="top:237px;left:117px;width:36px;background:linear-gradient(90deg,#352a87 0px,#352a87 0.7px,#1b55d6 1.7px,#036ce0 2.7px,#107ada 3.7px,#128bd2 4.7px,#06a0cd 5.7px,#0eaeba 6.7px,#37b99e 7.7px,#79bf7d 8.7px,#b7bd64 9.7px,#e8b94f 10.7px,#fec239 11.7px,#fad22a 12.7px,#f5eb18 16.7px,#f6f114 18.7px,#f6de22 22.7px,#fbd02c 24.7px,#fabc42 25.7px,#d1bb59 26.7px,#97bf70 27.7px,#54bd8e 28.7px,#1bb2b0 29.7px,#06a6c7 30.7px,#0c94d2 31.7px,#1480d6 32.7px,#046de0 33.7px,#2f46bf 34.7px,#352a87 35.3px,#352a87 36.00px)"></i>
<i style="top:238px;left:117px;width:36px;background:linear-gradient(90deg,#352a87 0px,#352a87 0.8px,#1b55d7 1.8px,#046ce0 2.8px,#117ad9 3.8px,#118cd2 4.8px,#06a1cd 5.8px,#0faeb9 6.8px,#3ab99d 7.8px,#7bbf7c 8.8px,#b8bd63 9.8px,#e8b94f 10.8px,#fec239 11.8px,#fad22b 12.8px,#f5eb18 16.8px,#f6f214 18.8px,#f6dd22 22.8px,#fcce2d 24.8px,#f8bb44 25.8px,#cebb5a 26.8px,#95bf71 27.8px,#51bd8f 28.8px,#19b2b2 29.8px,#06a5c8 30.8px,#137fd6 32.8px,#046ce0 33.8px,#3045bd 34.8px,#352a87 35.3px,#352a87 36.00px)"></i>
<i style="top:239px;left:117px;width:36px;background:linear-gradient(90deg,#352a87 0px,#352a87 0.8px,#1b55d7 1.8px,#046ce0 2.8px,#117bd9 3.8px,#118dd2 4.8px,#06a2cc 5.8px,#11afb8 6.8px,#3cba9b 7.8px,#7dbf7b 8.8px,#b9bd63 9.8px,#e8b94f 10.8px,#fec238 11.8px,#fad12b 12.8px,#f5ec18 16.8px,#f6f214 18.8px,#f6dd22 22.8px,#fccd2f 24.8px,#f6ba46 25.8px,#ccbb5b 26.8px,#93bf72 27.8px,#4fbc91 28.8px,#17b1b3 29.8px,#06a5c9 30.8px,#137fd7 32.8px,#046ce0 33.8px,#3144bb 34.8px,#352a87 35.3px,#352a87 36.00px)"></i>
<i style="top:240px;left:117px;width:36px;background:linear-gradient(90deg,#352a87 0px,#352b87 0.8px,#1b55d7 1.8px,#046de0 2.8px,#117bd9 3.8px,#108ed2 4.8px,#06a2cb 5.8px,#12b0b6 6.8px,#3fba9a 7.8px,#80bf7a 8.8px,#babd62 9.8px,#e8b94f 10.8px,#ffc238 11.8px,#fad12b 12.8px,#f5ec17 16.8px,#f6f213 18.8px,#f6dd22 22.8px,#fdcb30 24.8px,#f3ba48 25.8px,#c9bc5c 26.8px,#91bf73 27.8px,#4dbc92 28.8px,#16b1b4 29.8px,#06a4c9 30.8px,#137ed7 32.8px,#036be0 33.8px,#3243b9 34.8px,#352a87 35.3px,#352a87 36.00px)"></i>
<i style="top:241px;left:117px;width:36px;background:linear-gradient(90deg,#352a87 0px,#352a87 0.8px,#1b55d6 1.8px,#046de0 2.8px,#127cd9 3.8px,#108fd2 4.8px,#06a3ca 5.8px,#14b0b5 6.8px,#41ba99 7.8px,#81bf79 8.8px,#babd62 9.8px,#e8b94f 10.8px,#ffc238 11.8px,#fad12b 12.8px,#f5ed17 16.8px,#f6f313 18.8px,#f5e61c 21.8px,#fdca31 24.8px,#f1b949 25.8px,#c7bc5d 26.8px,#8fbf74 27.8px,#4cbc92 28.8px,#14b0b5 29.8px,#06a4ca 30.8px,#137ed7 32.8px,#036be0 33.8px,#3243b8 34.8px,#352a87 35.3px,#352a87 36.00px)"></i>
<i style="top:242px;left:117px;width:36px;background:linear-gradient(90deg,#352a87 0px,#352a87 0.8px,#1b55d6 1.8px,#046de0 2.8px,#127cd8 3.8px,#06a4ca 5.8px,#15b1b4 6.8px,#43bb97 7.8px,#83bf79 8.8px,#bbbd62 9.8px,#e8b94f 10.8px,#ffc338 11.8px,#fbd12b 12.8px,#f5ed17 16.8px,#f7f313 18.8px,#f5e61c 21.8px,#fec832 24.8px,#eeb94b 25.8px,#c4bc5e 26.8px,#8dbf75 27.8px,#49bc94 28.8px,#13b0b6 29.8px,#06a3ca 30.8px,#137dd8 32.8px,#036ae1 33.8px,#3341b6 34.8px,#352a87 35.3px,#352a87 36.00px)"></i>
<i style="top:243px;left:117px;width:36px;background:linear-gradient(90deg,#352a87 0px,#352a87 0.8px,#1b55d7 1.8px,#056de0 2.8px,#127dd8 3.8px,#06a4c9 5.8px,#17b1b3 6.8px,#46bb96 7.8px,#85bf78 8.8px,#bcbd61 9.8px,#e8b94f 10.8px,#ffc338 11.8px,#fbd12b 12.8px,#f5e91a 15.8px,#f7f412 18.8px,#f5e61c 21.8px,#fec734 24.8px,#ecb94d 25.8px,#c2bc5f 26.8px,#8bbf75 27.8px,#47bb95 28.8px,#11afb7 29.8px,#06a2cb 30.8px,#137dd8 32.8px,#036ae1 33.8px,#3340b4 34.8px,#352a87 35.3px,#352a87 36.00px)"></i>
<i style="top:244px;left:117px;width:36px;background:linear-gradient(90deg,#352a87 0px,#352a87 0.9px,#1b55d7 1.9px,#056ee0 2.9px,#137dd8 3.9px,#06a5c8 5.9px,#19b2b2 6.9px,#49bb94 7.9px,#87bf77 8.9px,#bdbc61 9.9px,#e8b94f 10.9px,#ffc337 11.9px,#f5e31e 14.9px,#f7f313 17.9px,#f6f015 19.9px,#f5e61c 21.9px,#fec535 24.9px,#e9b94e 25.9px,#bfbc60 26.9px,#89bf76 27.9px,#45bb96 28.9px,#0fafb9 29.9px,#06a2cc 30.9px,#108fd2 31.9px,#127cd8 32.9px,#0269e1 33.9px,#343fb2 34.9px,#352a87 35.3px,#352a87 36.00px)"></i>
<i style="top:245px;left:117px;width:36px;background:linear-gradient(90deg,#352a87 0px,#352b87 0.9px,#1b56d7 1.9px,#056ee0 2.9px,#137ed7 3.9px,#06a6c7 5.9px,#1bb2b0 6.9px,#4bbc93 7.9px,#89bf76 8.9px,#bebc61 9.9px,#e8b94f 10.9px,#ffc337 11.9px,#f5e41d 14.9px,#f7f412 17.9px,#f6f015 19.9px,#f5e61b 21.9px,#ffc337 24.9px,#e6b94f 25.9px,#bdbd61 26.9px,#86bf77 27.9px,#43bb97 28.9px,#0eaeba 29.9px,#06a1cc 30.9px,#108ed2 31.9px,#127cd8 32.9px,#0269e1 33.9px,#343eb0 34.9px,#352a87 35.3px,#352a87 36.00px)"></i>
<i style="top:246px;left:117px;width:36px;background:linear-gradient(90deg,#352a87 0px,#352a87 0.9px,#1b55d6 1.9px,#066edf 2.9px,#137ed7 3.9px,#0c94d2 4.9px,#06a6c6 5.9px,#1cb3af 6.9px,#4dbc92 7.9px,#8bbf75 8.9px,#bfbc61 9.9px,#e7b94f 10.9px,#ffc337 11.9px,#f5e41d 14.9px,#f7f412 17.9px,#f6f015 19.9px,#f5e71b 21.9px,#fec239 24.9px,#e4b951 25.9px,#babd62 26.9px,#85bf78 27.9px,#42bb98 28.9px,#0dadbb 29.9px,#06a1cd 30.9px,#118ed2 31.9px,#127bd9 32.9px,#0269e1 33.9px,#353eaf 34.9px,#352a87 35.3px,#352a87 36.00px)"></i>
<i style="top:247px;left:117px;width:36px;background:linear-gradient(90deg,#352a87 0px,#352a87 0.9px,#1b55d7 1.9px,#066edf 2.9px,#137fd7 3.9px,#0b95d2 4.9px,#06a7c5 5.9px,#1eb3ae 6.9px,#50bc90 7.9px,#8dbf75 8.9px,#c0bc60 9.9px,#e7b94f 10.9px,#ffc337 11.9px,#f5e51c 14.9px,#f7f512 17.9px,#f6f115 19.9px,#f5e71b 21.9px,#fccf2d 23.9px,#fec03b 24.9px,#e1b952 25.9px,#b8bd63 26.9px,#83bf79 27.9px,#3fba99 28.9px,#0cadbc 29.9px,#06a0cd 30.9px,#118dd2 31.9px,#117bd9 32.9px,#0268e1 33.9px,#353dad 34.9px,#352a87 35.3px,#352a87 36.00px)"></i>
<i style="top:248px;left:117px;width:36px;background:linear-gradient(90deg,#352a87 0px,#352a87 0.9px,#1b55d7 1.9px,#066fdf 2.9px,#137fd7 3.9px,#0b96d1 4.9px,#06a8c4 5.9px,#20b4ad 6.9px,#53bd8f 7.9px,#8fbf74 8.9px,#c0bc60 9.9px,#e7b94f 10.9px,#ffc437 11.9px,#f5e51c 14.9px,#f7f611 17.9px,#f6f114 19.9px,#f5e71b 21.9px,#fcce2e 23.9px,#febf3d 24.9px,#deba53 25.9px,#b5bd64 26.9px,#81bf7a 27.9px,#3dba9a 28.9px,#0aacbd 29.9px,#069fce 30.9px,#118cd2 31.9px,#117ad9 32.9px,#0267e1 33.9px,#353cab 34.9px,#352a87 35.3px,#352a87 36.00px)"></i>
<i style="top:249px;left:117px;width:36px;background:linear-gradient(90deg,#352a87 0px,#352b87 1.0px,#1b56d7 2.0px,#076fdf 3.0px,#1480d6 4.0px,#0a97d1 5.0px,#06a8c3 6.0px,#22b4ab 7.0px,#56bd8d 8.0px,#91bf73 9.0px,#c1bc60 10.0px,#e7b94f 11.0px,#ffc437 12.0px,#f5e61c 15.0px,#f8f611 18.0px,#f8f711 19.0px,#f5e71b 22.0px,#fccd2e 24.0px,#fcbd3f 25.0px,#dcba54 26.0px,#b3bd65 27.0px,#7fbf7a 28.0px,#3bb99c 29.0px,#09abbe 30.0px,#069fce 31.0px,#128bd2 32.0px,#117ada 33.0px,#0267e1 34.0px,#353ba9 35.0px,#352a87 35.3px,#352a87 36.00px)"></i>
<i style="top:250px;left:117px;width:36px;background:linear-gradient(90deg,#352a87 0px,#352a87 1.0px,#1b55d6 2.0px,#076fdf 3.0px,#1480d6 4.0px,#0997d1 5.0px,#07a9c3 6.0px,#24b5aa 7.0px,#92bf72 9.0px,#c2bc5f 10.0px,#e7b94f 11.0px,#ffc437 12.0px,#f5e71b 15.0px,#f8f710 18.0px,#f6f214 20.0px,#f5e71b 22.0px,#fdcc2f 24.0px,#fbbc41 25.0px,#b1bd66 27.0px,#7dbf7b 28.0px,#3ab99d 29.0px,#09abbf 30.0px,#069ece 31.0px,#128bd2 32.0px,#1079da 33.0px,#0266e1 34.0px,#353aa8 35.0px,#352a87 35.3px,#352a87 36.00px)"></i>
<i style="top:251px;left:117px;width:36px;background:linear-gradient(90deg,#352a87 0px,#352a87 1.0px,#1b55d7 2.0px,#0770df 3.0px,#1481d6 4.0px,#0998d1 5.0px,#07aac2 6.0px,#26b5a9 7.0px,#94bf72 9.0px,#c3bc5f 10.0px,#e7b94f 11.0px,#ffc436 12.0px,#f5e71b 15.0px,#f8f710 18.0px,#f8f810 19.0px,#f5e71b 22.0px,#fdcb30 24.0px,#f9bb43 25.0px,#d7ba57 26.0px,#aebe67 27.0px,#7bbf7c 28.0px,#38b99e 29.0px,#08aac1 30.0px,#079dcf 31.0px,#138ad3 32.0px,#1079da 33.0px,#0266e1 34.0px,#3639a6 35.0px,#352a87 35.3px,#352a87 36.00px)"></i>
</div>
<div class="p" style="left:364px;top:6px;width:269px;height:254px">
<i style="top:45px;left:118px;width:3px;background:linear-gradient(90deg,#352a87 0px,#352a87 0.0px,#352d8c 0.2px,#3145bc 1.0px,#294cca 1.2px,#2c4ac5 1.5px,#353ba8 2.0px,#352a87 2.5px,#352a87 3.00px)"></i>
<i style="top:46px;left:117px;width:5px;background:linear-gradient(90deg,#352a87 0px,#352a87 0.2px,#362f90 0.5px,#2f47c0 1.2px,#1658da 1.8px,#0860e0 2.0px,#0267e1 2.5px,#0562e0 2.8px,#125adc 3.0px,#2e48c2 3.5px,#363194 4.2px,#352a87 4.5px,#352a87 5.00px)"></i>
<i style="top:47px;left:116px;width:6px;background:linear-gradient(90deg,#352a87 0px,#352a87 0.8px,#3440b3 1.5px,#2450cf 2.0px,#0760e0 2.5px,#036be0 3.0px,#066fdf 3.2px,#137ed7 3.5px,#066ee0 3.8px,#0265e1 4.2px,#0b5edf 4.5px,#294cc9 5.0px,#353cab 5.5px,#352a87 6.0px,#352a87 6.00px)"></i>
<i style="top:48px;left:116px;width:7px;background:linear-gradient(90deg,#352a87 0px,#352a87 0.2px,#3341b5 1.0px,#2251d1 1.5px,#0661e0 2.0px,#036be0 2.5px,#0e77db 3.2px,#1486d4 3.5px,#0c74dd 4.0px,#0267e1 4.8px,#0562e0 5.0px,#2350d0 5.5px,#343fb2 6.0px,#362f90 6.5px,#352a87 6.8px,#352a87 7.00px)"></i>
<i style="top:49px;left:116px;width:7px;background:linear-gradient(90deg,#352a87 0px,#352a87 0.0px,#3637a1 0.5px,#2f46bf 1.0px,#1857d8 1.5px,#095fdf 1.8px,#0265e1 2.0px,#1079da 3.2px,#1487d3 3.5px,#1486d3 3.8px,#1079da 4.0px,#0269e1 5.0px,#0364e1 5.2px,#0e5dde 5.5px,#2c4ac6 6.0px,#353aa8 6.5px,#352a87 7.0px,#352a87 7.00px)"></i>
<i style="top:50px;left:115px;width:9px;background:linear-gradient(90deg,#352a87 0px,#352a87 0.8px,#352c8a 1.0px,#3244ba 1.8px,#1e54d5 2.2px,#0d5dde 2.5px,#0363e1 2.8px,#0871de 3.5px,#127bd9 4.2px,#1487d3 4.5px,#118cd2 4.8px,#117ada 5.2px,#0265e1 6.5px,#0a5fdf 6.8px,#284dcb 7.2px,#353dad 7.8px,#352c8b 8.2px,#352a87 8.5px,#352a87 9.00px)"></i>
<i style="top:51px;left:115px;width:9px;background:linear-gradient(90deg,#352a87 0px,#352a87 0.8px,#3341b5 1.5px,#2251d1 2.0px,#125adc 2.2px,#0561e0 2.5px,#046ce0 3.0px,#137ed7 4.2px,#0f90d2 4.8px,#137ed7 5.2px,#0267e1 6.8px,#0661e0 7.0px,#2350d0 7.5px,#3440b3 8.0px,#352a87 8.8px,#352a87 9.00px)"></i>
<i style="top:52px;left:115px;width:9px;background:linear-gradient(90deg,#352a87 0px,#352a87 0.5px,#362f90 0.8px,#2f46bf 1.5px,#1857d9 2.0px,#095fdf 2.2px,#0265e1 2.5px,#1480d6 4.2px,#0c93d2 4.8px,#0e92d2 5.0px,#1486d4 5.2px,#0c75dc 6.2px,#0269e1 7.0px,#0363e1 7.2px,#0e5cde 7.5px,#2c4ac7 8.0px,#363399 8.8px,#352a87 9.0px,#352a87 9.00px)"></i>
<i style="top:53px;left:115px;width:10px;background:linear-gradient(90deg,#352a87 0px,#352a87 0.2px,#352b89 0.5px,#3244ba 1.2px,#1d54d5 1.8px,#0364e1 2.2px,#0971de 3.0px,#1483d5 4.2px,#0b95d1 4.8px,#0a97d1 5.0px,#1484d4 5.5px,#066edf 7.0px,#0265e1 7.5px,#0a5fdf 7.8px,#274ecc 8.2px,#353eaf 8.8px,#362e8e 9.2px,#352a87 9.5px,#352a87 10.00px)"></i>
<i style="top:54px;left:115px;width:10px;background:linear-gradient(90deg,#352a87 0px,#352a87 0.2px,#362f91 0.5px,#2f47c0 1.2px,#1558da 1.8px,#0760e0 2.0px,#036be0 2.5px,#1481d6 4.0px,#128ad3 4.5px,#0a96d1 4.8px,#0998d1 5.2px,#1486d4 5.8px,#0b74dd 7.0px,#0267e1 7.8px,#0561e0 8.0px,#2351d0 8.5px,#3340b4 9.0px,#352a87 9.8px,#352a87 10.00px)"></i>
<i style="top:55px;left:115px;width:10px;background:linear-gradient(90deg,#352a87 0px,#352a87 0.2px,#3341b4 1.0px,#2251d1 1.5px,#0462e1 2.0px,#046ce0 2.5px,#137fd7 3.8px,#128ad3 4.5px,#079cd0 5.0px,#089ad1 5.5px,#1388d3 6.0px,#1079da 7.0px,#0269e1 8.0px,#0364e1 8.2px,#0d5dde 8.5px,#2c4ac7 9.0px,#363297 9.8px,#352a87 10.0px,#352a87 10.00px)"></i>
<i style="top:56px;left:115px;width:11px;background:linear-gradient(90deg,#352a87 0px,#352a87 0.2px,#3242b7 1.0px,#2c4ac6 1.2px,#0e5dde 1.8px,#0364e1 2.0px,#0971de 2.8px,#1484d4 4.0px,#0d92d2 4.8px,#06a0cd 5.2px,#089bd0 5.8px,#0f8fd2 6.0px,#137fd7 7.0px,#0266e1 8.5px,#0960df 8.8px,#284dcb 9.2px,#353dac 9.8px,#352a87 10.2px,#352a87 11.00px)"></i>
<i style="top:57px;left:115px;width:11px;background:linear-gradient(90deg,#352a87 0px,#352a87 0.2px,#3244ba 1.0px,#1b55d7 1.5px,#0b5edf 1.8px,#0265e1 2.0px,#1481d6 3.8px,#0d92d2 4.8px,#06a1cc 5.2px,#06a1cc 5.8px,#1389d3 6.8px,#1079da 7.8px,#0268e1 8.8px,#0462e1 9.0px,#125adc 9.2px,#2450d0 9.5px,#343fb0 10.0px,#352d8c 10.5px,#352a87 10.8px,#352a87 11.00px)"></i>
<i style="top:58px;left:115px;width:11px;background:linear-gradient(90deg,#352a87 0px,#352a87 0.0px,#352c8a 0.2px,#353dae 0.8px,#274ecc 1.2px,#1757d9 1.5px,#0860df 1.8px,#0266e1 2.0px,#1482d5 3.8px,#0c94d2 4.8px,#06a5c8 5.5px,#06a3ca 6.0px,#0f90d2 6.8px,#137fd7 7.8px,#0364e1 9.2px,#0d5dde 9.5px,#2d49c5 10.0px,#362f91 10.8px,#352a87 11.0px,#352a87 11.00px)"></i>
<i style="top:59px;left:115px;width:12px;background:linear-gradient(90deg,#352a87 0px,#352a87 0.0px,#362e8e 0.2px,#2f47c0 1.0px,#135adb 1.5px,#0562e0 1.8px,#046ce0 2.2px,#1480d6 3.5px,#089ad0 5.0px,#06a7c5 5.8px,#06a0cd 6.5px,#1481d5 8.0px,#0268e1 9.5px,#0661e0 9.8px,#1658da 10.0px,#274ecc 10.2px,#353cab 10.8px,#352a87 11.2px,#352a87 12.00px)"></i>
<i style="top:60px;left:115px;width:12px;background:linear-gradient(90deg,#352a87 0px,#352a87 0.0px,#362f91 0.2px,#2d49c4 1.0px,#0f5cde 1.5px,#0363e1 1.8px,#0972de 2.5px,#1481d5 3.5px,#0d93d2 4.5px,#06a1cd 5.2px,#07aac2 6.0px,#06a3ca 6.8px,#108fd2 7.8px,#137dd8 8.8px,#0266e1 10.0px,#0a5fdf 10.2px,#2b4bc7 10.8px,#3639a5 11.2px,#362f91 11.5px,#352a87 11.8px,#352a87 12.00px)"></i>
<i style="top:61px;left:115px;width:12px;background:linear-gradient(90deg,#352a87 0px,#352a87 0.0px,#3342b7 0.8px,#1d54d5 1.2px,#0c5ede 1.5px,#0265e1 1.8px,#1483d5 3.5px,#06a0cd 5.2px,#09abbf 6.0px,#07a9c2 6.8px,#079dcf 7.5px,#1484d4 8.8px,#0b74dd 9.8px,#0364e1 10.5px,#0e5cde 10.8px,#2252d2 11.0px,#343fb0 11.5px,#352a87 12.0px,#352a87 12.00px)"></i>
<i style="top:62px;left:115px;width:13px;background:linear-gradient(90deg,#352a87 0px,#352a87 0.0px,#3244ba 0.8px,#294dca 1.0px,#1956d8 1.2px,#0860df 1.5px,#0266e1 1.8px,#1480d6 3.2px,#089bd0 4.8px,#07aac2 5.8px,#0dadbb 6.5px,#06a4c9 7.5px,#0d93d2 8.5px,#137fd6 9.5px,#0269e1 10.8px,#0462e1 11.0px,#1459db 11.2px,#264ecd 11.5px,#3144bb 11.8px,#352a87 12.5px,#352a87 13.00px)"></i>
<i style="top:63px;left:115px;width:13px;background:linear-gradient(90deg,#352a87 0px,#352a87 0.0px,#353dad 0.5px,#264fcd 1.0px,#1559da 1.2px,#0561e0 1.5px,#046de0 2.0px,#1481d6 3.2px,#0c93d2 4.2px,#06a6c7 5.5px,#11afb8 6.5px,#08abc0 7.5px,#079cd0 8.5px,#1483d5 9.8px,#0972de 10.8px,#0267e1 11.2px,#0860df 11.5px,#1b55d7 11.8px,#2b4ac7 12.0px,#3638a2 12.5px,#352d8d 12.8px,#352a87 13.0px,#352a87 13.00px)"></i>
<i style="top:64px;left:115px;width:14px;background:linear-gradient(90deg,#352a87 0px,#352a87 0.0px,#3244ba 0.8px,#1857d8 1.2px,#0760e0 1.5px,#0267e1 1.8px,#1481d6 3.2px,#0c94d2 4.2px,#06a6c7 5.5px,#14b0b5 6.5px,#14b0b5 7.2px,#06a6c6 8.2px,#0a97d1 9.2px,#1482d5 10.2px,#0364e1 11.8px,#0f5cde 12.0px,#2350d0 12.2px,#3046be 12.5px,#363297 13.0px,#352a87 13.2px,#352a87 14.00px)"></i>
<i style="top:65px;left:115px;width:14px;background:linear-gradient(90deg,#352a87 0px,#352a87 0.0px,#352b88 0.2px,#343eb0 0.8px,#2251d1 1.2px,#0f5cdd 1.5px,#0364e1 1.8px,#066fdf 2.2px,#137fd6 3.2px,#0d92d2 4.2px,#06a2cb 5.2px,#09abbf 6.0px,#1bb2b0 7.0px,#16b1b3 7.8px,#06a6c6 8.8px,#0a96d1 9.8px,#1480d6 10.8px,#0268e1 12.0px,#0860e0 12.2px,#1b55d6 12.5px,#2c4ac5 12.8px,#36359e 13.2px,#352a87 13.5px,#352a87 14.00px)"></i>
<i style="top:66px;left:115px;width:14px;background:linear-gradient(90deg,#352a87 0px,#352a87 0.2px,#362f91 0.5px,#3342b7 1.0px,#2b4bc8 1.2px,#1a56d7 1.5px,#0960df 1.8px,#0267e1 2.0px,#1482d5 3.5px,#06a1cc 5.2px,#0cadbc 6.2px,#21b4ac 7.2px,#1db3af 8.0px,#07a9c2 9.0px,#089ad0 10.0px,#1484d4 11.0px,#0870df 12.0px,#0364e1 12.5px,#125adc 12.8px,#264ecc 13.0px,#3243b9 13.2px,#362d8d 13.8px,#352a87 14.0px,#352a87 14.00px)"></i>
<i style="top:67px;left:115px;width:15px;background:linear-gradient(90deg,#352a87 0px,#352a87 0.5px,#353dac 1.0px,#3046be 1.2px,#2450cf 1.5px,#115bdc 1.8px,#0363e1 2.0px,#066edf 2.5px,#1480d6 3.5px,#0c93d2 4.5px,#06a7c6 5.8px,#10afb9 6.5px,#27b5a8 7.5px,#24b5aa 8.2px,#07a9c3 9.5px,#0899d1 10.5px,#1482d5 11.5px,#0267e1 12.8px,#0a5fdf 13.0px,#2053d4 13.2px,#2f47c0 13.5px,#363195 14.0px,#352a87 14.2px,#352a87 15.00px)"></i>
<i style="top:68px;left:115px;width:15px;background:linear-gradient(90deg,#352a87 0px,#352a87 0.5px,#352c8b 0.8px,#3440b3 1.2px,#2c49c5 1.5px,#0a5fdf 2.0px,#0266e1 2.2px,#137ed7 3.5px,#128cd2 4.2px,#069fce 5.2px,#09abbf 6.2px,#2db7a4 7.8px,#2cb6a5 8.5px,#09acbe 9.8px,#0998d1 11.0px,#1485d4 11.8px,#0870df 12.8px,#0363e1 13.2px,#1658da 13.5px,#2b4bc8 13.8px,#3440b3 14.0px,#352a87 14.5px,#352a87 15.00px)"></i>
<i style="top:69px;left:115px;width:15px;background:linear-gradient(90deg,#352a87 0px,#352a87 0.8px,#362f90 1.0px,#3243b8 1.5px,#294cca 1.8px,#1758d9 2.0px,#0562e0 2.2px,#056ee0 2.8px,#1480d6 3.8px,#0c94d2 4.8px,#06a8c4 6.0px,#12b0b7 6.8px,#31b8a2 7.8px,#36b99f 8.5px,#27b6a8 9.2px,#09abbf 10.2px,#079cd0 11.2px,#1483d5 12.2px,#0b73dd 13.0px,#0267e1 13.5px,#0b5edf 13.8px,#2251d1 14.0px,#3145bc 14.2px,#352d8d 14.8px,#352a87 15.0px,#352a87 15.00px)"></i>
<i style="top:70px;left:116px;width:15px;background:linear-gradient(90deg,#352a87 0px,#352a87 0.0px,#362f91 0.2px,#3244ba 0.8px,#264ecd 1.0px,#125adc 1.2px,#0364e1 1.5px,#0c74dd 2.2px,#1487d3 3.2px,#06a1cd 4.5px,#0cadbc 5.5px,#38b99d 7.0px,#3dba9a 7.8px,#2fb7a3 8.5px,#0dadbb 9.5px,#06a3ca 10.2px,#0c94d2 11.0px,#1481d5 11.8px,#036be0 12.8px,#0364e1 13.0px,#1559da 13.2px,#2a4bc8 13.5px,#3440b2 13.8px,#352a87 14.2px,#352a87 15.00px)"></i>
<i style="top:71px;left:116px;width:15px;background:linear-gradient(90deg,#352a87 0px,#352a87 0.2px,#363092 0.5px,#3045bd 1.0px,#2350d0 1.2px,#0e5cde 1.5px,#0265e1 1.8px,#1480d6 3.0px,#0f90d2 3.8px,#06a3ca 4.8px,#0bacbd 5.5px,#41ba99 7.2px,#46bb96 8.0px,#2eb7a4 9.0px,#0bacbd 10.0px,#079dcf 11.0px,#1485d4 12.0px,#0c75dd 12.8px,#0268e1 13.2px,#0960df 13.5px,#2053d4 13.8px,#3046be 14.0px,#362e8e 14.5px,#352a87 14.8px,#352a87 15.00px)"></i>
<i style="top:72px;left:116px;width:15px;background:linear-gradient(90deg,#352a87 0px,#352a87 0.5px,#363194 0.8px,#2f47bf 1.2px,#2152d3 1.5px,#0a5edf 1.8px,#0267e1 2.0px,#1482d5 3.2px,#06a2cb 4.8px,#09acbe 5.5px,#28b6a7 6.5px,#4abc94 7.5px,#4ebc91 8.2px,#3fba9a 9.0px,#10afb8 10.2px,#06a8c4 10.8px,#0b96d1 11.8px,#1483d5 12.5px,#0265e1 13.8px,#115bdc 14.0px,#294dca 14.2px,#3341b4 14.5px,#352a87 15.0px,#352a87 15.00px)"></i>
<i style="top:73px;left:116px;width:16px;background:linear-gradient(90deg,#352a87 0px,#352a87 0.8px,#363195 1.0px,#2e48c2 1.5px,#1d54d6 1.8px,#0760e0 2.0px,#0269e1 2.2px,#137fd7 3.2px,#0f90d2 4.0px,#06a0cd 4.8px,#09abbf 5.5px,#27b5a8 6.5px,#4dbc92 7.5px,#58bd8c 8.2px,#4ebc91 9.0px,#0eaeba 10.8px,#06a7c5 11.2px,#0c93d2 12.2px,#1481d6 13.0px,#0269e1 14.0px,#0661e0 14.2px,#1d54d5 14.5px,#2f47c0 14.8px,#362e8f 15.2px,#352a87 15.5px,#352a87 16.00px)"></i>
<i style="top:74px;left:117px;width:15px;background:linear-gradient(90deg,#352a87 0px,#352a87 0.0px,#363297 0.2px,#353eaf 0.5px,#2d49c4 0.8px,#1956d8 1.0px,#0462e1 1.2px,#0870df 1.8px,#1486d4 2.8px,#069ece 3.8px,#0badbc 4.8px,#2fb7a3 5.8px,#56bd8d 6.8px,#61be88 7.5px,#58bd8c 8.2px,#32b8a2 9.2px,#0cadbc 10.2px,#06a2cb 11.0px,#1484d4 12.2px,#0b74dd 13.0px,#0266e1 13.5px,#0e5dde 13.8px,#264ecd 14.0px,#3342b7 14.2px,#352a87 14.8px,#352a87 15.00px)"></i>
<i style="top:75px;left:117px;width:16px;background:linear-gradient(90deg,#352a87 0px,#352a87 0.2px,#363398 0.5px,#343fb0 0.8px,#2b4bc7 1.0px,#1558da 1.2px,#0364e1 1.5px,#0972de 2.0px,#1482d5 2.8px,#06a0cd 4.0px,#09abbf 4.8px,#2bb6a6 5.8px,#57bd8c 6.8px,#68be84 7.5px,#66be85 8.2px,#52bd8f 9.0px,#1ab2b1 10.2px,#0aacbd 10.8px,#079cd0 11.8px,#1482d5 12.8px,#0972de 13.5px,#0363e1 14.0px,#1757d9 14.2px,#2c49c5 14.5px,#353dae 14.8px,#363194 15.0px,#352a87 15.2px,#352a87 16.00px)"></i>
<i style="top:76px;left:117px;width:16px;background:linear-gradient(90deg,#352a87 0px,#352a87 0.5px,#3440b2 1.0px,#294cc9 1.2px,#125adc 1.5px,#0265e1 1.8px,#137ed7 2.8px,#138ad3 3.2px,#079dcf 4.0px,#07aac1 4.8px,#1cb3af 5.5px,#60be88 7.0px,#71bf80 7.8px,#70bf81 8.5px,#5dbe8a 9.2px,#18b2b2 10.8px,#06a8c4 11.5px,#0c94d2 12.5px,#1481d6 13.2px,#0269e1 14.2px,#0860df 14.5px,#2152d3 14.8px,#3145bc 15.0px,#352a87 15.5px,#352a87 16.00px)"></i>
<i style="top:77px;left:117px;width:16px;background:linear-gradient(90deg,#352a87 0px,#352a87 0.8px,#3341b4 1.2px,#274ecc 1.5px,#0e5cde 1.8px,#0267e1 2.0px,#1480d6 3.0px,#06a4c9 4.5px,#0faeb9 5.2px,#39b99d 6.2px,#69be84 7.2px,#7abf7d 8.0px,#79bf7d 8.8px,#67be85 9.5px,#37b99f 10.5px,#0eaeba 11.5px,#06a7c5 12.0px,#0899d1 12.8px,#1485d4 13.5px,#0b74dd 14.2px,#0266e1 14.8px,#105bdd 15.0px,#284dca 15.2px,#3440b3 15.5px,#352a87 16.0px,#352a87 16.00px)"></i>
<i style="top:78px;left:118px;width:16px;background:linear-gradient(90deg,#352a87 0px,#352a87 0.0px,#3342b6 0.5px,#254fce 0.8px,#0b5ede 1.0px,#0268e1 1.2px,#1481d6 2.2px,#0b96d1 3.0px,#07a9c2 4.0px,#1db3af 4.8px,#69be84 6.2px,#7ebf7a 7.0px,#82bf79 8.0px,#71bf80 8.8px,#4fbc91 9.5px,#1eb3ae 10.5px,#07aac1 11.2px,#0a97d1 12.2px,#1483d5 13.0px,#0971de 13.8px,#0363e1 14.2px,#1a56d7 14.5px,#2e48c2 14.8px,#362e8e 15.2px,#352a87 15.5px,#352a87 16.00px)"></i>
<i style="top:79px;left:118px;width:16px;background:linear-gradient(90deg,#352a87 0px,#352a87 0.2px,#3243b8 0.8px,#2350d0 1.0px,#095fdf 1.2px,#0269e1 1.5px,#1482d5 2.5px,#06a3cb 3.8px,#08abc0 4.2px,#21b4ac 5.0px,#70bf81 6.5px,#86bf77 7.2px,#8bbf75 8.0px,#81bf79 8.8px,#66be85 9.5px,#24b5aa 10.8px,#0aacbe 11.5px,#06a0cd 12.2px,#1480d6 13.5px,#0268e1 14.5px,#0c5dde 14.8px,#254fce 15.0px,#3342b7 15.2px,#352a87 15.8px,#352a87 16.00px)"></i>
<i style="top:80px;left:118px;width:17px;background:linear-gradient(90deg,#352a87 0px,#352a87 0.5px,#3243ba 1.0px,#2251d2 1.2px,#0860e0 1.5px,#026ae1 1.8px,#137dd8 2.5px,#138ad3 3.0px,#069ece 3.8px,#09abbf 4.5px,#24b5aa 5.2px,#76bf7e 6.8px,#8cbf75 7.5px,#90bf73 8.5px,#82bf79 9.2px,#61be88 10.0px,#2ab6a6 11.0px,#0daeba 11.8px,#06a2cb 12.5px,#0e91d2 13.2px,#1483d5 13.8px,#0972de 14.5px,#0363e1 15.0px,#1a56d7 15.2px,#2e48c1 15.5px,#362d8d 16.0px,#352a87 16.2px,#352a87 17.00px)"></i>
<i style="top:81px;left:118px;width:17px;background:linear-gradient(90deg,#352a87 0px,#352a87 0.8px,#3144bb 1.2px,#2052d3 1.5px,#0661e0 1.8px,#036ae1 2.0px,#137ed7 2.8px,#0d92d2 3.5px,#06a4c9 4.2px,#0aacbe 4.8px,#26b5a9 5.5px,#7bbf7c 7.0px,#92bf73 7.8px,#97bf71 8.8px,#81bf79 9.8px,#4bbc93 10.8px,#1ab2b1 11.8px,#06a9c3 12.5px,#0c94d2 13.5px,#1480d6 14.2px,#0267e1 15.2px,#0e5cde 15.5px,#274ecc 15.8px,#3341b4 16.0px,#36349a 16.2px,#352a87 16.5px,#352a87 17.00px)"></i>
<i style="top:82px;left:119px;width:16px;background:linear-gradient(90deg,#352a87 0px,#352a87 0.0px,#3145bc 0.5px,#1e54d5 0.8px,#0462e1 1.0px,#036be0 1.2px,#137ed7 2.0px,#128cd2 2.5px,#06a0cd 3.2px,#0badbc 4.0px,#36b99f 5.0px,#80bf7a 6.2px,#97bf70 7.0px,#9dbe6e 8.0px,#90bf73 8.8px,#71bf80 9.5px,#2bb6a6 10.8px,#0daeba 11.5px,#06a2cb 12.2px,#0f90d2 13.0px,#137dd8 13.8px,#036ae1 14.5px,#0562e0 14.8px,#1d54d5 15.0px,#2f46bf 15.2px,#363aa6 15.5px,#352b89 15.8px,#352a87 16.0px,#352a87 16.00px)"></i>
<i style="top:83px;left:119px;width:17px;background:linear-gradient(90deg,#352a87 0px,#352a87 0.2px,#3638a3 0.5px,#3046be 0.8px,#1c55d6 1.0px,#0363e1 1.2px,#0a73de 1.8px,#1486d4 2.5px,#06a1cc 3.5px,#07aac1 4.0px,#20b4ad 4.8px,#57bd8c 5.8px,#85bf78 6.5px,#9dbf6e 7.2px,#a3be6b 8.2px,#97bf70 9.0px,#79bf7d 9.8px,#25b5a9 11.2px,#0aacbd 12.0px,#089bd0 13.0px,#1480d6 14.0px,#0266e1 15.0px,#105bdd 15.2px,#294cc9 15.5px,#343fb1 15.8px,#363297 16.0px,#352a87 16.2px,#352a87 17.00px)"></i>
<i style="top:84px;left:119px;width:17px;background:linear-gradient(90deg,#352a87 0px,#352a87 0.5px,#3639a6 0.8px,#2f47c1 1.0px,#1957d8 1.2px,#0364e1 1.5px,#0b74dd 2.0px,#1487d3 2.8px,#06a2cb 3.8px,#08abc0 4.2px,#23b4ab 5.0px,#5cbe8a 6.0px,#89bf76 6.8px,#a0be6d 7.5px,#a8be6a 8.5px,#9cbf6e 9.2px,#80bf7a 10.0px,#2ab6a6 11.5px,#0dadbb 12.2px,#06a6c7 12.8px,#0a96d1 13.5px,#1482d5 14.2px,#0268e1 15.2px,#0a5edf 15.5px,#2450cf 15.8px,#3342b7 16.0px,#352a87 16.5px,#352a87 17.00px)"></i>
<i style="top:85px;left:119px;width:17px;background:linear-gradient(90deg,#352a87 0px,#352a87 0.5px,#352c8b 0.8px,#353baa 1.0px,#2d49c4 1.2px,#1459db 1.5px,#0266e1 1.8px,#1481d5 2.8px,#06a3ca 4.0px,#09acbe 4.5px,#27b5a8 5.2px,#62be87 6.2px,#8ebf74 7.0px,#a3be6c 7.8px,#aabe69 8.5px,#a0be6d 9.5px,#86bf77 10.2px,#2fb7a3 11.8px,#0faeb9 12.5px,#06a7c5 13.0px,#0998d1 13.8px,#1483d5 14.5px,#0269e1 15.5px,#095fdf 15.8px,#2351d0 16.0px,#3243b8 16.2px,#352a87 16.8px,#352a87 17.00px)"></i>
<i style="top:86px;left:119px;width:17px;background:linear-gradient(90deg,#352a87 0px,#352a87 0.8px,#362e8f 1.0px,#353dad 1.2px,#2b4bc8 1.5px,#0f5cdd 1.8px,#0267e1 2.0px,#1483d5 3.0px,#06a0cd 4.0px,#0badbc 4.8px,#38b99d 5.8px,#88bf77 7.0px,#a6be6a 8.0px,#acbe68 9.0px,#a3be6c 9.8px,#8cbf75 10.5px,#33b8a0 12.0px,#0aacbd 13.0px,#069fce 13.8px,#1484d4 14.8px,#0871de 15.5px,#026ae1 15.8px,#0860e0 16.0px,#2251d2 16.2px,#3243b9 16.5px,#352a87 17.0px,#352a87 17.00px)"></i>
<i style="top:87px;left:120px;width:17px;background:linear-gradient(90deg,#352a87 0px,#352a87 0.0px,#363093 0.2px,#343fb1 0.5px,#274ecc 0.8px,#0c5ede 1.0px,#0269e1 1.2px,#137ed7 2.0px,#128cd2 2.5px,#06a1cc 3.2px,#08aac1 3.8px,#22b4ab 4.5px,#5ebe89 5.5px,#8cbf75 6.2px,#a4be6b 7.0px,#afbe67 8.0px,#a6be6a 9.0px,#91bf73 9.8px,#67be85 10.5px,#2bb6a6 11.5px,#0cadbc 12.2px,#06a1cd 13.0px,#1485d4 14.0px,#0972de 14.8px,#036ae1 15.0px,#0661e0 15.2px,#2152d3 15.5px,#3243ba 15.8px,#352a87 16.2px,#352a87 17.00px)"></i>
<i style="top:88px;left:120px;width:17px;background:linear-gradient(90deg,#352a87 0px,#352a87 0.2px,#363297 0.5px,#3341b5 0.8px,#2450cf 1.0px,#0860df 1.2px,#036ae1 1.5px,#137fd7 2.2px,#118dd2 2.8px,#06a2cb 3.5px,#09abbf 4.0px,#26b5a9 4.8px,#64be86 5.8px,#91bf73 6.5px,#abbe68 7.5px,#b0bd67 8.8px,#9ebe6e 9.8px,#8cbf75 10.2px,#30b7a3 11.8px,#0eaeba 12.5px,#06a6c6 13.0px,#0b95d2 13.8px,#1486d4 14.2px,#0a72de 15.0px,#036be0 15.2px,#0562e0 15.5px,#2053d4 15.8px,#3244ba 16.0px,#352a87 16.5px,#352a87 17.00px)"></i>
<i style="top:89px;left:120px;width:17px;background:linear-gradient(90deg,#352a87 0px,#352a87 0.5px,#36349b 0.8px,#3243b8 1.0px,#2152d3 1.2px,#0462e0 1.5px,#036be0 1.8px,#1480d6 2.5px,#0f8fd2 3.0px,#069ece 3.5px,#0aacbd 4.2px,#38b99e 5.2px,#8abf76 6.5px,#a4be6b 7.2px,#b3bd65 8.2px,#b0bd67 9.2px,#9bbf6f 10.2px,#85bf78 10.8px,#35b8a0 12.0px,#11afb7 12.8px,#06a8c5 13.2px,#0a97d1 14.0px,#1487d3 14.5px,#0b73dd 15.2px,#0363e1 15.8px,#1e54d5 16.0px,#3144bb 16.2px,#352a87 16.8px,#352a87 17.00px)"></i>
<i style="top:90px;left:120px;width:17px;background:linear-gradient(90deg,#352a87 0px,#352a87 0.8px,#3145bc 1.2px,#1c55d6 1.5px,#0364e1 1.8px,#046de0 2.0px,#1482d5 2.8px,#06a0cd 3.8px,#0cadbb 4.5px,#2eb7a4 5.2px,#8fbf74 6.8px,#a7be6a 7.5px,#b6bd64 8.8px,#abbe68 10.0px,#97bf70 10.8px,#6bbf83 11.5px,#2cb6a5 12.5px,#0badbc 13.2px,#069fce 14.0px,#1481d6 15.0px,#046de0 15.8px,#0363e1 16.0px,#1c55d6 16.2px,#3145bc 16.5px,#352a87 17.0px,#352a87 17.00px)"></i>
<i style="top:91px;left:121px;width:17px;background:linear-gradient(90deg,#352a87 0px,#352a87 0.0px,#3638a3 0.2px,#2f47c0 0.5px,#1758d9 0.8px,#0265e1 1.0px,#1483d5 2.0px,#06a1cc 3.0px,#08aac0 3.5px,#25b5aa 4.2px,#64be86 5.2px,#95bf71 6.0px,#b3bd65 7.2px,#b7bd64 8.5px,#a3be6c 9.8px,#92bf72 10.2px,#30b7a2 11.8px,#0daeba 12.5px,#06a5c8 13.0px,#0d92d2 13.8px,#1482d5 14.2px,#0364e1 15.2px,#1b56d7 15.5px,#3045bd 15.8px,#3637a0 16.0px,#352a87 16.2px,#352a87 17.00px)"></i>
<i style="top:92px;left:121px;width:17px;background:linear-gradient(90deg,#352a87 0px,#352a87 0.2px,#363aa7 0.5px,#2d49c4 0.8px,#125adc 1.0px,#0267e1 1.2px,#137ed7 2.0px,#118cd2 2.5px,#06a2cb 3.2px,#09abbf 3.8px,#29b6a7 4.5px,#6abe83 5.5px,#99bf70 6.2px,#b1bd66 7.2px,#babd62 8.2px,#b1bd66 9.5px,#98bf70 10.5px,#45bb96 11.8px,#1ab2b1 12.5px,#08abc0 13.0px,#079bd0 13.8px,#1483d5 14.5px,#0265e1 15.5px,#1956d8 15.8px,#3046be 16.0px,#3637a0 16.2px,#352a87 16.5px,#352a87 17.00px)"></i>
<i style="top:93px;left:121px;width:17px;background:linear-gradient(90deg,#352a87 0px,#352a87 0.2px,#352b89 0.5px,#353cab 0.8px,#2b4bc8 1.0px,#0d5dde 1.2px,#0269e1 1.5px,#137fd7 2.2px,#108ed2 2.8px,#06a4ca 3.5px,#0bacbd 4.0px,#2db7a4 4.8px,#81bf79 6.0px,#9dbe6e 6.5px,#b4bd65 7.5px,#bcbd62 8.5px,#b4bd65 9.8px,#9dbf6e 10.8px,#5dbe8a 11.8px,#2bb6a5 12.5px,#0aacbe 13.2px,#079dcf 14.0px,#1484d4 14.8px,#0e76dc 15.2px,#0266e1 15.8px,#1757d9 16.0px,#2f46bf 16.2px,#3637a1 16.5px,#352a87 16.8px,#352a87 17.00px)"></i>
<i style="top:94px;left:121px;width:17px;background:linear-gradient(90deg,#352a87 0px,#352a87 0.5px,#363194 0.8px,#3340b3 1.0px,#2450cf 1.2px,#0761e0 1.5px,#036be0 1.8px,#1481d6 2.5px,#06a0cd 3.5px,#07aac2 4.0px,#17b1b3 4.5px,#51bd8f 5.5px,#95bf71 6.5px,#a7be6a 7.0px,#bbbd62 8.2px,#bbbd62 9.5px,#a6be6b 10.8px,#92bf72 11.2px,#2cb7a5 12.8px,#0aacbe 13.5px,#079cd0 14.2px,#1483d5 15.0px,#0d75dc 15.5px,#046de0 15.8px,#0363e1 16.0px,#2053d4 16.2px,#3342b7 16.5px,#363297 16.8px,#352a87 17.0px,#352a87 17.00px)"></i>
<i style="top:95px;left:121px;width:22px;background:linear-gradient(90deg,#352a87 0px,#352a87 0.8px,#3637a2 1.0px,#2f46bf 1.2px,#1857d9 1.5px,#0265e1 1.8px,#1483d5 2.8px,#06a1cc 3.8px,#08abc0 4.2px,#27b5a9 5.0px,#67be85 6.0px,#97bf70 6.8px,#adbe67 7.5px,#bdbd61 8.8px,#b8bd63 10.0px,#a5be6b 11.0px,#90bf73 11.5px,#28b6a8 13.0px,#0faeb9 13.5px,#06a6c7 14.0px,#0899d1 14.5px,#1487d3 15.0px,#1079da 15.5px,#0268e1 16.0px,#105bdd 16.2px,#2d49c4 16.5px,#3639a5 16.8px,#363093 17.0px,#2e48c1 18.0px,#2251d1 18.8px,#2350d0 19.5px,#3046be 20.2px,#36349b 21.0px,#352d8d 21.2px,#352a87 21.5px,#352a87 22.00px)"></i>
<i style="top:96px;left:121px;width:22px;background:linear-gradient(90deg,#352a87 0px,#352a87 0.8px,#362e8f 1.0px,#353eae 1.2px,#284dca 1.5px,#0c5ede 1.8px,#0269e1 2.0px,#137fd7 2.8px,#118ed2 3.2px,#079dcf 3.8px,#0aacbe 4.5px,#2ab6a6 5.2px,#8bbf75 6.8px,#9abf6f 7.0px,#b3bd65 8.0px,#bebc61 9.2px,#b4bd65 10.5px,#9cbf6e 11.5px,#6abe83 12.2px,#24b5aa 13.2px,#0cadbb 13.8px,#06a4ca 14.2px,#1484d4 15.2px,#0d75dc 15.8px,#046de0 16.0px,#0462e1 16.2px,#2351d1 16.5px,#3440b3 16.8px,#363093 17.0px,#3145bc 17.8px,#1f53d4 18.5px,#1558da 19.0px,#1a56d7 19.8px,#2d49c4 20.5px,#36369f 21.2px,#362e8f 21.5px,#352a87 21.8px,#352a87 22.00px)"></i>
<i style="top:97px;left:122px;width:21px;background:linear-gradient(90deg,#352a87 0px,#352a87 0.0px,#36359d 0.2px,#3244ba 0.5px,#1e54d5 0.8px,#0363e1 1.0px,#0b74dd 1.5px,#1481d6 2.0px,#06a4c9 3.2px,#0cadbc 3.8px,#2db7a4 4.5px,#8ebf74 6.0px,#9cbf6f 6.2px,#b4bd65 7.2px,#bebc61 8.5px,#b3bd65 9.8px,#9bbf6f 10.8px,#52bd8f 11.8px,#20b4ad 12.5px,#0aacbe 13.0px,#06a2cc 13.5px,#1480d6 14.5px,#0268e1 15.2px,#135adb 15.5px,#2f47c0 15.8px,#36369f 16.0px,#3638a2 16.2px,#294cca 17.0px,#0f5cdd 17.8px,#0a5fdf 18.5px,#0f5cdd 19.0px,#294cca 19.8px,#3638a2 20.5px,#352a87 21.0px,#352a87 21.00px)"></i>
<i style="top:98px;left:122px;width:22px;background:linear-gradient(90deg,#352a87 0px,#352a87 0.0px,#352c8a 0.2px,#353baa 0.5px,#2c4ac6 0.8px,#115bdc 1.0px,#0267e1 1.2px,#137dd8 2.0px,#128bd2 2.5px,#06a1cc 3.2px,#08aac1 3.8px,#23b5ab 4.5px,#60be88 5.5px,#9dbe6e 6.5px,#b4bd65 7.5px,#bebc61 8.8px,#b3bd65 10.0px,#99bf6f 11.0px,#3bba9c 12.2px,#10afb8 13.0px,#06a5c8 13.5px,#0997d1 14.0px,#1485d4 14.5px,#0d75dc 15.0px,#046de0 15.2px,#0561e0 15.5px,#254fce 15.8px,#353dae 16.0px,#3638a3 16.2px,#2e47c1 16.8px,#1b56d7 17.2px,#095fdf 17.8px,#0364e1 18.8px,#0e5cde 19.5px,#2450d0 20.0px,#363aa6 20.8px,#352a87 21.2px,#352a87 22.00px)"></i>
<i style="top:99px;left:122px;width:22px;background:linear-gradient(90deg,#352a87 0px,#352a87 0.2px,#363399 0.5px,#3341b6 0.8px,#2351d0 1.0px,#0760e0 1.2px,#036ae1 1.5px,#137fd7 2.2px,#118ed2 2.8px,#06a2cb 3.5px,#09abbf 4.0px,#26b5a9 4.8px,#84bf78 6.2px,#9ebe6d 6.8px,#b5bd65 7.8px,#bdbc61 9.0px,#b2bd66 10.2px,#a1be6c 11.0px,#97bf70 11.2px,#37b99e 12.5px,#0dadbb 13.2px,#06a3ca 13.8px,#0c94d2 14.2px,#1481d6 14.8px,#0267e1 15.5px,#1658d9 15.8px,#3145bc 16.0px,#3638a3 16.2px,#2d48c3 16.8px,#1558da 17.2px,#0363e1 17.8px,#0267e1 19.0px,#0760e0 19.8px,#1e54d5 20.2px,#3244ba 20.8px,#352a87 21.5px,#352a87 22.00px)"></i>
<i style="top:100px;left:122px;width:22px;background:linear-gradient(90deg,#352a87 0px,#352a87 0.5px,#3639a5 0.8px,#2e47c1 1.0px,#1757d9 1.2px,#0265e1 1.5px,#1481d5 2.5px,#069fce 3.5px,#0aacbd 4.2px,#2ab6a7 5.0px,#67be85 6.0px,#95bf71 6.8px,#a6be6a 7.2px,#bbbd62 8.5px,#bbbd62 9.8px,#a7be6a 11.0px,#95bf71 11.5px,#45bb96 12.5px,#14b0b5 13.2px,#06a7c6 13.8px,#0899d1 14.2px,#1486d4 14.8px,#0d75dc 15.2px,#046ce0 15.5px,#0760e0 15.8px,#294dca 16.0px,#353ba8 16.2px,#2d49c5 16.8px,#115bdc 17.2px,#0661e0 17.5px,#026ae1 18.2px,#0267e1 19.8px,#0a5fdf 20.2px,#254fce 20.8px,#353dae 21.2px,#352b88 21.8px,#352a87 22.0px,#352a87 22.00px)"></i>
<i style="top:101px;left:122px;width:23px;background:linear-gradient(90deg,#352a87 0px,#352a87 0.5px,#363194 0.8px,#343fb1 1.0px,#274ecc 1.2px,#0c5ede 1.5px,#0269e1 1.8px,#137dd8 2.5px,#0d93d2 3.2px,#06a5c8 4.0px,#0cadbb 4.5px,#3ab99c 5.5px,#98bf70 7.0px,#b6bd64 8.2px,#bdbc61 9.5px,#b1bd66 10.8px,#9fbe6d 11.5px,#7fbf7a 12.0px,#2eb7a4 13.0px,#11afb8 13.5px,#08aac0 13.8px,#069ece 14.2px,#1482d5 15.0px,#0267e1 15.8px,#1a56d7 16.0px,#3342b7 16.2px,#3341b5 16.5px,#2c4ac6 16.8px,#0d5dde 17.2px,#0363e1 17.5px,#066fdf 19.0px,#0266e1 20.2px,#0562e0 20.5px,#105bdd 20.8px,#2d48c3 21.2px,#36369f 21.8px,#352c8a 22.0px,#352a87 22.2px,#352a87 23.00px)"></i>
<i style="top:102px;left:122px;width:23px;background:linear-gradient(90deg,#352a87 0px,#352a87 0.8px,#3145bc 1.2px,#1d54d5 1.5px,#0363e1 1.8px,#0a73dd 2.2px,#1480d6 2.8px,#0b95d1 3.5px,#06a7c6 4.2px,#0faeb9 4.8px,#30b7a3 5.5px,#8cbf75 7.0px,#a2be6c 7.5px,#b7bd64 8.5px,#bdbc61 9.8px,#b5bd65 10.8px,#9ebe6e 11.8px,#7cbf7c 12.2px,#29b6a7 13.2px,#0daebb 13.8px,#06a8c3 14.0px,#079bd0 14.5px,#1487d3 15.0px,#0d75dc 15.5px,#046ce0 15.8px,#095fdf 16.0px,#2c4ac6 16.2px,#3341b5 16.5px,#2b4bc7 16.8px,#0b5edf 17.2px,#0365e1 17.5px,#0972de 19.0px,#0269e1 20.5px,#0365e1 20.8px,#0b5edf 21.0px,#2b4bc7 21.5px,#3638a2 22.0px,#362e8d 22.2px,#352a87 22.5px,#352a87 23.00px)"></i>
<i style="top:103px;left:122px;width:23px;background:linear-gradient(90deg,#352a87 0px,#352a87 0.8px,#362f90 1.0px,#353dad 1.2px,#2b4bc7 1.5px,#115bdc 1.8px,#0267e1 2.0px,#1482d5 3.0px,#06a3ca 4.2px,#09acbe 4.8px,#33b8a1 5.8px,#8fbf74 7.2px,#a3be6c 7.8px,#babd63 9.0px,#bcbd62 10.2px,#b0be67 11.2px,#9dbf6e 12.0px,#78bf7d 12.5px,#37b99e 13.2px,#16b1b4 13.8px,#0aacbe 14.0px,#06a0cd 14.5px,#1483d5 15.2px,#0266e1 16.0px,#1e54d5 16.2px,#3341b5 16.5px,#2a4bc8 16.8px,#1956d8 17.0px,#0860df 17.2px,#0266e1 17.5px,#0b74dd 18.8px,#0871de 20.2px,#0267e1 21.0px,#0661e0 21.2px,#1558da 21.5px,#274dcc 21.8px,#3243b9 22.0px,#362f90 22.5px,#352a87 22.8px,#352a87 23.00px)"></i>
<i style="top:104px;left:123px;width:22px;background:linear-gradient(90deg,#352a87 0px,#352a87 0.0px,#3243b8 0.5px,#2251d1 0.8px,#0860e0 1.0px,#026ae1 1.2px,#137ed7 2.0px,#0d93d2 2.8px,#06a5c8 3.5px,#0badbc 4.0px,#36b99f 5.0px,#91bf73 6.5px,#a4be6b 7.0px,#b8bd63 8.0px,#bdbd61 9.2px,#afbe67 10.5px,#9cbf6e 11.2px,#5dbe89 12.0px,#20b4ad 12.8px,#08aac1 13.2px,#079dcf 13.8px,#1388d3 14.2px,#0d76dc 14.8px,#046ce0 15.0px,#0c5ede 15.2px,#2e48c2 15.5px,#2a4cc9 15.8px,#1857d9 16.0px,#0661e0 16.2px,#046ce0 16.8px,#0f78db 18.2px,#0870df 19.8px,#0364e1 20.5px,#0f5cdd 20.8px,#2350d0 21.0px,#3045bd 21.2px,#363194 21.8px,#352a87 22.0px,#352a87 22.00px)"></i>
<i style="top:105px;left:123px;width:23px;background:linear-gradient(90deg,#352a87 0px,#352a87 0.0px,#352c8b 0.2px,#353ba9 0.5px,#2e48c3 0.8px,#1758d9 1.0px,#0364e1 1.2px,#0b74dd 1.8px,#1486d3 2.5px,#06a2cc 3.5px,#07aac1 4.0px,#20b4ad 4.8px,#57bd8c 5.8px,#93bf72 6.8px,#abbe68 7.5px,#bbbd62 8.5px,#bcbd62 9.8px,#a9be69 11.0px,#9abf6f 11.5px,#41ba98 12.5px,#0eaeba 13.2px,#06a8c4 13.5px,#0899d1 14.0px,#1484d4 14.5px,#0265e1 15.2px,#2251d2 15.5px,#294cc9 15.8px,#1658d9 16.0px,#0562e0 16.2px,#046de0 16.8px,#1079da 18.0px,#0f77db 19.5px,#0266e1 20.8px,#0b5edf 21.0px,#1f53d4 21.2px,#2e48c1 21.5px,#363297 22.0px,#352a87 22.2px,#352a87 23.00px)"></i>
<i style="top:106px;left:123px;width:23px;background:linear-gradient(90deg,#352a87 0px,#352a87 0.2px,#3243b8 0.8px,#2351d1 1.0px,#0860df 1.2px,#0269e1 1.5px,#137dd8 2.2px,#138ad3 2.8px,#069fce 3.5px,#09acbe 4.2px,#31b8a2 5.2px,#8bbf75 6.8px,#a1be6d 7.2px,#b9bd63 8.5px,#bcbd61 9.8px,#adbe68 11.0px,#95bf71 11.8px,#3bb99c 12.8px,#17b1b3 13.2px,#0aacbd 13.5px,#069fce 14.0px,#1480d6 14.8px,#056de0 15.2px,#0960df 15.5px,#2b4bc7 15.8px,#1857d8 16.0px,#0661e0 16.2px,#046de0 16.8px,#127bd9 18.2px,#0f78db 19.8px,#0267e1 21.0px,#095fdf 21.2px,#1d55d6 21.5px,#2d49c4 21.8px,#36339a 22.2px,#352a87 22.5px,#352a87 23.00px)"></i>
<i style="top:107px;left:123px;width:23px;background:linear-gradient(90deg,#352a87 0px,#352a87 0.2px,#363297 0.5px,#343fb2 0.8px,#284dcb 1.0px,#0e5cde 1.2px,#0267e1 1.5px,#1481d6 2.5px,#06a2cb 3.8px,#0daeba 4.5px,#39b99d 5.5px,#91bf73 7.0px,#a4be6b 7.5px,#bcbd62 9.0px,#babd63 10.2px,#a4be6b 11.5px,#9dbe6e 11.8px,#78bf7d 12.2px,#34b8a0 13.0px,#12b0b6 13.5px,#08aac0 13.8px,#079dcf 14.2px,#1388d3 14.8px,#0d75dc 15.2px,#036be0 15.5px,#0f5cde 15.8px,#1a56d7 16.0px,#0860e0 16.2px,#0267e1 16.5px,#117ada 18.0px,#1079da 19.8px,#0269e1 21.0px,#0363e1 21.2px,#115bdc 21.5px,#264fcd 21.8px,#3244ba 22.0px,#362f90 22.5px,#352a87 22.8px,#352a87 23.00px)"></i>
<i style="top:108px;left:123px;width:23px;background:linear-gradient(90deg,#352a87 0px,#352a87 0.2px,#362e8f 0.5px,#353cab 0.8px,#2d49c4 1.0px,#1658da 1.2px,#0365e1 1.5px,#0b73dd 2.0px,#1485d4 2.8px,#06a0cd 3.8px,#0bacbd 4.5px,#33b8a1 5.5px,#98bf70 7.2px,#b1bd66 8.2px,#bdbd61 9.8px,#b2bd66 11.0px,#99bf70 12.0px,#41ba98 13.0px,#0eaeba 13.8px,#06a3cb 14.2px,#1485d4 15.0px,#0b73dd 15.5px,#0269e1 15.8px,#1758d9 16.0px,#0860e0 16.2px,#0267e1 16.5px,#117ada 18.0px,#1079da 19.8px,#0269e1 21.0px,#0363e1 21.2px,#115bdc 21.5px,#264fcd 21.8px,#3244ba 22.0px,#362f90 22.5px,#352a87 22.8px,#352a87 23.00px)"></i>
<i style="top:109px;left:123px;width:23px;background:linear-gradient(90deg,#352a87 0px,#352a87 0.5px,#3639a5 0.8px,#3046be 1.0px,#1d54d5 1.2px,#0562e0 1.5px,#036be1 1.8px,#137dd7 2.5px,#138ad3 3.0px,#069ece 3.8px,#09abbf 4.5px,#22b4ab 5.2px,#57bd8c 6.2px,#91bf73 7.2px,#a9be69 8.0px,#bbbd62 9.2px,#b9bd63 10.5px,#a5be6b 11.8px,#91bf73 12.2px,#3ab99c 13.2px,#18b1b3 13.8px,#0badbc 14.0px,#06a1cd 14.5px,#1483d5 15.2px,#0266e1 16.0px,#0860e0 16.2px,#0267e1 16.5px,#117ada 18.0px,#1079da 19.8px,#0269e1 21.0px,#0363e1 21.2px,#115bdc 21.5px,#264fcd 21.8px,#3244ba 22.0px,#362f90 22.5px,#352a87 22.8px,#352a87 23.00px)"></i>
<i style="top:110px;left:123px;width:23px;background:linear-gradient(90deg,#352a87 0px,#352a87 0.5px,#3243b8 1.0px,#2350d0 1.2px,#0a5fdf 1.5px,#0268e1 1.8px,#1481d5 2.8px,#06a1cc 4.0px,#0cadbc 4.8px,#35b8a0 5.8px,#8bbf75 7.2px,#a6be6a 8.0px,#babd63 9.2px,#babd62 10.5px,#a8be6a 11.8px,#9bbf6f 12.2px,#48bb95 13.2px,#22b4ac 13.8px,#09abbf 14.2px,#069fce 14.8px,#1481d6 15.5px,#0363e1 16.2px,#0f78db 17.8px,#127bd9 19.2px,#056ee0 20.8px,#0363e1 21.2px,#115bdc 21.5px,#264fcd 21.8px,#3244ba 22.0px,#362f90 22.5px,#352a87 22.8px,#352a87 23.00px)"></i>
<i style="top:111px;left:123px;width:23px;background:linear-gradient(90deg,#352a87 0px,#352a87 0.5px,#363398 0.8px,#3440b2 1.0px,#294cca 1.2px,#105bdd 1.5px,#0266e1 1.8px,#1480d6 2.8px,#06a4c9 4.2px,#09acbe 4.8px,#2fb7a3 5.8px,#91bf73 7.5px,#a9be69 8.2px,#babd62 9.5px,#b9bd63 10.8px,#a5be6b 12.0px,#95bf71 12.5px,#40ba99 13.5px,#0faeb9 14.2px,#07a9c2 14.5px,#079ccf 15.0px,#1388d3 15.5px,#0e76dc 16.0px,#046de0 16.2px,#0267e1 16.5px,#117ada 18.0px,#1079da 19.8px,#0269e1 21.0px,#0363e1 21.2px,#115bdc 21.5px,#264fcd 21.8px,#3244ba 22.0px,#362f90 22.5px,#352a87 22.8px,#352a87 23.00px)"></i>
<i style="top:112px;left:123px;width:23px;background:linear-gradient(90deg,#352a87 0px,#352a87 0.5px,#362f91 0.8px,#353dac 1.0px,#2d49c4 1.2px,#1757d9 1.5px,#0364e1 1.8px,#1484d4 3.0px,#06a3cb 4.2px,#0daeba 5.0px,#36b99f 6.0px,#8bbf75 7.5px,#a6be6b 8.2px,#b9bd63 9.5px,#babd62 10.8px,#a8be69 12.0px,#9cbf6f 12.5px,#79bf7d 13.0px,#27b6a8 14.0px,#0cadbc 14.5px,#06a2cc 15.0px,#1486d4 15.8px,#0c74dd 16.2px,#036be1 16.5px,#127cd8 18.5px,#0c74dd 20.2px,#0269e1 21.0px,#0363e1 21.2px,#115bdc 21.5px,#264fcd 21.8px,#3244ba 22.0px,#362f90 22.5px,#352a87 22.8px,#352a87 23.00px)"></i>
<i style="top:113px;left:123px;width:23px;background:linear-gradient(90deg,#352a87 0px,#352a87 0.5px,#352c8a 0.8px,#363aa6 1.0px,#3046be 1.2px,#1f53d4 1.5px,#0661e0 1.8px,#026ae1 2.0px,#1482d5 3.0px,#06a1cc 4.2px,#0bacbd 5.0px,#31b8a2 6.0px,#84bf78 7.5px,#a2be6c 8.2px,#babd63 9.8px,#b7bd64 11.2px,#a0be6d 12.5px,#98bf70 12.8px,#46bb95 13.8px,#14b0b5 14.5px,#09abbe 14.8px,#0997d1 15.5px,#1483d4 16.0px,#046ce0 16.8px,#117bd9 18.2px,#0e77db 20.0px,#0269e1 21.0px,#0363e1 21.2px,#115bdc 21.5px,#264fcd 21.8px,#3244ba 22.0px,#362f90 22.5px,#352a87 22.8px,#352a87 23.00px)"></i>
<i style="top:114px;left:123px;width:23px;background:linear-gradient(90deg,#352a87 0px,#352a87 0.8px,#3243b8 1.2px,#2450cf 1.5px,#0c5ede 1.8px,#0268e1 2.0px,#1480d6 3.0px,#06a4ca 4.5px,#0faeb9 5.2px,#38b99e 6.2px,#8bbf75 7.8px,#9fbe6d 8.2px,#b6bd64 9.5px,#bbbd62 10.8px,#a9be69 12.2px,#9dbf6e 12.8px,#91bf73 13.0px,#2db7a4 14.2px,#10afb8 14.8px,#07aac1 15.0px,#0b95d2 15.8px,#1481d5 16.2px,#0871df 16.8px,#127cd8 18.8px,#0c74dd 20.2px,#0269e1 21.0px,#0363e1 21.2px,#115bdc 21.5px,#264fcd 21.8px,#3244ba 22.0px,#362f90 22.5px,#352a87 22.8px,#352a87 23.00px)"></i>
<i style="top:115px;left:123px;width:23px;background:linear-gradient(90deg,#352a87 0px,#352a87 0.8px,#3440b2 1.2px,#294cc9 1.5px,#115adc 1.8px,#0265e1 2.0px,#137ed7 3.0px,#138ad3 3.5px,#079dcf 4.2px,#07aac1 5.0px,#27b5a8 6.0px,#84bf78 7.8px,#a2be6c 8.5px,#b7bd64 9.8px,#babd62 11.0px,#acbe68 12.2px,#99bf6f 13.0px,#76bf7e 13.5px,#27b6a8 14.5px,#0dadbb 15.0px,#06a8c3 15.2px,#079cd0 15.8px,#1388d3 16.2px,#0f77db 16.8px,#0770df 17.0px,#127cd8 18.5px,#0c74dd 20.2px,#0269e1 21.0px,#0363e1 21.2px,#115bdc 21.5px,#264fcd 21.8px,#3244ba 22.0px,#362f90 22.5px,#352a87 22.8px,#352a87 23.00px)"></i>
<i style="top:116px;left:122px;width:24px;background:linear-gradient(90deg,#352a87 0px,#352a87 0.2px,#352d8c 1.8px,#363093 2.0px,#353dad 2.2px,#2d49c4 2.5px,#1957d8 2.8px,#0363e1 3.0px,#0971de 3.5px,#1482d5 4.2px,#06a1cd 5.5px,#0aacbe 6.2px,#2db7a4 7.2px,#8bbf75 9.0px,#9ebe6e 9.5px,#b5bd64 10.8px,#babd62 12.0px,#aebe67 13.2px,#94bf71 14.2px,#45bb96 15.2px,#14b0b5 16.0px,#06a7c6 16.5px,#0899d1 17.0px,#1486d4 17.5px,#0d75dc 18.0px,#0d76dc 18.5px,#127cd8 20.0px,#0971de 21.5px,#0363e1 22.2px,#115bdc 22.5px,#264fcd 22.8px,#3244ba 23.0px,#362f90 23.5px,#352a87 23.8px,#352a87 24.00px)"></i>
<i style="top:117px;left:122px;width:24px;background:linear-gradient(90deg,#352a87 0px,#352a87 0.2px,#363296 2.0px,#3046be 2.5px,#2053d4 2.8px,#0860df 3.0px,#0269e1 3.2px,#1480d6 4.2px,#06a3ca 5.8px,#0daeba 6.5px,#34b8a0 7.5px,#91bf73 9.2px,#acbe68 10.2px,#babd62 11.8px,#b0bd66 13.2px,#9abf6f 14.2px,#7bbf7c 14.8px,#2db7a5 15.8px,#11afb8 16.2px,#08aac0 16.5px,#069fce 17.0px,#1484d4 17.8px,#0b74dd 18.2px,#127cd8 20.0px,#0971de 21.5px,#0363e1 22.2px,#115bdc 22.5px,#264fcd 22.8px,#3244ba 23.0px,#362f90 23.5px,#352a87 23.8px,#352a87 24.00px)"></i>
<i style="top:118px;left:122px;width:24px;background:linear-gradient(90deg,#352a87 0px,#352a87 0.5px,#3637a2 2.2px,#3243b8 2.5px,#254fce 2.8px,#0d5dde 3.0px,#0267e1 3.2px,#137ed7 4.2px,#138ad3 4.8px,#079dcf 5.5px,#0bacbd 6.5px,#2fb7a3 7.5px,#8bbf75 9.2px,#a4be6b 10.0px,#b9bd63 11.5px,#b5bd65 13.0px,#97bf70 14.5px,#4abc93 15.5px,#19b2b2 16.2px,#07a9c3 16.8px,#079dcf 17.2px,#1482d5 18.0px,#0d76dc 18.5px,#127cd8 20.0px,#0971de 21.5px,#0363e1 22.2px,#115bdc 22.5px,#264fcd 22.8px,#3244ba 23.0px,#362f90 23.5px,#352a87 23.8px,#352a87 24.00px)"></i>
<i style="top:119px;left:122px;width:24px;background:linear-gradient(90deg,#352a87 0px,#352a87 0.5px,#353ba9 2.0px,#3440b3 2.5px,#2a4cc9 2.8px,#135adb 3.0px,#0364e1 3.2px,#1482d5 4.5px,#06a0cd 5.8px,#09abbf 6.5px,#20b4ad 7.2px,#5cbe8a 8.5px,#90bf73 9.5px,#a6be6a 10.2px,#b7bd63 11.5px,#b8bd63 12.8px,#a2be6c 14.2px,#91bf73 14.8px,#32b8a1 16.0px,#0aacbd 16.8px,#06a2cb 17.2px,#1480d6 18.2px,#1078da 18.5px,#117ad9 20.5px,#0269e1 22.0px,#0363e1 22.2px,#115bdc 22.5px,#264fcd 22.8px,#3244ba 23.0px,#362f90 23.5px,#352a87 23.8px,#352a87 24.00px)"></i>
<i style="top:120px;left:122px;width:24px;background:linear-gradient(90deg,#352a87 0px,#352a87 0.5px,#363195 1.0px,#343fb1 2.0px,#3243b9 2.5px,#2d49c3 2.8px,#1a56d7 3.0px,#0462e0 3.2px,#026ae1 3.5px,#1480d6 4.5px,#06a3cb 6.0px,#0cadbc 6.8px,#30b7a3 7.8px,#7ebf7b 9.2px,#96bf71 9.8px,#b4bd65 11.2px,#b8bd63 12.8px,#aabe69 14.0px,#98bf70 14.8px,#77bf7d 15.2px,#2cb7a5 16.2px,#11afb7 16.8px,#06a6c7 17.2px,#0f8fd2 18.0px,#137ed7 18.5px,#0f78db 18.8px,#127bd9 20.2px,#056ee0 21.8px,#0363e1 22.2px,#115bdc 22.5px,#264fcd 22.8px,#3244ba 23.0px,#362f90 23.5px,#352a87 23.8px,#352a87 24.00px)"></i>
<i style="top:121px;left:122px;width:24px;background:linear-gradient(90deg,#352a87 0px,#352a87 0.5px,#352c8a 0.8px,#3440b3 1.8px,#2b4bc7 2.8px,#2152d3 3.0px,#095fdf 3.2px,#0268e1 3.5px,#137fd7 4.5px,#0f90d2 5.2px,#06a1cc 6.0px,#0aacbe 6.8px,#2bb6a6 7.8px,#84bf78 9.5px,#a0be6d 10.2px,#b5bd65 11.5px,#b7bd64 13.0px,#a7be6a 14.2px,#94bf72 15.0px,#37b99e 16.2px,#0eaeba 17.0px,#06a4c9 17.5px,#0a96d1 18.0px,#1484d4 18.5px,#117ada 19.0px,#1079da 20.8px,#0269e1 22.0px,#0363e1 22.2px,#115bdc 22.5px,#264fcd 22.8px,#3244ba 23.0px,#362f90 23.5px,#352a87 23.8px,#352a87 24.00px)"></i>
<i style="top:122px;left:122px;width:24px;background:linear-gradient(90deg,#352a87 0px,#352a87 0.8px,#3341b5 1.8px,#264ecc 2.8px,#244fcf 3.0px,#0e5cde 3.2px,#0266e1 3.5px,#1482d5 4.8px,#06a4ca 6.2px,#0daebb 7.0px,#31b8a2 8.0px,#8abf76 9.8px,#9dbf6e 10.2px,#b5bd64 11.8px,#b8bd63 13.0px,#aabe69 14.2px,#99bf70 15.0px,#7cbf7c 15.5px,#31b8a2 16.5px,#0badbc 17.2px,#06a3cb 17.8px,#1482d5 18.8px,#117bd9 19.0px,#0e77db 21.0px,#0269e1 22.0px,#0363e1 22.2px,#115bdc 22.5px,#264fcd 22.8px,#3244ba 23.0px,#362f90 23.5px,#352a87 23.8px,#352a87 24.00px)"></i>
<i style="top:123px;left:122px;width:24px;background:linear-gradient(90deg,#352a87 0px,#352a87 0.8px,#3144bb 2.0px,#274ecc 2.8px,#254fce 3.0px,#0364e1 3.5px,#0871de 4.0px,#1481d6 4.8px,#06a2cb 6.2px,#0bacbd 7.0px,#2db7a5 8.0px,#90bf73 10.0px,#aebe67 11.2px,#b8bd63 12.5px,#b0bd66 14.0px,#96bf71 15.2px,#4ebc91 16.2px,#1eb3ae 17.0px,#09abbf 17.5px,#089ad0 18.2px,#1480d6 19.0px,#127cd8 19.5px,#0c74dd 21.2px,#0269e1 22.0px,#0363e1 22.2px,#115bdc 22.5px,#264fcd 22.8px,#3244ba 23.0px,#362f90 23.5px,#352a87 23.8px,#352a87 24.00px)"></i>
<i style="top:124px;left:122px;width:24px;background:linear-gradient(90deg,#352a87 0px,#352a87 0.8px,#36349b 1.2px,#2f47c1 2.2px,#254fce 3.0px,#1c55d6 3.2px,#0661e0 3.5px,#0269e1 3.8px,#137fd7 4.8px,#0f90d2 5.5px,#06a1cd 6.2px,#09abbf 7.0px,#28b6a8 8.0px,#8abf76 10.0px,#a2be6c 10.8px,#b7bd64 12.2px,#b4bd65 13.8px,#9abf6f 15.2px,#90bf73 15.5px,#36b99f 16.8px,#0eaeba 17.5px,#06a5c8 18.0px,#0998d1 18.5px,#1486d3 19.0px,#1078da 19.5px,#0971de 21.2px,#0266e1 22.0px,#0860df 22.2px,#1957d8 22.5px,#2a4cc9 22.8px,#3638a4 23.2px,#362e8f 23.5px,#352a87 23.8px,#352a87 24.00px)"></i>
<i style="top:125px;left:123px;width:23px;background:linear-gradient(90deg,#352a87 0px,#352a87 0.0px,#3341b5 1.0px,#264ecc 2.0px,#244fcf 2.2px,#105bdd 2.5px,#0265e1 2.8px,#1481d5 4.0px,#06a3cb 5.5px,#0badbc 6.2px,#38b99e 7.5px,#90bf73 9.2px,#a9be69 10.2px,#b8bd63 11.8px,#b0bd67 13.2px,#97bf71 14.5px,#53bd8e 15.5px,#23b4ab 16.2px,#0cadbb 16.8px,#069ece 17.5px,#1486d4 18.2px,#0972de 19.0px,#0364e1 20.8px,#095fdf 21.0px,#254fce 21.5px,#343fb0 22.0px,#362e8e 22.5px,#352a87 22.8px,#352a87 23.00px)"></i>
<i style="top:126px;left:123px;width:23px;background:linear-gradient(90deg,#352a87 0px,#352a87 0.0px,#352b89 0.2px,#3342b6 1.2px,#264ecd 2.2px,#2351d0 2.5px,#0c5ede 2.8px,#0267e1 3.0px,#137ed7 4.0px,#108fd2 4.8px,#06a0cd 5.5px,#08abc0 6.2px,#27b5a8 7.2px,#7ebf7b 9.0px,#9cbf6e 9.8px,#b5bd65 11.2px,#b6bd64 12.8px,#a0be6d 14.2px,#92bf73 14.8px,#3dba9b 16.0px,#15b0b5 16.8px,#07a9c3 17.2px,#0997d1 18.0px,#1486d3 18.5px,#1078da 19.0px,#0269e1 19.5px,#0364e1 20.2px,#0f5cdd 20.8px,#2d48c3 21.5px,#36359c 22.2px,#362d8d 22.5px,#352a87 22.8px,#352a87 23.00px)"></i>
<i style="top:127px;left:123px;width:23px;background:linear-gradient(90deg,#352a87 0px,#352a87 0.2px,#352c8b 0.5px,#3242b7 1.5px,#264fcd 2.5px,#1f53d4 2.8px,#0860df 3.0px,#0268e1 3.2px,#137fd7 4.2px,#0e91d2 5.0px,#06a5c8 6.0px,#10afb8 6.8px,#37b99f 7.8px,#90bf73 9.5px,#a9be69 10.5px,#b7bd64 11.8px,#b3bd65 13.2px,#97bf70 14.8px,#6abe83 15.5px,#2ab6a6 16.5px,#0aacbd 17.2px,#069ece 18.0px,#1487d3 18.8px,#107ada 19.2px,#036be0 19.8px,#0561e0 20.0px,#1559da 20.2px,#2e47c1 21.2px,#363398 22.2px,#352d8c 22.5px,#352a87 22.8px,#352a87 23.00px)"></i>
<i style="top:128px;left:123px;width:23px;background:linear-gradient(90deg,#352a87 0px,#352a87 0.5px,#362d8d 0.8px,#3243b9 1.8px,#254fce 2.8px,#1a56d7 3.0px,#0462e1 3.2px,#0870df 3.8px,#1480d6 4.5px,#06a3cb 6.0px,#0cadbc 6.8px,#30b7a2 7.8px,#8bbf75 9.5px,#9cbf6e 10.0px,#b2bd66 11.2px,#b8bd63 12.5px,#aabe69 14.0px,#92bf72 15.0px,#35b8a0 16.5px,#09acbe 17.5px,#0997d1 18.5px,#1481d6 19.2px,#046de0 20.0px,#0364e1 20.2px,#1857d8 20.5px,#2f47c0 20.8px,#363194 22.2px,#352a87 22.8px,#352a87 23.00px)"></i>
<i style="top:129px;left:123px;width:23px;background:linear-gradient(90deg,#352a87 0px,#352a87 0.8px,#3244ba 2.0px,#254fce 3.0px,#0364e1 3.5px,#0972de 4.0px,#1482d5 4.8px,#06a4c9 6.2px,#0faeb9 7.0px,#41ba98 8.2px,#91bf73 9.8px,#aebe67 11.0px,#b8bd63 12.5px,#acbe68 14.0px,#97bf70 15.0px,#6ebf82 15.8px,#31b8a2 16.8px,#09abbf 17.8px,#0998d1 18.8px,#1482d5 19.5px,#0267e1 20.5px,#0f5cdd 20.8px,#2a4cc8 21.0px,#353eaf 21.2px,#3637a2 21.5px,#352a87 22.8px,#352a87 23.00px)"></i>
<i style="top:130px;left:124px;width:22px;background:linear-gradient(90deg,#352a87 0px,#352a87 0.0px,#3144bb 1.2px,#274ecc 2.0px,#254fce 2.2px,#0f5cdd 2.5px,#0266e1 2.8px,#137ed7 3.8px,#0f90d2 4.5px,#06a1cc 5.2px,#0aacbd 6.0px,#2eb7a4 7.0px,#8bbf75 8.8px,#9dbf6e 9.2px,#b5bd65 10.8px,#b6bd64 12.2px,#a1be6d 13.8px,#93bf72 14.2px,#3bb99c 15.8px,#0faeb9 16.8px,#06a7c5 17.2px,#0998d1 18.0px,#1482d5 18.8px,#0269e1 19.8px,#095fdf 20.0px,#2350d0 20.2px,#3243b8 20.5px,#36359e 20.8px,#362f90 21.0px,#352a87 21.8px,#352a87 22.00px)"></i>
<i style="top:131px;left:124px;width:22px;background:linear-gradient(90deg,#352a87 0px,#352a87 0.2px,#3341b4 1.2px,#274ecc 2.2px,#2350d0 2.5px,#0b5edf 2.8px,#0268e1 3.0px,#137fd6 4.0px,#0d92d2 4.8px,#06a3cb 5.5px,#0dadbb 6.2px,#33b8a0 7.2px,#91bf73 9.0px,#aabe69 10.0px,#b8bd63 11.5px,#b0bd66 13.0px,#97bf70 14.2px,#71bf80 15.0px,#2bb6a6 16.2px,#0eaeba 17.0px,#06a7c6 17.5px,#0e91d2 18.5px,#1483d5 19.0px,#0972de 19.8px,#036be1 20.0px,#0462e1 20.2px,#1c55d6 20.5px,#2f47c0 20.8px,#352c8b 21.2px,#352a87 21.8px,#352a87 22.00px)"></i>
<i style="top:132px;left:124px;width:22px;background:linear-gradient(90deg,#352a87 0px,#352a87 0.2px,#352b88 0.5px,#3341b6 1.5px,#1f53d4 2.8px,#0760e0 3.0px,#0269e1 3.2px,#1481d6 4.2px,#06a4c9 5.8px,#09abbe 6.2px,#2db7a5 7.2px,#8bbf75 9.0px,#a3be6c 9.8px,#b8bd63 11.5px,#b2bd66 13.0px,#94bf72 14.5px,#4ebc91 15.8px,#1eb3ae 16.8px,#08aac1 17.5px,#0998d1 18.5px,#1484d4 19.2px,#0a73dd 20.0px,#0265e1 20.5px,#135adb 20.8px,#2b4bc8 21.0px,#343fb0 21.2px,#363297 21.5px,#352a87 21.8px,#352a87 22.00px)"></i>
<i style="top:133px;left:124px;width:22px;background:linear-gradient(90deg,#352a87 0px,#352a87 0.5px,#352c8b 0.8px,#3342b7 1.8px,#264fcd 2.8px,#1a56d7 3.0px,#0363e1 3.2px,#0971de 3.8px,#1483d5 4.5px,#06a2cc 5.8px,#0badbc 6.5px,#32b8a2 7.5px,#85bf78 9.0px,#a0be6d 9.8px,#b6bd64 11.2px,#b5bd64 12.8px,#a4be6b 14.0px,#8ebf74 14.8px,#31b8a2 16.5px,#0cadbc 17.5px,#06a2cb 18.2px,#1484d4 19.5px,#0c74dd 20.2px,#0267e1 20.8px,#0c5dde 21.0px,#2450cf 21.2px,#3243b9 21.5px,#352a87 22.0px,#352a87 22.00px)"></i>
<i style="top:134px;left:124px;width:23px;background:linear-gradient(90deg,#352a87 0px,#352a87 0.8px,#352d8d 1.0px,#3243b8 2.0px,#254fce 3.0px,#1459db 3.2px,#0265e1 3.5px,#137ed7 4.5px,#0e92d2 5.2px,#06a3ca 6.0px,#08abc0 6.5px,#20b4ad 7.2px,#61be87 8.5px,#96bf71 9.5px,#afbe67 10.8px,#b8bd63 12.2px,#abbe69 13.8px,#94bf72 14.8px,#46bb96 16.2px,#1ab2b1 17.2px,#07a9c2 18.0px,#0998d1 19.0px,#1485d4 19.8px,#0d75dc 20.5px,#0269e1 21.0px,#0760e0 21.2px,#1e54d5 21.5px,#2f47c0 21.8px,#362f91 22.2px,#352a87 22.5px,#352a87 23.00px)"></i>
<i style="top:135px;left:125px;width:22px;background:linear-gradient(90deg,#352a87 0px,#352a87 0.0px,#3244ba 1.2px,#254fce 2.2px,#0e5cde 2.5px,#0267e1 2.8px,#1480d6 3.8px,#06a5c9 5.2px,#0aacbe 5.8px,#30b7a3 6.8px,#84bf78 8.2px,#9abf6f 8.8px,#b4bd65 10.2px,#b7bd64 11.8px,#a4be6b 13.2px,#8fbf74 14.0px,#35b89f 15.8px,#10afb9 16.8px,#06a8c3 17.2px,#0a97d1 18.2px,#1484d4 19.0px,#0c74dd 19.8px,#0268e1 20.2px,#0860df 20.5px,#1f53d4 20.8px,#2f47c0 21.0px,#362f91 21.5px,#352a87 21.8px,#352a87 22.00px)"></i>
<i style="top:136px;left:125px;width:22px;background:linear-gradient(90deg,#352a87 0px,#352a87 0.2px,#3340b4 1.2px,#2251d2 2.5px,#0860df 2.8px,#0269e1 3.0px,#1482d5 4.0px,#06a2cc 5.2px,#0cadbc 6.0px,#35b8a0 7.0px,#8abf76 8.5px,#9dbf6e 9.0px,#b5bd65 10.5px,#b6bd64 12.0px,#a6be6a 13.2px,#94bf71 14.0px,#30b7a2 16.0px,#0dadbb 17.0px,#06a3ca 17.8px,#108ed2 18.8px,#137dd8 19.5px,#0266e1 20.5px,#0f5cde 20.8px,#264fcd 21.0px,#3243b8 21.2px,#352a87 21.8px,#352a87 22.00px)"></i>
<i style="top:137px;left:125px;width:22px;background:linear-gradient(90deg,#352a87 0px,#352a87 0.2px,#352b88 0.5px,#3341b6 1.5px,#264ecd 2.5px,#1b55d7 2.8px,#0363e1 3.0px,#0972de 3.5px,#1484d4 4.2px,#06a3ca 5.5px,#0faeb9 6.2px,#3ab99d 7.2px,#90bf73 8.8px,#a9be69 9.8px,#b8bd63 11.2px,#b0bd66 12.8px,#98bf70 14.0px,#5cbe8a 15.2px,#2bb6a5 16.2px,#0aacbd 17.2px,#079dcf 18.2px,#1485d4 19.2px,#0870df 20.2px,#0363e1 20.8px,#1857d9 21.0px,#2c4ac6 21.2px,#363399 21.8px,#352a87 22.0px,#352a87 22.00px)"></i>
<i style="top:138px;left:125px;width:23px;background:linear-gradient(90deg,#352a87 0px,#352a87 0.5px,#352d8b 0.8px,#3242b8 1.8px,#264fcd 2.8px,#1359db 3.0px,#0265e1 3.2px,#137fd6 4.2px,#118cd2 4.8px,#06a0cd 5.5px,#0aacbd 6.2px,#32b8a1 7.2px,#89bf76 8.8px,#9cbf6e 9.2px,#b4bd65 10.8px,#b6bd64 12.2px,#a7be6a 13.5px,#95bf71 14.2px,#3dba9b 16.0px,#15b0b5 17.0px,#06a8c5 17.8px,#0b95d1 18.8px,#1483d5 19.5px,#0b74dd 20.2px,#0268e1 20.8px,#0a5fdf 21.0px,#2152d3 21.2px,#3046be 21.5px,#362f90 22.0px,#352a87 22.2px,#352a87 23.00px)"></i>
<i style="top:139px;left:125px;width:23px;background:linear-gradient(90deg,#352a87 0px,#352a87 0.8px,#3243ba 2.0px,#254fce 3.0px,#0d5dde 3.2px,#0268e1 3.5px,#1481d5 4.5px,#06a2cc 5.8px,#07aac1 6.2px,#1fb4ad 7.0px,#54bd8e 8.0px,#8fbf74 9.0px,#a4be6b 9.8px,#b5bd64 11.0px,#b5bd64 12.5px,#9fbe6d 14.0px,#84bf78 14.8px,#2cb7a5 16.5px,#0bacbd 17.5px,#069ece 18.5px,#1481d6 19.8px,#0265e1 21.0px,#115bdc 21.2px,#274ecc 21.5px,#3342b7 21.8px,#352a87 22.2px,#352a87 23.00px)"></i>
<i style="top:140px;left:126px;width:22px;background:linear-gradient(90deg,#352a87 0px,#352a87 0.0px,#3342b7 1.2px,#2c4ac6 2.0px,#2152d3 2.2px,#0760e0 2.5px,#026ae1 2.8px,#137dd8 3.5px,#138ad3 4.0px,#069ece 4.8px,#09abbf 5.5px,#24b5aa 6.2px,#6abe83 7.5px,#95bf71 8.2px,#afbe67 9.5px,#b8bd63 11.0px,#abbe68 12.5px,#95bf71 13.5px,#32b8a1 15.5px,#0eaeba 16.5px,#06a5c9 17.2px,#0a97d1 18.0px,#1484d4 18.8px,#0d75dc 19.5px,#0269e1 20.0px,#0562e0 20.2px,#1a56d7 20.5px,#2d49c4 20.8px,#363398 21.2px,#352a87 21.5px,#352a87 22.00px)"></i>
<i style="top:141px;left:126px;width:22px;background:linear-gradient(90deg,#352a87 0px,#352a87 0.0px,#352b87 0.2px,#343eaf 1.5px,#2e47c1 2.2px,#1a56d7 2.5px,#0363e1 2.8px,#0a73dd 3.2px,#1485d4 4.0px,#06a0cd 5.0px,#0badbd 5.8px,#35b8a0 6.8px,#8ebf74 8.2px,#a4be6b 9.0px,#b7bd64 10.5px,#b3bd65 12.0px,#9fbe6d 13.2px,#84bf78 14.0px,#2db7a4 15.8px,#0cadbc 16.8px,#06a3ca 17.5px,#108ed2 18.5px,#137dd8 19.2px,#0267e1 20.2px,#0b5ede 20.5px,#2251d1 20.8px,#3045bd 21.0px,#362e8f 21.5px,#352a87 21.8px,#352a87 22.00px)"></i>
<i style="top:142px;left:126px;width:22px;background:linear-gradient(90deg,#352a87 0px,#352a87 0.2px,#362f91 0.8px,#353cab 2.0px,#353dae 2.2px,#2b4bc7 2.5px,#125adc 2.8px,#0266e1 3.0px,#1481d6 4.0px,#108fd2 4.5px,#06a2cb 5.2px,#08aac0 5.8px,#21b4ac 6.5px,#58bd8c 7.5px,#94bf72 8.5px,#b2bd66 10.0px,#b7bd63 11.5px,#a7be6a 13.0px,#95bf71 13.8px,#29b6a7 16.0px,#09acbe 17.0px,#0998d1 18.2px,#1485d4 19.0px,#0e76dc 19.8px,#036be0 20.2px,#0364e1 20.5px,#135adb 20.8px,#284dca 21.0px,#3341b5 21.2px,#352a87 21.8px,#352a87 22.00px)"></i>
<i style="top:143px;left:126px;width:22px;background:linear-gradient(90deg,#352a87 0px,#352a87 0.5px,#3637a1 2.2px,#3341b4 2.5px,#264fcd 2.8px,#0b5edf 3.0px,#0268e1 3.2px,#1483d5 4.2px,#06a4ca 5.5px,#09acbe 6.0px,#26b5a9 6.8px,#5fbe89 7.8px,#97bf70 8.8px,#b0bd66 10.0px,#b8bd63 11.5px,#a9be69 13.0px,#90bf73 14.0px,#2eb7a3 16.0px,#0cadbb 17.0px,#06a0cd 18.0px,#1483d5 19.2px,#066fdf 20.2px,#0269e1 20.5px,#0761e0 20.8px,#1c55d6 21.0px,#2d48c3 21.2px,#353dae 21.5px,#363297 21.8px,#352a87 22.0px,#352a87 22.00px)"></i>
<i style="top:144px;left:126px;width:23px;background:linear-gradient(90deg,#352a87 0px,#352a87 0.8px,#363195 2.2px,#3636a0 2.5px,#3244bb 2.8px,#2053d3 3.0px,#0661e0 3.2px,#036be1 3.5px,#137ed7 4.2px,#128cd2 4.8px,#06a0cd 5.5px,#0cadbc 6.2px,#37b99e 7.2px,#92bf72 8.8px,#aabe69 9.8px,#b8bd63 11.2px,#afbe67 12.8px,#95bf71 14.0px,#40ba99 15.8px,#18b1b3 16.8px,#07a9c3 17.5px,#0899d1 18.5px,#1481d5 19.5px,#0266e1 20.8px,#0d5dde 21.0px,#2350d0 21.2px,#3145bc 21.5px,#362e8e 22.0px,#352a87 22.2px,#352a87 23.00px)"></i>
<i style="top:145px;left:127px;width:22px;background:linear-gradient(90deg,#352a87 0px,#352a87 0.0px,#352d8c 1.5px,#363aa6 1.8px,#2e47c1 2.0px,#1857d8 2.2px,#0364e1 2.5px,#0b74dd 3.0px,#1487d3 3.8px,#06a2cb 4.8px,#08abc0 5.2px,#23b4ab 6.0px,#5cbe8a 7.0px,#97bf71 8.0px,#b3bd65 9.5px,#b7bd64 11.0px,#a5be6b 12.5px,#90bf73 13.2px,#2fb7a3 15.2px,#0daebb 16.2px,#06a4c9 17.0px,#0a96d1 17.8px,#1484d4 18.5px,#0870df 19.5px,#0363e1 20.0px,#1558da 20.2px,#2a4cc9 20.5px,#36369e 21.0px,#352a87 21.2px,#352a87 22.00px)"></i>
<i style="top:146px;left:128px;width:21px;background:linear-gradient(90deg,#352a87 0px,#352a87 0.5px,#362f91 0.8px,#353eae 1.0px,#2a4cc9 1.2px,#0f5cdd 1.5px,#0267e1 1.8px,#1482d5 2.8px,#069fce 3.8px,#0aacbd 4.5px,#28b6a8 5.2px,#73bf7f 6.5px,#91bf73 7.0px,#aabe69 8.0px,#b8bd63 9.5px,#aebe67 11.0px,#9bbf6f 12.0px,#64be86 13.2px,#29b6a7 14.5px,#0aacbe 15.5px,#079ecf 16.5px,#1482d5 17.8px,#0267e1 19.0px,#0b5ede 19.2px,#2251d2 19.5px,#3046be 19.8px,#363092 20.2px,#352a87 20.5px,#352a87 21.00px)"></i>
<i style="top:147px;left:128px;width:21px;background:linear-gradient(90deg,#352a87 0px,#352a87 0.8px,#36349c 1.0px,#3242b8 1.2px,#2251d1 1.5px,#0760e0 1.8px,#036ae1 2.0px,#137ed7 2.8px,#118cd2 3.2px,#06a1cc 4.0px,#07aac1 4.5px,#21b4ac 5.2px,#5abd8b 6.2px,#95bf71 7.2px,#afbe67 8.5px,#b7bd64 10.0px,#abbe69 11.2px,#94bf72 12.2px,#40ba99 14.0px,#18b2b2 15.0px,#07a9c2 15.8px,#089ad0 16.8px,#1483d5 17.8px,#066edf 18.8px,#0268e1 19.0px,#0761e0 19.2px,#1c55d6 19.5px,#2d49c4 19.8px,#363399 20.2px,#352a87 20.5px,#352a87 21.00px)"></i>
<i style="top:148px;left:129px;width:20px;background:linear-gradient(90deg,#352a87 0px,#352a87 0.0px,#3639a5 0.2px,#2f47c1 0.5px,#1857d8 0.8px,#0364e1 1.0px,#046de0 1.2px,#1481d6 2.0px,#108fd2 2.5px,#06a3cb 3.2px,#09abbf 3.8px,#26b5a9 4.5px,#71bf80 5.8px,#8fbf74 6.2px,#a9be69 7.2px,#b6bd64 8.5px,#afbe67 10.0px,#94bf71 11.2px,#41ba98 13.0px,#12afb7 14.2px,#06a7c6 15.0px,#0b95d1 16.0px,#1484d4 16.8px,#0d75dc 17.5px,#036ae1 18.0px,#0363e1 18.2px,#1559da 18.5px,#294cc9 18.8px,#3341b5 19.0px,#352a87 19.5px,#352a87 20.00px)"></i>
<i style="top:149px;left:129px;width:20px;background:linear-gradient(90deg,#352a87 0px,#352a87 0.0px,#362f91 0.2px,#353eaf 0.5px,#294cc9 0.8px,#0e5cde 1.0px,#0268e1 1.2px,#1483d5 2.2px,#06a0cd 3.2px,#0badbc 4.0px,#38b99d 5.0px,#87bf77 6.2px,#9bbf6f 6.8px,#b1bd66 8.0px,#b5bd64 9.2px,#a7be6a 10.5px,#8bbf75 11.5px,#2db7a4 13.5px,#0dadbb 14.5px,#06a4c9 15.2px,#0e91d2 16.2px,#1480d6 17.0px,#0265e1 18.2px,#0f5cde 18.5px,#254fcf 18.8px,#3144bb 19.0px,#362e8f 19.5px,#352a87 19.8px,#352a87 20.00px)"></i>
<i style="top:150px;left:129px;width:20px;background:linear-gradient(90deg,#352a87 0px,#352a87 0.2px,#36359c 0.5px,#3243b8 0.8px,#2152d2 1.0px,#0661e0 1.2px,#036be1 1.5px,#137fd7 2.2px,#118dd2 2.8px,#06a2cc 3.5px,#08aac0 4.0px,#23b5ab 4.8px,#5fbe89 5.8px,#8ebf74 6.5px,#a8be6a 7.5px,#b5bd65 8.8px,#abbe68 10.2px,#95bf71 11.2px,#5dbe8a 12.5px,#25b5a9 13.8px,#09abbf 14.8px,#0998d1 16.0px,#1486d3 16.8px,#0a73de 17.8px,#0267e1 18.2px,#0a5fdf 18.5px,#2053d4 18.8px,#2f47c1 19.0px,#363296 19.5px,#352a87 19.8px,#352a87 20.00px)"></i>
<i style="top:151px;left:129px;width:20px;background:linear-gradient(90deg,#352a87 0px,#352a87 0.5px,#3639a6 0.8px,#2e47c1 1.0px,#1757d9 1.2px,#0265e1 1.5px,#1481d5 2.5px,#06a4ca 3.8px,#0aacbe 4.2px,#36b99f 5.2px,#86bf78 6.5px,#9abf6f 7.0px,#b0bd66 8.2px,#b3bd65 9.5px,#a3be6c 10.8px,#8dbf74 11.5px,#30b7a2 13.5px,#0faeb9 14.5px,#07a9c3 15.0px,#0899d1 16.0px,#1482d5 17.0px,#066fdf 18.0px,#0269e1 18.2px,#0661e0 18.5px,#1956d8 18.8px,#2c4ac6 19.0px,#36359d 19.5px,#352a87 19.8px,#352a87 20.00px)"></i>
<i style="top:152px;left:129px;width:20px;background:linear-gradient(90deg,#352a87 0px,#352a87 0.5px,#363091 0.8px,#343eaf 1.0px,#294dca 1.2px,#0d5dde 1.5px,#0268e1 1.8px,#137dd8 2.5px,#128bd2 3.0px,#06a1cd 3.8px,#07aac1 4.2px,#21b4ac 5.0px,#5cbe8a 6.0px,#8cbf75 6.8px,#a7be6a 7.8px,#b3bd65 8.8px,#afbe67 10.0px,#96bf71 11.2px,#6cbf82 12.2px,#28b6a8 13.8px,#0aacbe 14.8px,#069fce 15.8px,#1483d4 17.0px,#0d75dc 17.8px,#036ae1 18.2px,#0364e1 18.5px,#135adb 18.8px,#274dcb 19.0px,#3243b8 19.2px,#352d8c 19.8px,#352a87 20.0px,#352a87 20.00px)"></i>
<i style="top:153px;left:129px;width:20px;background:linear-gradient(90deg,#352a87 0px,#352a87 0.8px,#36359c 1.0px,#3243b9 1.2px,#2152d3 1.5px,#0562e0 1.8px,#036be0 2.0px,#1480d6 2.8px,#108ed2 3.2px,#06a3cb 4.0px,#09abbf 4.5px,#26b5a9 5.2px,#63be86 6.2px,#91bf73 7.0px,#adbe68 8.2px,#b2bd66 9.5px,#a3be6b 10.8px,#85bf78 11.8px,#29b6a7 13.8px,#0bacbd 14.8px,#069fce 15.8px,#1485d4 17.0px,#0971de 18.0px,#0266e1 18.5px,#0d5dde 18.8px,#2351d1 19.0px,#3046be 19.2px,#363194 19.8px,#352a87 20.0px,#352a87 20.00px)"></i>
<i style="top:154px;left:130px;width:19px;background:linear-gradient(90deg,#352a87 0px,#352a87 0.0px,#363aa6 0.2px,#2e48c2 0.5px,#1658da 0.8px,#0265e1 1.0px,#1482d5 2.0px,#069fce 3.0px,#0badbc 3.8px,#2cb7a5 4.5px,#8abf76 6.0px,#a6be6a 7.0px,#b1bd66 8.0px,#acbe68 9.2px,#98bf70 10.2px,#6fbf81 11.2px,#2bb6a6 12.8px,#0cadbc 13.8px,#06a0cd 14.8px,#1481d6 16.2px,#0267e1 17.5px,#095fdf 17.8px,#1d54d5 18.0px,#2d49c3 18.2px,#36349a 18.8px,#352a87 19.0px,#352a87 19.00px)"></i>
<i style="top:155px;left:130px;width:20px;background:linear-gradient(90deg,#352a87 0px,#352a87 0.0px,#363092 0.2px,#343eb0 0.5px,#284dcb 0.8px,#0c5ede 1.0px,#0269e1 1.2px,#137ed7 2.0px,#118cd2 2.5px,#06a2cc 3.2px,#08aac0 3.8px,#24b5aa 4.5px,#61be88 5.5px,#8fbf74 6.2px,#a8be6a 7.2px,#b1bd66 8.2px,#acbe68 9.2px,#98bf70 10.2px,#70bf81 11.2px,#2cb7a5 12.8px,#0dadbb 13.8px,#06a5c9 14.5px,#0d92d2 15.5px,#1482d5 16.2px,#066fdf 17.2px,#0462e1 17.8px,#1758d9 18.0px,#2a4cc9 18.2px,#3637a1 18.8px,#352b89 19.0px,#352a87 19.2px,#352a87 20.00px)"></i>
<i style="top:156px;left:130px;width:20px;background:linear-gradient(90deg,#352a87 0px,#352a87 0.2px,#36359c 0.5px,#3243b9 0.8px,#2053d4 1.0px,#0462e1 1.2px,#046ce0 1.5px,#1480d6 2.2px,#0f8fd2 2.8px,#069ece 3.2px,#0aacbe 4.0px,#2ab6a7 4.8px,#89bf76 6.2px,#a6be6b 7.2px,#b1bd66 8.5px,#a5be6b 9.8px,#88bf77 10.8px,#2db7a4 12.8px,#0eaeba 13.8px,#06a5c8 14.5px,#0c94d2 15.5px,#1483d5 16.2px,#0870df 17.2px,#0364e1 17.8px,#115bdd 18.0px,#254fce 18.2px,#3144bb 18.5px,#362f91 19.0px,#352a87 19.2px,#352a87 20.00px)"></i>
<i style="top:157px;left:130px;width:20px;background:linear-gradient(90deg,#352a87 0px,#352a87 0.5px,#363aa7 0.8px,#2e48c3 1.0px,#1559da 1.2px,#0266e1 1.5px,#1483d5 2.5px,#06a0cd 3.5px,#07aac2 4.0px,#22b4ab 4.8px,#5fbe89 5.8px,#8ebf74 6.5px,#a7be6a 7.5px,#b0bd66 8.5px,#a9be69 9.5px,#92bf72 10.5px,#25b5a9 13.0px,#09acbe 14.0px,#089ad0 15.2px,#1484d4 16.2px,#0971de 17.2px,#0266e1 17.8px,#0c5ede 18.0px,#2152d3 18.2px,#2f47c0 18.5px,#363398 19.0px,#352a87 19.2px,#352a87 20.00px)"></i>
<i style="top:158px;left:130px;width:20px;background:linear-gradient(90deg,#352a87 0px,#352a87 0.5px,#363092 0.8px,#343fb0 1.0px,#274ecc 1.2px,#0b5edf 1.5px,#0269e1 1.8px,#137fd7 2.5px,#118dd2 3.0px,#06a2cb 3.8px,#09abbf 4.2px,#27b6a8 5.0px,#87bf77 6.5px,#a5be6b 7.5px,#afbe67 8.8px,#a0be6d 10.0px,#89bf76 10.8px,#30b7a3 12.8px,#10afb9 13.8px,#06a6c6 14.5px,#0a96d1 15.5px,#1480d6 16.5px,#0268e1 17.8px,#0760e0 18.0px,#1b55d7 18.2px,#2c4ac6 18.5px,#36369e 19.0px,#352a87 19.2px,#352a87 20.00px)"></i>
<i style="top:159px;left:130px;width:20px;background:linear-gradient(90deg,#352a87 0px,#352a87 0.8px,#36359d 1.0px,#3244ba 1.2px,#1f53d4 1.5px,#0363e1 1.8px,#0b74dd 2.2px,#1481d6 2.8px,#06a4c9 4.0px,#0cadbc 4.5px,#2db7a5 5.2px,#8cbf75 6.8px,#a7be6a 7.8px,#afbe67 8.8px,#a6be6a 9.8px,#8abf76 10.8px,#31b8a2 12.8px,#0bacbd 14.0px,#06a0cd 15.0px,#1482d5 16.5px,#066fdf 17.5px,#0363e1 18.0px,#1559da 18.2px,#284dcb 18.5px,#3639a4 19.0px,#362e8e 19.2px,#352a87 19.5px,#352a87 20.00px)"></i>
<i style="top:160px;left:131px;width:19px;background:linear-gradient(90deg,#352a87 0px,#352a87 0.0px,#363aa7 0.2px,#2d49c3 0.5px,#135adb 0.8px,#0266e1 1.0px,#1484d4 2.0px,#06a1cc 3.0px,#08aac0 3.5px,#25b5a9 4.2px,#85bf78 5.8px,#9fbe6d 6.5px,#aebe67 7.8px,#a6be6a 8.8px,#8bbf75 9.8px,#29b6a7 12.0px,#0cadbc 13.0px,#06a1cc 14.0px,#1483d5 15.5px,#0870df 16.5px,#0365e1 17.0px,#0f5cde 17.2px,#2350d0 17.5px,#3046be 17.8px,#363195 18.2px,#352a87 18.5px,#352a87 19.00px)"></i>
<i style="top:161px;left:131px;width:19px;background:linear-gradient(90deg,#352a87 0px,#352a87 0.0px,#363092 0.2px,#343fb1 0.5px,#264ecd 0.8px,#0a5fdf 1.0px,#026ae1 1.2px,#137fd6 2.0px,#108ed2 2.5px,#06a3ca 3.2px,#0aacbd 3.8px,#2bb6a6 4.5px,#8bbf75 6.0px,#a6be6a 7.0px,#adbe68 8.0px,#a2be6c 9.0px,#82bf79 10.0px,#2bb6a6 12.0px,#08abc0 13.2px,#0899d1 14.5px,#1484d4 15.5px,#0971de 16.5px,#0266e1 17.0px,#0a5edf 17.2px,#1f53d4 17.5px,#2d48c3 17.8px,#36359c 18.2px,#352a87 18.5px,#352a87 19.00px)"></i>
<i style="top:162px;left:131px;width:19px;background:linear-gradient(90deg,#352a87 0px,#352a87 0.2px,#36359d 0.5px,#3144bb 0.8px,#1d54d5 1.0px,#0363e1 1.2px,#046de0 1.5px,#1482d5 2.2px,#06a0cd 3.2px,#07aac2 3.8px,#17b1b3 4.2px,#3fba99 5.0px,#83bf78 6.0px,#9ebe6e 6.8px,#acbe68 7.8px,#a7be6a 8.8px,#8dbf75 9.8px,#2cb7a5 12.0px,#09abbf 13.2px,#089ad0 14.5px,#1485d4 15.5px,#0a73de 16.5px,#0268e1 17.0px,#0661e0 17.2px,#1957d8 17.5px,#2a4bc8 17.8px,#3638a2 18.2px,#352d8c 18.5px,#352a87 18.8px,#352a87 19.00px)"></i>
<i style="top:163px;left:131px;width:19px;background:linear-gradient(90deg,#352a87 0px,#352a87 0.5px,#363aa7 0.8px,#2d49c4 1.0px,#125adc 1.2px,#0267e1 1.5px,#137dd7 2.2px,#118cd2 2.8px,#06a2cb 3.5px,#09abbf 4.0px,#28b6a7 4.8px,#89bf76 6.2px,#a5be6b 7.2px,#abbe68 8.2px,#9dbe6e 9.2px,#79bf7d 10.2px,#2db7a4 12.0px,#09acbe 13.2px,#079bd0 14.5px,#1486d4 15.5px,#0b74dd 16.5px,#026ae1 17.0px,#0363e1 17.2px,#135adb 17.5px,#264ecd 17.8px,#3144bb 18.0px,#363093 18.5px,#352a87 18.8px,#352a87 19.00px)"></i>
<i style="top:164px;left:131px;width:19px;background:linear-gradient(90deg,#352a87 0px,#352a87 0.5px,#363092 0.8px,#343fb1 1.0px,#264fcd 1.2px,#0960df 1.5px,#036ae1 1.8px,#1480d6 2.5px,#0f8fd2 3.0px,#069fce 3.5px,#0cadbc 4.2px,#2eb7a4 5.0px,#82bf79 6.2px,#9dbe6e 7.0px,#abbe69 8.0px,#a3be6c 9.0px,#8fbf74 9.8px,#38b99e 11.8px,#0faeb9 13.0px,#06a7c6 13.8px,#0a97d1 14.8px,#1482d5 15.8px,#0870df 16.8px,#0265e1 17.2px,#0d5dde 17.5px,#2251d2 17.8px,#2f47c0 18.0px,#363399 18.5px,#352a87 18.8px,#352a87 19.00px)"></i>
<i style="top:165px;left:131px;width:19px;background:linear-gradient(90deg,#352a87 0px,#352a87 0.8px,#36359d 1.0px,#3144bb 1.2px,#1c55d6 1.5px,#0364e1 1.8px,#1483d5 2.8px,#06a1cc 3.8px,#08aac0 4.2px,#26b5a9 5.0px,#88bf77 6.5px,#a5be6b 7.5px,#a9be69 8.5px,#9fbe6d 9.2px,#7bbf7c 10.2px,#2fb7a3 12.0px,#0bacbd 13.2px,#06a1cd 14.2px,#1483d5 15.8px,#0971de 16.8px,#0267e1 17.2px,#095fdf 17.5px,#1d55d6 17.8px,#2c4ac5 18.0px,#36369f 18.5px,#352b89 18.8px,#352a87 19.0px,#352a87 19.00px)"></i>
<i style="top:166px;left:132px;width:18px;background:linear-gradient(90deg,#352a87 0px,#352a87 0.0px,#353aa8 0.2px,#2c49c5 0.5px,#105bdd 0.8px,#0268e1 1.0px,#137ed7 1.8px,#118dd2 2.2px,#079dcf 2.8px,#0aacbd 3.5px,#2cb7a5 4.2px,#80bf7a 5.5px,#9cbf6e 6.2px,#a8be69 7.0px,#a4be6b 8.0px,#91bf73 8.8px,#31b8a2 11.0px,#0cadbc 12.2px,#06a1cc 13.2px,#108ed2 14.2px,#127bd9 15.2px,#0268e1 16.2px,#0562e0 16.5px,#1758d9 16.8px,#294cca 17.0px,#3639a5 17.5px,#362f90 17.8px,#352a87 18.0px,#352a87 18.00px)"></i>
<i style="top:167px;left:132px;width:18px;background:linear-gradient(90deg,#352a87 0px,#352a87 0.0px,#363092 0.2px,#3440b2 0.5px,#254fce 0.8px,#0760e0 1.0px,#036be0 1.2px,#1481d6 2.0px,#06a0cd 3.0px,#07aac1 3.5px,#24b5aa 4.2px,#65be86 5.2px,#86bf77 5.8px,#9fbe6d 6.5px,#a9be69 7.5px,#9abf6f 8.5px,#5cbe8a 10.0px,#29b6a7 11.2px,#0cadbb 12.2px,#06a2cb 13.2px,#1481d6 15.0px,#026ae1 16.2px,#0364e1 16.5px,#115bdc 16.8px,#2450cf 17.0px,#3045bd 17.2px,#363297 17.8px,#352a87 18.0px,#352a87 18.00px)"></i>
<i style="top:168px;left:132px;width:18px;background:linear-gradient(90deg,#352a87 0px,#352a87 0.2px,#36359e 0.5px,#3145bc 0.8px,#1b56d7 1.0px,#0365e1 1.2px,#1483d4 2.2px,#06a2cb 3.2px,#09abbf 3.8px,#2ab6a7 4.5px,#7ebf7b 5.8px,#9cbf6e 6.5px,#a8be6a 7.5px,#a0be6d 8.2px,#89bf76 9.0px,#2ab6a6 11.2px,#0daebb 12.2px,#06a6c7 13.0px,#0a96d1 14.0px,#1482d5 15.0px,#0870df 16.0px,#0265e1 16.5px,#0c5dde 16.8px,#2e48c2 17.2px,#36359d 17.8px,#352a87 18.0px,#352a87 18.00px)"></i>
<i style="top:169px;left:132px;width:19px;background:linear-gradient(90deg,#352a87 0px,#352a87 0.5px,#353ba8 0.8px,#2c4ac6 1.0px,#0f5cde 1.2px,#0268e1 1.5px,#137fd7 2.2px,#108fd2 2.8px,#069ece 3.2px,#0cadbc 4.0px,#30b7a3 4.8px,#84bf78 6.0px,#9ebe6d 6.8px,#a7be6a 7.5px,#a1be6c 8.2px,#8abf76 9.0px,#2bb6a6 11.2px,#09acbe 12.5px,#079cd0 13.8px,#1483d5 15.0px,#0971de 16.0px,#0267e1 16.5px,#0860df 16.8px,#1a56d7 17.0px,#2b4bc7 17.2px,#3638a3 17.8px,#362e8e 18.0px,#352a87 18.2px,#352a87 19.00px)"></i>
<i style="top:170px;left:132px;width:19px;background:linear-gradient(90deg,#352a87 0px,#352a87 0.5px,#363298 0.8px,#3342b7 1.0px,#2052d3 1.2px,#0363e1 1.5px,#046de0 1.8px,#127bd9 2.2px,#128ad3 2.8px,#06a1cc 3.5px,#09abbf 4.0px,#29b6a7 4.8px,#7ebf7b 6.0px,#9bbf6f 6.8px,#a6be6b 7.5px,#a0be6d 8.2px,#8abf76 9.0px,#2bb6a5 11.2px,#09acbe 12.5px,#0997d1 14.0px,#1483d5 15.0px,#0268e1 16.5px,#0661e0 16.8px,#1857d8 17.0px,#294cc9 17.2px,#3639a6 17.8px,#362f91 18.0px,#352a87 18.2px,#352a87 19.00px)"></i>
<i style="top:171px;left:132px;width:19px;background:linear-gradient(90deg,#352a87 0px,#352a87 0.5px,#352c89 0.8px,#353cac 1.0px,#294cc9 1.2px,#0c5ede 1.5px,#0269e1 1.8px,#1480d6 2.5px,#0f90d2 3.0px,#069fce 3.5px,#07a9c2 4.0px,#17b1b3 4.5px,#53bd8e 5.5px,#85bf78 6.2px,#9dbe6e 7.0px,#a4be6b 7.8px,#9abf6f 8.5px,#68be84 9.8px,#22b4ab 11.5px,#09abbe 12.5px,#079cd0 13.8px,#1483d5 15.0px,#0972de 16.0px,#0268e1 16.5px,#0761e0 16.8px,#1857d8 17.0px,#2a4cc9 17.2px,#3639a5 17.8px,#362f91 18.0px,#352a87 18.2px,#352a87 19.00px)"></i>
<i style="top:172px;left:132px;width:19px;background:linear-gradient(90deg,#352a87 0px,#352a87 0.8px,#3637a0 1.0px,#3046bf 1.2px,#1757d9 1.5px,#0266e1 1.8px,#137dd8 2.5px,#118cd2 3.0px,#06a3cb 3.8px,#0aacbd 4.2px,#2cb7a5 5.0px,#80bf7a 6.2px,#9abf6f 7.0px,#a1be6c 7.8px,#98bf70 8.5px,#72bf80 9.5px,#2ab6a6 11.2px,#0eaeba 12.2px,#06a3cb 13.2px,#0e92d2 14.2px,#1483d5 15.0px,#0972de 16.0px,#0267e1 16.5px,#0760e0 16.8px,#1956d8 17.0px,#2a4cc9 17.2px,#3639a5 17.8px,#362f90 18.0px,#352a87 18.2px,#352a87 19.00px)"></i>
<i style="top:173px;left:132px;width:19px;background:linear-gradient(90deg,#352a87 0px,#352a87 0.8px,#363194 1.0px,#3340b4 1.2px,#2351d0 1.5px,#0661e0 1.8px,#046ce0 2.0px,#1482d5 2.8px,#06a1cc 3.8px,#08abc0 4.2px,#1ab2b1 4.8px,#58bd8c 5.8px,#7bbf7c 6.2px,#96bf71 7.0px,#9fbe6d 7.8px,#97bf70 8.5px,#7cbf7c 9.2px,#32b8a1 11.0px,#0dadbb 12.2px,#06a6c7 13.0px,#0a97d1 14.0px,#1483d5 15.0px,#0971de 16.0px,#0267e1 16.5px,#0860e0 16.8px,#2a4bc8 17.2px,#3639a4 17.8px,#362f90 18.0px,#352a87 18.2px,#352a87 19.00px)"></i>
<i style="top:174px;left:133px;width:18px;background:linear-gradient(90deg,#352a87 0px,#352a87 0.0px,#353ba8 0.2px,#2c4ac6 0.5px,#0f5cde 0.8px,#0268e1 1.0px,#137fd7 1.8px,#108fd2 2.2px,#069fce 2.8px,#0cadbc 3.5px,#30b7a3 4.2px,#75bf7e 5.2px,#93bf72 6.0px,#9dbf6e 6.8px,#95bf71 7.5px,#7bbf7c 8.2px,#31b8a2 10.0px,#0dadbb 11.2px,#06a6c7 12.0px,#0a96d1 13.0px,#1482d5 14.0px,#0971de 15.0px,#0267e1 15.5px,#0860df 15.8px,#1a56d7 16.0px,#2b4bc8 16.2px,#3639a4 16.8px,#362f90 17.0px,#352a87 17.2px,#352a87 18.00px)"></i>
<i style="top:175px;left:133px;width:18px;background:linear-gradient(90deg,#352a87 0px,#352a87 0.0px,#36359d 0.2px,#3144bb 0.5px,#1b55d6 0.8px,#0364e1 1.0px,#1484d4 2.0px,#06a2cb 3.0px,#09acbe 3.5px,#2bb6a6 4.2px,#6fbf81 5.2px,#8fbf74 6.0px,#9abf6f 6.8px,#94bf72 7.5px,#7abf7c 8.2px,#30b7a2 10.0px,#0cadbb 11.2px,#06a2cb 12.2px,#0e91d2 13.2px,#1482d5 14.0px,#0871de 15.0px,#0267e1 15.5px,#0960df 15.8px,#1b56d7 16.0px,#2b4bc7 16.2px,#3638a4 16.8px,#362e8f 17.0px,#352a87 17.2px,#352a87 18.00px)"></i>
<i style="top:176px;left:133px;width:18px;background:linear-gradient(90deg,#352a87 0px,#352a87 0.0px,#362f90 0.2px,#343fb0 0.5px,#264fcd 0.8px,#0860df 1.0px,#036be1 1.2px,#1481d6 2.0px,#06a0cd 3.0px,#08aac1 3.5px,#19b2b2 4.0px,#55bd8d 5.0px,#77bf7e 5.5px,#91bf73 6.2px,#98bf70 7.0px,#8cbf75 7.8px,#62be87 8.8px,#27b5a8 10.2px,#0cadbc 11.2px,#06a2cb 12.2px,#1482d5 14.0px,#0267e1 15.5px,#095fdf 15.8px,#2b4bc7 16.2px,#3638a3 16.8px,#362e8f 17.0px,#352a87 17.2px,#352a87 18.00px)"></i>
<i style="top:177px;left:133px;width:18px;background:linear-gradient(90deg,#352a87 0px,#352a87 0.2px,#3639a5 0.5px,#2d48c3 0.8px,#125adc 1.0px,#0267e1 1.2px,#137ed7 2.0px,#118ed2 2.5px,#079ecf 3.0px,#06a8c3 3.5px,#15b0b5 4.0px,#3eba9a 4.8px,#72bf80 5.5px,#8ebf74 6.2px,#95bf71 7.0px,#8bbf75 7.8px,#61be88 8.8px,#26b5a9 10.2px,#08aac0 11.5px,#089ad0 12.8px,#1482d5 14.0px,#0266e1 15.5px,#095fdf 15.8px,#1c55d6 16.0px,#2c4ac6 16.2px,#3638a3 16.8px,#362e8f 17.0px,#352a87 17.2px,#352a87 18.00px)"></i>
<i style="top:178px;left:133px;width:18px;background:linear-gradient(90deg,#352a87 0px,#352a87 0.2px,#363399 0.5px,#3243b8 0.8px,#1f53d4 1.0px,#0363e1 1.2px,#046de0 1.5px,#127cd8 2.0px,#128bd3 2.5px,#06a2cc 3.2px,#09abbf 3.8px,#29b6a7 4.5px,#6cbf83 5.5px,#8abf76 6.2px,#93bf72 7.0px,#8abf76 7.8px,#60be88 8.8px,#25b5a9 10.2px,#0badbc 11.2px,#06a2cc 12.2px,#1481d5 14.0px,#0266e1 15.5px,#0a5fdf 15.8px,#1c55d6 16.0px,#2c4ac6 16.2px,#3638a3 16.8px,#362e8e 17.0px,#352a87 17.2px,#352a87 18.00px)"></i>
<i style="top:179px;left:133px;width:18px;background:linear-gradient(90deg,#352a87 0px,#352a87 0.2px,#352d8c 0.5px,#353dad 0.8px,#284dca 1.0px,#0b5edf 1.2px,#026ae1 1.5px,#1480d6 2.2px,#069fce 3.2px,#07aac2 3.8px,#18b1b3 4.2px,#42bb98 5.0px,#73bf7f 5.8px,#8cbf75 6.5px,#90bf73 7.2px,#81bf7a 8.0px,#36b99f 9.8px,#10afb8 11.0px,#06a7c5 11.8px,#0b95d2 13.0px,#1481d5 14.0px,#0870df 15.0px,#0266e1 15.5px,#0a5edf 15.8px,#2c4ac6 16.2px,#3638a2 16.8px,#362e8e 17.0px,#352a87 17.2px,#352a87 18.00px)"></i>
<i style="top:180px;left:133px;width:18px;background:linear-gradient(90deg,#352a87 0px,#352a87 0.5px,#3637a2 0.8px,#2f47c0 1.0px,#1658d9 1.2px,#0266e1 1.5px,#137dd7 2.2px,#118dd2 2.8px,#06a3ca 3.5px,#0aacbd 4.0px,#2db7a5 4.8px,#6ebf82 5.8px,#88bf76 6.5px,#8ebf74 7.2px,#7fbf7a 8.0px,#35b8a0 9.8px,#0faeb9 11.0px,#06a7c5 11.8px,#0c94d2 13.0px,#1481d6 14.0px,#0266e1 15.5px,#0b5edf 15.8px,#2c4ac5 16.2px,#3638a2 16.8px,#362e8e 17.0px,#352a87 17.2px,#352a87 18.00px)"></i>
<i style="top:181px;left:133px;width:18px;background:linear-gradient(90deg,#352a87 0px,#352a87 0.5px,#363195 0.8px,#3341b5 1.0px,#2251d1 1.2px,#0562e0 1.5px,#046ce0 1.8px,#1482d5 2.5px,#06a1cc 3.5px,#08abc0 4.0px,#27b6a8 4.8px,#68be84 5.8px,#85bf78 6.5px,#8bbf75 7.2px,#7ebf7b 8.0px,#34b8a0 9.8px,#0faeb9 11.0px,#06a7c6 11.8px,#0c94d2 13.0px,#1481d6 14.0px,#0265e1 15.5px,#0b5edf 15.8px,#2c49c5 16.2px,#3637a2 16.8px,#362d8d 17.0px,#352a87 17.2px,#352a87 18.00px)"></i>
<i style="top:182px;left:133px;width:18px;background:linear-gradient(90deg,#352a87 0px,#352a87 0.8px,#353baa 1.0px,#2b4bc7 1.2px,#0e5dde 1.5px,#0269e1 1.8px,#137fd6 2.5px,#108fd2 3.0px,#069fce 3.5px,#0cadbb 4.2px,#30b7a2 5.0px,#6fbf81 6.0px,#86bf77 6.8px,#87bf77 7.5px,#74bf7f 8.2px,#3cba9b 9.5px,#0eaeba 11.0px,#06a4ca 12.0px,#108fd2 13.2px,#127cd8 14.2px,#0265e1 15.5px,#0c5ede 15.8px,#2d49c4 16.2px,#3637a1 16.8px,#352d8d 17.0px,#352a87 17.2px,#352a87 18.00px)"></i>
<i style="top:183px;left:133px;width:18px;background:linear-gradient(90deg,#352a87 0px,#352a87 0.8px,#36369e 1.0px,#3045bd 1.2px,#1a56d7 1.5px,#0265e1 1.8px,#1484d4 2.8px,#06a2cb 3.8px,#09acbe 4.2px,#2bb6a6 5.0px,#6abe84 6.0px,#82bf79 6.8px,#85bf78 7.5px,#73bf80 8.2px,#45bb96 9.2px,#14b0b5 10.8px,#07a9c2 11.5px,#0998d1 12.8px,#1485d4 13.8px,#0c74dd 14.8px,#0265e1 15.5px,#0c5dde 15.8px,#2d49c4 16.2px,#3637a1 16.8px,#352d8c 17.0px,#352a87 17.2px,#352a87 18.00px)"></i>
<i style="top:184px;left:133px;width:18px;background:linear-gradient(90deg,#352a87 0px,#352a87 0.8px,#363092 1.0px,#343fb2 1.2px,#254fce 1.5px,#0760e0 1.8px,#036be0 2.0px,#1481d6 2.8px,#06a0cd 3.8px,#08aac1 4.2px,#19b2b2 4.8px,#44bb97 5.5px,#64be86 6.0px,#7fbf7a 6.8px,#83bf79 7.5px,#71bf80 8.2px,#3ab99c 9.5px,#0daeba 11.0px,#06a3ca 12.0px,#108ed2 13.2px,#127cd8 14.2px,#0265e1 15.5px,#0d5dde 15.8px,#2d49c4 16.2px,#3637a0 16.8px,#352d8c 17.0px,#352a87 17.2px,#352a87 18.00px)"></i>
<i style="top:185px;left:134px;width:17px;background:linear-gradient(90deg,#352a87 0px,#352a87 0.0px,#363aa6 0.2px,#2d49c4 0.5px,#115bdc 0.8px,#0268e1 1.0px,#137ed7 1.8px,#108ed2 2.2px,#06a4ca 3.0px,#0badbc 3.5px,#2eb7a3 4.2px,#6bbe83 5.2px,#7fbf7a 6.0px,#7ebf7b 6.8px,#65be86 7.5px,#39b99d 8.5px,#0dadbb 10.0px,#06a3ca 11.0px,#0d93d2 12.0px,#1480d6 13.0px,#0365e1 14.5px,#0d5dde 14.8px,#2d49c3 15.2px,#3637a0 15.8px,#352d8c 16.0px,#352a87 16.2px,#352a87 17.00px)"></i>
<i style="top:186px;left:134px;width:17px;background:linear-gradient(90deg,#352a87 0px,#352a87 0.0px,#36349b 0.2px,#3243b9 0.5px,#1e54d5 0.8px,#0364e1 1.0px,#1483d5 2.0px,#06a2cc 3.0px,#09abbf 3.5px,#29b6a7 4.2px,#66be85 5.2px,#7cbf7b 6.0px,#7cbf7c 6.8px,#64be86 7.5px,#38b99e 8.5px,#12afb7 9.8px,#06a6c7 10.8px,#0997d1 11.8px,#1484d4 12.8px,#0b73dd 13.8px,#0364e1 14.5px,#0d5dde 14.8px,#2152d3 15.0px,#343fb2 15.5px,#352c8b 16.0px,#352a87 16.2px,#352a87 17.00px)"></i>
<i style="top:187px;left:134px;width:17px;background:linear-gradient(90deg,#352a87 0px,#352a87 0.0px,#362e8d 0.2px,#353eae 0.5px,#274dcb 0.8px,#0a5fdf 1.0px,#036ae1 1.2px,#1480d6 2.0px,#06a0cd 3.0px,#07aac2 3.5px,#18b1b3 4.0px,#42bb98 4.8px,#60be88 5.2px,#78bf7d 6.0px,#7cbf7c 6.5px,#6dbf82 7.2px,#37b99e 8.5px,#0cadbc 10.0px,#06a3cb 11.0px,#0d92d2 12.0px,#1380d6 13.0px,#0364e1 14.5px,#0e5cde 14.8px,#2e48c2 15.2px,#36369f 15.8px,#352c8b 16.0px,#352a87 16.2px,#352a87 17.00px)"></i>
<i style="top:188px;left:134px;width:17px;background:linear-gradient(90deg,#352a87 0px,#352a87 0.2px,#3638a3 0.5px,#2e47c1 0.8px,#1459da 1.0px,#0266e1 1.2px,#137ed7 2.0px,#118dd2 2.5px,#06a3ca 3.2px,#0aacbd 3.8px,#2db7a5 4.5px,#5bbd8b 5.2px,#75bf7f 6.0px,#77bf7e 6.8px,#62be87 7.5px,#36b99f 8.5px,#11afb8 9.8px,#06a8c4 10.5px,#0a97d1 11.8px,#1483d4 12.8px,#0b73dd 13.8px,#026ae1 14.2px,#0364e1 14.5px,#0e5cde 14.8px,#2252d2 15.0px,#343fb1 15.5px,#352c8a 16.0px,#352a87 16.2px,#352a87 17.00px)"></i>
<i style="top:189px;left:134px;width:17px;background:linear-gradient(90deg,#352a87 0px,#352a87 0.2px,#363297 0.5px,#3342b6 0.8px,#2152d3 1.0px,#0462e1 1.2px,#046ce0 1.5px,#127bd9 2.0px,#138ad3 2.5px,#06a1cc 3.2px,#08abc0 3.8px,#28b6a8 4.5px,#61be88 5.5px,#75bf7f 6.2px,#71bf80 7.0px,#55bd8e 7.8px,#2db7a5 8.8px,#0badbc 10.0px,#069fce 11.2px,#1483d5 12.8px,#0a73dd 13.8px,#026ae1 14.2px,#0364e1 14.5px,#0f5cdd 14.8px,#2251d2 15.0px,#343fb1 15.5px,#352c8a 16.0px,#352a87 16.2px,#352a87 17.00px)"></i>
<i style="top:190px;left:134px;width:17px;background:linear-gradient(90deg,#352a87 0px,#352a87 0.2px,#352b89 0.5px,#353cab 0.8px,#2a4bc8 1.0px,#0d5dde 1.2px,#0269e1 1.5px,#1380d6 2.2px,#0f8fd2 2.8px,#069fce 3.2px,#07a9c2 3.8px,#16b1b3 4.2px,#5cbe8a 5.5px,#72bf80 6.2px,#6fbf81 7.0px,#54bd8e 7.8px,#2cb7a5 8.8px,#0bacbd 10.0px,#069ece 11.2px,#1483d5 12.8px,#0269e1 14.2px,#0364e1 14.5px,#0f5cdd 14.8px,#2251d1 15.0px,#343fb0 15.5px,#352c8a 16.0px,#352a87 16.2px,#352a87 17.00px)"></i>
<i style="top:191px;left:134px;width:17px;background:linear-gradient(90deg,#352a87 0px,#352a87 0.5px,#3636a0 0.8px,#3046be 1.0px,#1857d8 1.2px,#0265e1 1.5px,#137dd8 2.2px,#118cd2 2.8px,#06a3cb 3.5px,#0aacbe 4.0px,#2bb6a6 4.8px,#57bd8d 5.5px,#6ebf81 6.2px,#70bf81 6.8px,#5fbe89 7.5px,#33b8a1 8.5px,#0aacbd 10.0px,#069ece 11.2px,#1483d5 12.8px,#0269e1 14.2px,#0363e1 14.5px,#105bdd 14.8px,#2351d1 15.0px,#2f47c1 15.2px,#352b89 16.0px,#352a87 16.2px,#352a87 17.00px)"></i>
<i style="top:192px;left:134px;width:17px;background:linear-gradient(90deg,#352a87 0px,#352a87 0.5px,#363093 0.8px,#3440b3 1.0px,#2450d0 1.2px,#0661e0 1.5px,#036be0 1.8px,#1481d5 2.5px,#06a0cd 3.5px,#08aac1 4.0px,#26b5a9 4.8px,#5cbe8a 5.8px,#6abe83 6.2px,#6ebf82 6.8px,#66be85 7.2px,#32b8a1 8.5px,#0faeb9 9.8px,#06a7c5 10.5px,#0b95d2 11.8px,#1482d5 12.8px,#0269e1 14.2px,#0363e1 14.5px,#115bdd 14.8px,#2f47c0 15.2px,#352b89 16.0px,#352a87 16.2px,#352a87 17.00px)"></i>
<i style="top:193px;left:134px;width:17px;background:linear-gradient(90deg,#352a87 0px,#352a87 0.8px,#353aa8 1.0px,#2c4ac5 1.2px,#0f5cdd 1.5px,#0268e1 1.8px,#137fd7 2.5px,#108ed2 3.0px,#069ece 3.5px,#0cadbc 4.2px,#2fb7a3 5.0px,#57bd8c 5.8px,#67be85 6.2px,#69be84 7.0px,#52bd8f 7.8px,#31b8a2 8.5px,#0eaeba 9.8px,#06a4c9 10.8px,#0b95d2 11.8px,#1482d5 12.8px,#0269e1 14.2px,#0363e1 14.5px,#115bdc 14.8px,#2450d0 15.0px,#343eaf 15.5px,#352b88 16.0px,#352a87 16.2px,#352a87 17.00px)"></i>
<i style="top:194px;left:134px;width:17px;background:linear-gradient(90deg,#352a87 0px,#352a87 0.8px,#36359c 1.0px,#3144bb 1.2px,#1c55d6 1.5px,#0364e1 1.8px,#1483d5 2.8px,#06a2cb 3.8px,#09abbf 4.2px,#2ab6a7 5.0px,#52bd8f 5.8px,#67be85 6.5px,#62be87 7.2px,#44bb96 8.0px,#21b4ac 9.0px,#09acbe 10.0px,#0899d1 11.5px,#1482d5 12.8px,#0269e1 14.2px,#0363e1 14.5px,#125adc 14.8px,#2450cf 15.0px,#353eaf 15.5px,#352b88 16.0px,#352a87 16.2px,#352a87 17.00px)"></i>
<i style="top:195px;left:134px;width:17px;background:linear-gradient(90deg,#352a87 0px,#352a87 0.8px,#362e8f 1.0px,#343eb0 1.2px,#264ecd 1.5px,#095fdf 1.8px,#036ae1 2.0px,#1481d6 2.8px,#06a0cd 3.8px,#07aac1 4.2px,#24b5aa 5.0px,#4dbc92 5.8px,#5fbe89 6.2px,#64be86 7.0px,#50bc90 7.8px,#2fb7a3 8.5px,#09abbf 10.0px,#0899d1 11.5px,#1482d5 12.8px,#0268e1 14.2px,#0462e1 14.5px,#2450cf 15.0px,#353eae 15.5px,#352b87 16.0px,#352a87 16.2px,#352a87 17.00px)"></i>
<i style="top:196px;left:135px;width:16px;background:linear-gradient(90deg,#352a87 0px,#352a87 0.0px,#3638a4 0.2px,#2e48c1 0.5px,#1459db 0.8px,#0266e1 1.0px,#137ed7 1.8px,#118dd2 2.2px,#06a3cb 3.0px,#0aacbe 3.5px,#2bb6a5 4.2px,#51bd8f 5.0px,#62be87 5.8px,#58bd8c 6.5px,#2fb7a3 7.5px,#0dadbb 8.8px,#06a4ca 9.8px,#0c94d2 10.8px,#1482d5 11.8px,#0269e1 13.2px,#0363e1 13.5px,#125adc 13.8px,#2450d0 14.0px,#343eaf 14.5px,#352b89 15.0px,#352a87 15.2px,#352a87 16.00px)"></i>
<i style="top:197px;left:135px;width:16px;background:linear-gradient(90deg,#352a87 0px,#352a87 0.0px,#363297 0.2px,#3341b5 0.5px,#2251d1 0.8px,#0562e0 1.0px,#036ce0 1.2px,#1481d6 2.0px,#06a0cd 3.0px,#07aac2 3.5px,#17b1b3 4.0px,#4abc94 5.0px,#5dbe89 5.8px,#57bd8d 6.5px,#27b5a8 7.8px,#09abbf 9.0px,#0899d1 10.5px,#1482d5 11.8px,#0269e1 13.2px,#0363e1 13.5px,#105bdd 13.8px,#2e48c2 14.2px,#3637a0 14.8px,#352d8c 15.0px,#352a87 15.2px,#352a87 16.00px)"></i>
<i style="top:198px;left:135px;width:16px;background:linear-gradient(90deg,#352a87 0px,#352a87 0.2px,#353ba9 0.5px,#2c4ac6 0.8px,#105bdd 1.0px,#0268e1 1.2px,#137ed7 2.0px,#118dd2 2.5px,#06a2cb 3.2px,#09abbf 3.8px,#28b6a7 4.5px,#4cbc92 5.2px,#5abd8b 6.0px,#4fbc91 6.8px,#27b5a8 7.8px,#09abbf 9.0px,#0899d1 10.5px,#1482d5 11.8px,#026ae1 13.2px,#0364e1 13.5px,#0e5cde 13.8px,#2152d3 14.0px,#3340b3 14.5px,#362e8f 15.0px,#352a87 15.2px,#352a87 16.00px)"></i>
<i style="top:199px;left:135px;width:16px;background:linear-gradient(90deg,#352a87 0px,#352a87 0.2px,#36359d 0.5px,#3244ba 0.8px,#1e54d5 1.0px,#0363e1 1.2px,#0b74dd 1.8px,#1481d5 2.2px,#069fce 3.2px,#0cadbc 4.0px,#4dbc92 5.5px,#56bd8d 6.2px,#4ebc91 6.8px,#20b4ad 8.0px,#07a9c2 9.2px,#0b95d2 10.8px,#1483d5 11.8px,#0b73dd 12.8px,#0265e1 13.5px,#0c5dde 13.8px,#1f53d5 14.0px,#3341b5 14.5px,#363092 15.0px,#352a87 15.2px,#352a87 16.00px)"></i>
<i style="top:200px;left:135px;width:16px;background:linear-gradient(90deg,#352a87 0px,#352a87 0.2px,#362e8f 0.5px,#353eae 0.8px,#294cca 1.0px,#0d5dde 1.2px,#0268e1 1.5px,#137ed7 2.2px,#118cd2 2.8px,#06a2cc 3.5px,#08abc0 4.0px,#25b5a9 4.8px,#46bb95 5.5px,#53bd8f 6.2px,#46bb96 7.0px,#20b4ad 8.0px,#07a9c2 9.2px,#0b95d1 10.8px,#1483d5 11.8px,#0b73dd 12.8px,#0265e1 13.5px,#0b5edf 13.8px,#2b4bc7 14.2px,#363aa7 14.8px,#352a87 15.2px,#352a87 16.00px)"></i>
<i style="top:201px;left:135px;width:16px;background:linear-gradient(90deg,#352a87 0px,#352a87 0.5px,#3638a2 0.8px,#3046be 1.0px,#1a56d7 1.2px,#0364e1 1.5px,#046de0 1.8px,#1481d5 2.5px,#069fce 3.5px,#06a8c3 4.0px,#1eb3ae 4.8px,#3fba99 5.5px,#4fbc91 6.2px,#4bbc93 6.8px,#33b8a1 7.5px,#20b4ad 8.0px,#07a9c2 9.2px,#0b96d1 10.8px,#1483d5 11.8px,#0b74dd 12.8px,#0266e1 13.5px,#095fdf 13.8px,#294cc9 14.2px,#353ba9 14.8px,#352a87 15.2px,#352a87 16.00px)"></i>
<i style="top:202px;left:135px;width:16px;background:linear-gradient(90deg,#352a87 0px,#352a87 0.5px,#363296 0.8px,#3440b3 1.0px,#264fcd 1.2px,#0a5fdf 1.5px,#0269e1 1.8px,#137ed7 2.5px,#128cd2 3.0px,#06a1cc 3.8px,#08aac1 4.2px,#22b4ab 5.0px,#41ba98 5.8px,#4bbc93 6.2px,#44bb96 7.0px,#1ab2b1 8.2px,#07a9c2 9.2px,#0a96d1 10.8px,#1480d6 12.0px,#0266e1 13.5px,#0860df 13.8px,#284dcb 14.2px,#353cab 14.8px,#352a87 15.2px,#352a87 16.00px)"></i>
<i style="top:203px;left:135px;width:16px;background:linear-gradient(90deg,#352a87 0px,#352a87 0.8px,#363aa7 1.0px,#2e48c2 1.2px,#1658d9 1.5px,#0265e1 1.8px,#1481d6 2.8px,#06a3ca 4.0px,#09acbe 4.5px,#42bb98 6.0px,#47bb95 6.8px,#34b8a0 7.5px,#1ab2b1 8.2px,#07aac2 9.2px,#0a96d1 10.8px,#1480d6 12.0px,#0267e1 13.5px,#0661e0 13.8px,#1658da 14.0px,#3045bd 14.5px,#36359c 15.0px,#352a87 15.2px,#352a87 16.00px)"></i>
<i style="top:204px;left:135px;width:16px;background:linear-gradient(90deg,#352a87 0px,#352a87 0.8px,#3342b7 1.2px,#2351d1 1.5px,#0860e0 1.8px,#036ae1 2.0px,#137ed7 2.8px,#128cd2 3.2px,#06a0cd 4.0px,#0cadbc 4.8px,#3cba9b 6.0px,#44bb97 6.8px,#35b8a0 7.5px,#1ab2b1 8.2px,#07aac2 9.2px,#0a96d1 10.8px,#1480d6 12.0px,#0268e1 13.5px,#0562e0 13.8px,#1459db 14.0px,#254fce 14.2px,#343eaf 14.8px,#352c8b 15.2px,#352a87 15.5px,#352a87 16.00px)"></i>
<i style="top:205px;left:135px;width:16px;background:linear-gradient(90deg,#352a87 0px,#352a87 0.8px,#362e8f 1.0px,#353dac 1.2px,#2c4ac6 1.5px,#125adb 1.8px,#0266e1 2.0px,#1481d6 3.0px,#06a3cb 4.2px,#0faeb9 5.0px,#3cba9b 6.2px,#40ba99 7.0px,#2cb7a5 7.8px,#0eaeba 8.8px,#06a5c9 9.8px,#0a97d1 10.8px,#1481d6 12.0px,#0268e1 13.5px,#0462e1 13.8px,#125adc 14.0px,#2e47c1 14.5px,#3637a0 15.0px,#362e8e 15.2px,#352a87 15.5px,#352a87 16.00px)"></i>
<i style="top:206px;left:136px;width:15px;background:linear-gradient(90deg,#352a87 0px,#352a87 0.0px,#3144bb 0.5px,#2053d4 0.8px,#0661e0 1.0px,#036ae1 1.2px,#137ed7 2.0px,#0d93d2 2.8px,#06a5c9 3.5px,#0aacbd 4.0px,#37b99f 5.2px,#3dba9b 6.0px,#2db7a5 6.8px,#14b0b5 7.5px,#06a7c5 8.5px,#0a97d1 9.8px,#1481d6 11.0px,#0269e1 12.5px,#0363e1 12.8px,#105bdd 13.0px,#2251d2 13.2px,#3440b3 13.8px,#362f90 14.2px,#352a87 14.5px,#352a87 15.00px)"></i>
<i style="top:207px;left:136px;width:15px;background:linear-gradient(90deg,#352a87 0px,#352a87 0.0px,#363195 0.2px,#343fb0 0.5px,#294cc9 0.8px,#0f5cdd 1.0px,#0267e1 1.2px,#1481d6 2.2px,#108fd2 2.8px,#06a2cc 3.5px,#0daebb 4.2px,#31b8a2 5.2px,#3ab99c 6.0px,#2db7a4 6.8px,#14b0b5 7.5px,#06a7c5 8.5px,#0997d1 9.8px,#1485d4 10.8px,#0a72de 12.0px,#0269e1 12.5px,#0364e1 12.8px,#0e5cde 13.0px,#2d49c5 13.5px,#363093 14.2px,#352a87 14.5px,#352a87 15.00px)"></i>
<i style="top:208px;left:136px;width:15px;background:linear-gradient(90deg,#352a87 0px,#352a87 0.2px,#3639a6 0.5px,#2f46bf 0.8px,#1c55d6 1.0px,#0462e1 1.2px,#036be0 1.5px,#137ed7 2.2px,#0d92d2 3.0px,#06a4ca 3.8px,#09abbf 4.2px,#32b8a2 5.5px,#36b99f 6.2px,#25b5aa 7.0px,#0eaeba 7.8px,#06a5c8 8.8px,#0997d1 9.8px,#1485d4 10.8px,#0a72de 12.0px,#026ae1 12.5px,#0364e1 12.8px,#0d5dde 13.0px,#2c4ac6 13.5px,#363aa7 14.0px,#352a87 14.5px,#352a87 15.00px)"></i>
<i style="top:209px;left:136px;width:15px;background:linear-gradient(90deg,#352a87 0px,#352a87 0.2px,#36349a 0.5px,#3341b4 0.8px,#264ecc 1.0px,#0d5dde 1.2px,#0267e1 1.5px,#1481d6 2.5px,#0b95d2 3.2px,#07a9c2 4.2px,#13b0b6 4.8px,#31b8a2 5.8px,#31b8a2 6.5px,#0aacbd 8.0px,#079cd0 9.5px,#1486d4 10.8px,#0a73dd 12.0px,#0265e1 12.8px,#0b5edf 13.0px,#2a4bc8 13.5px,#353ba9 14.0px,#352a87 14.5px,#352a87 15.00px)"></i>
<i style="top:210px;left:136px;width:15px;background:linear-gradient(90deg,#352a87 0px,#352a87 0.2px,#362e8e 0.5px,#2e48c2 1.0px,#1956d8 1.2px,#0363e1 1.5px,#0972de 2.0px,#1484d4 2.8px,#06a3cb 4.0px,#08abc0 4.5px,#2db7a5 5.8px,#30b7a3 6.5px,#1eb3ae 7.2px,#0aacbd 8.0px,#079cd0 9.5px,#1486d4 10.8px,#0b73dd 12.0px,#0265e1 12.8px,#0a5fdf 13.0px,#294cca 13.5px,#353cab 14.0px,#352a87 14.5px,#352a87 15.00px)"></i>
<i style="top:211px;left:136px;width:15px;background:linear-gradient(90deg,#352a87 0px,#352a87 0.5px,#3243b8 1.0px,#2450cf 1.2px,#0b5edf 1.5px,#0268e1 1.8px,#1480d6 2.8px,#06a5c9 4.2px,#0aacbe 4.8px,#2cb7a5 6.0px,#2bb6a6 6.8px,#0aacbd 8.0px,#079cd0 9.5px,#1482d5 11.0px,#076fdf 12.2px,#0266e1 12.8px,#0860df 13.0px,#274dcc 13.5px,#353dad 14.0px,#352b89 14.5px,#352a87 14.8px,#352a87 15.00px)"></i>
<i style="top:212px;left:136px;width:15px;background:linear-gradient(90deg,#352a87 0px,#352a87 0.5px,#363194 0.8px,#353dae 1.0px,#2c4ac5 1.2px,#1658d9 1.5px,#0364e1 1.8px,#1483d5 3.0px,#06a2cb 4.2px,#0cadbc 5.0px,#28b6a8 6.0px,#29b6a7 6.8px,#0aacbd 8.0px,#079cd0 9.5px,#1482d5 11.0px,#0770df 12.2px,#0267e1 12.8px,#0760e0 13.0px,#264fcd 13.5px,#353eaf 14.0px,#352d8c 14.5px,#352a87 14.8px,#352a87 15.00px)"></i>
<i style="top:213px;left:136px;width:15px;background:linear-gradient(90deg,#352a87 0px,#352a87 0.8px,#3144bc 1.2px,#2251d2 1.5px,#095fdf 1.8px,#0268e1 2.0px,#1480d6 3.0px,#06a4ca 4.5px,#08abc0 5.0px,#23b5ab 6.0px,#28b6a8 6.8px,#07aac1 8.2px,#0998d1 9.8px,#1483d5 11.0px,#0870df 12.2px,#0267e1 12.8px,#0661e0 13.0px,#1459db 13.2px,#2f47c0 13.8px,#362e8f 14.5px,#352a87 14.8px,#352a87 15.00px)"></i>
<i style="top:214px;left:136px;width:15px;background:linear-gradient(90deg,#352a87 0px,#352a87 0.8px,#363399 1.0px,#343fb2 1.2px,#2a4bc8 1.5px,#1359db 1.8px,#0364e1 2.0px,#1483d5 3.2px,#06a1cc 4.5px,#0aacbe 5.2px,#23b5ab 6.2px,#23b4ab 7.0px,#07aac1 8.2px,#0998d1 9.8px,#1483d5 11.0px,#0870df 12.2px,#0268e1 12.8px,#0562e0 13.0px,#125adc 13.2px,#2e48c2 13.8px,#3638a3 14.2px,#362f91 14.5px,#352a87 14.8px,#352a87 15.00px)"></i>
<i style="top:215px;left:136px;width:15px;background:linear-gradient(90deg,#352a87 0px,#352a87 0.8px,#362e8e 1.0px,#2f46bf 1.5px,#2053d4 1.8px,#0860df 2.0px,#0269e1 2.2px,#1480d6 3.2px,#0d92d2 4.0px,#06a6c6 5.0px,#0cadbb 5.5px,#22b4ab 6.5px,#1eb3ae 7.2px,#07aac1 8.2px,#0999d1 9.8px,#1483d5 11.0px,#0c75dd 12.0px,#0268e1 12.8px,#0363e1 13.0px,#105bdd 13.2px,#2252d2 13.5px,#3341b5 14.0px,#352a87 14.8px,#352a87 15.00px)"></i>
<i style="top:216px;left:137px;width:14px;background:linear-gradient(90deg,#352a87 0px,#352a87 0.0px,#3341b5 0.5px,#284dcb 0.8px,#115bdc 1.0px,#0265e1 1.2px,#1482d5 2.5px,#06a4c9 4.0px,#0faeb9 4.8px,#21b4ac 5.8px,#18b2b2 6.5px,#07aac1 7.2px,#0999d1 8.8px,#1483d5 10.0px,#0971de 11.2px,#0269e1 11.8px,#0363e1 12.0px,#0f5cde 12.2px,#2c4ac5 12.8px,#363aa7 13.2px,#352a87 13.8px,#352a87 14.00px)"></i>
<i style="top:217px;left:137px;width:14px;background:linear-gradient(90deg,#352a87 0px,#352a87 0.0px,#363093 0.2px,#2e48c1 0.8px,#1d54d6 1.0px,#0761e0 1.2px,#0269e1 1.5px,#137fd6 2.5px,#0e91d2 3.2px,#06a5c8 4.2px,#0aacbd 4.8px,#1eb3ae 5.8px,#18b1b2 6.5px,#07aac1 7.2px,#0899d1 8.8px,#1484d4 10.0px,#0971de 11.2px,#0364e1 12.0px,#0d5dde 12.2px,#2b4bc7 12.8px,#353ba9 13.2px,#352a87 13.8px,#352a87 14.00px)"></i>
<i style="top:218px;left:137px;width:14px;background:linear-gradient(90deg,#352a87 0px,#352a87 0.2px,#3243b8 0.8px,#264ecd 1.0px,#0f5cdd 1.2px,#0265e1 1.5px,#1482d5 2.8px,#06a3cb 4.2px,#0cadbb 5.0px,#1cb2b0 6.0px,#13b0b6 6.8px,#06a8c5 7.5px,#0b95d2 9.0px,#1484d4 10.0px,#0972de 11.2px,#0364e1 12.0px,#0c5ede 12.2px,#2a4cc8 12.8px,#353cab 13.2px,#352a87 13.8px,#352a87 14.00px)"></i>
<i style="top:219px;left:137px;width:14px;background:linear-gradient(90deg,#352a87 0px,#352a87 0.2px,#353eaf 0.8px,#2d49c4 1.0px,#1b56d7 1.2px,#0661e0 1.5px,#0269e1 1.8px,#137fd7 2.8px,#0f90d2 3.5px,#06a0cd 4.2px,#09abbf 5.0px,#19b2b2 6.0px,#13b0b6 6.8px,#06a8c5 7.5px,#0b95d2 9.0px,#1480d6 10.2px,#0265e1 12.0px,#0b5edf 12.2px,#294dca 12.8px,#353dad 13.2px,#352c8a 13.8px,#352a87 14.0px,#352a87 14.00px)"></i>
<i style="top:220px;left:137px;width:14px;background:linear-gradient(90deg,#352a87 0px,#352a87 0.2px,#362e8e 0.5px,#3144bb 1.0px,#2450cf 1.2px,#0e5dde 1.5px,#0266e1 1.8px,#1481d6 3.0px,#06a2cc 4.5px,#0aacbd 5.2px,#16b1b4 6.0px,#0eaeba 7.0px,#06a5c8 7.8px,#0b95d2 9.0px,#1480d6 10.2px,#0265e1 12.0px,#0a5fdf 12.2px,#274ecc 12.8px,#353eae 13.2px,#362d8d 13.8px,#352a87 14.0px,#352a87 14.00px)"></i>
<i style="top:221px;left:137px;width:14px;background:linear-gradient(90deg,#352a87 0px,#352a87 0.5px,#3440b2 1.0px,#2c4ac6 1.2px,#1857d8 1.5px,#0562e0 1.8px,#0269e1 2.0px,#137ed7 3.0px,#108ed2 3.8px,#06a3ca 4.8px,#10afb8 5.8px,#14b0b5 6.5px,#06a5c8 7.8px,#0b95d2 9.0px,#1481d6 10.2px,#0266e1 12.0px,#0860df 12.2px,#264ecd 12.8px,#343fb0 13.2px,#362f90 13.8px,#352a87 14.0px,#352a87 14.00px)"></i>
<i style="top:222px;left:137px;width:14px;background:linear-gradient(90deg,#352a87 0px,#352a87 0.5px,#363093 0.8px,#3046be 1.2px,#2251d1 1.5px,#0d5dde 1.8px,#0266e1 2.0px,#1480d6 3.2px,#0a97d1 4.2px,#06a8c4 5.2px,#12b0b7 6.2px,#0eaeba 7.0px,#06a3cb 8.0px,#0e91d2 9.2px,#137dd8 10.5px,#0266e1 12.0px,#0760e0 12.2px,#254fcf 12.8px,#3440b2 13.2px,#363092 13.8px,#352a87 14.0px,#352a87 14.00px)"></i>
<i style="top:223px;left:137px;width:14px;background:linear-gradient(90deg,#352a87 0px,#352a87 0.8px,#3341b5 1.2px,#2a4bc8 1.5px,#1758d9 1.8px,#0462e1 2.0px,#066fdf 2.5px,#1482d5 3.5px,#06a2cc 5.0px,#10afb9 6.2px,#0daebb 7.0px,#06a3cb 8.0px,#0e91d2 9.2px,#137ed7 10.5px,#0267e1 12.0px,#0661e0 12.2px,#2350d0 12.8px,#3340b4 13.2px,#352a87 14.0px,#352a87 14.00px)"></i>
<i style="top:224px;left:137px;width:14px;background:linear-gradient(90deg,#352a87 0px,#352a87 0.8px,#353dac 1.2px,#2f47c0 1.5px,#2152d2 1.8px,#0c5ede 2.0px,#0266e1 2.2px,#1480d6 3.5px,#0f8fd2 4.2px,#06a3cb 5.2px,#0dadbb 6.2px,#0aacbe 7.2px,#079dcf 8.5px,#1481d6 10.2px,#0267e1 12.0px,#0562e0 12.2px,#125adc 12.5px,#2d49c4 13.0px,#363297 13.8px,#352a87 14.0px,#352a87 14.00px)"></i>
<i style="top:225px;left:137px;width:14px;background:linear-gradient(90deg,#352a87 0px,#352a87 0.8px,#362d8d 1.0px,#3242b7 1.5px,#284dca 1.8px,#1558da 2.0px,#0462e1 2.2px,#066fdf 2.8px,#1482d5 3.8px,#0a97d1 4.8px,#06a8c4 5.8px,#0dadbb 6.8px,#06a7c6 7.8px,#0b95d2 9.0px,#1481d5 10.2px,#0268e1 12.0px,#0462e1 12.2px,#2152d3 12.8px,#3342b7 13.2px,#352a87 14.0px,#352a87 14.00px)"></i>
<i style="top:226px;left:138px;width:13px;background:linear-gradient(90deg,#352a87 0px,#352a87 0.0px,#343fb0 0.5px,#2d48c3 0.8px,#1e54d5 1.0px,#0a5fdf 1.2px,#0267e1 1.5px,#137fd6 2.8px,#108fd2 3.5px,#06a2cc 4.5px,#0bacbd 5.5px,#07a9c2 6.5px,#0999d1 7.8px,#1481d6 9.2px,#0267e1 11.0px,#0562e0 11.2px,#2152d2 11.8px,#3342b7 12.2px,#352a87 13.0px,#352a87 13.00px)"></i>
<i style="top:227px;left:138px;width:13px;background:linear-gradient(90deg,#352a87 0px,#352a87 0.0px,#363195 0.2px,#3045bd 0.8px,#2450cf 1.0px,#0f5cdd 1.2px,#0364e1 1.5px,#0c75dc 2.2px,#1487d3 3.2px,#06a0cd 4.5px,#09abbe 5.5px,#06a8c3 6.5px,#089bd0 7.5px,#1483d5 9.0px,#0a72de 10.2px,#0266e1 11.0px,#0761e0 11.2px,#2350d0 11.8px,#3341b5 12.2px,#352a87 13.0px,#352a87 13.00px)"></i>
<i style="top:228px;left:138px;width:13px;background:linear-gradient(90deg,#352a87 0px,#352a87 0.0px,#362e8e 0.2px,#3342b7 0.8px,#294cca 1.0px,#1658d9 1.2px,#0562e0 1.5px,#0269e1 1.8px,#1481d6 3.0px,#06a3ca 4.8px,#09abbf 5.8px,#06a5c9 6.8px,#0e92d2 8.0px,#137fd7 9.2px,#0265e1 11.0px,#095fdf 11.2px,#254fce 11.8px,#3440b3 12.2px,#352a87 13.0px,#352a87 13.00px)"></i>
<i style="top:229px;left:138px;width:13px;background:linear-gradient(90deg,#352a87 0px,#352a87 0.2px,#343fb1 0.8px,#2d49c4 1.0px,#1e54d5 1.2px,#0a5fdf 1.5px,#0266e1 1.8px,#137fd7 3.0px,#118ed2 3.8px,#06a2cc 4.8px,#08aac0 5.8px,#06a4ca 6.8px,#0f90d2 8.0px,#137ed7 9.2px,#0269e1 10.8px,#0364e1 11.0px,#0b5ede 11.2px,#274dcb 11.8px,#343fb1 12.2px,#352a87 13.0px,#352a87 13.00px)"></i>
<i style="top:230px;left:138px;width:13px;background:linear-gradient(90deg,#352a87 0px,#352a87 0.2px,#353cab 0.8px,#3046be 1.0px,#2350d0 1.2px,#0f5cdd 1.5px,#0364e1 1.8px,#0c74dd 2.5px,#1486d3 3.5px,#06a0cd 4.8px,#07a9c2 5.8px,#06a3cb 6.8px,#1484d4 8.8px,#0b73dd 10.0px,#0363e1 11.0px,#1d54d5 11.5px,#3145bc 12.0px,#362f90 12.8px,#352a87 13.0px,#352a87 13.00px)"></i>
<i style="top:231px;left:138px;width:13px;background:linear-gradient(90deg,#352a87 0px,#352a87 0.2px,#362f90 0.5px,#3243b8 1.0px,#284dca 1.2px,#1658d9 1.5px,#0562e0 1.8px,#056ee0 2.2px,#1480d6 3.2px,#0c94d2 4.2px,#06a6c7 5.2px,#06a7c5 6.2px,#0899d1 7.2px,#1482d5 8.8px,#066fdf 10.2px,#0267e1 10.8px,#0562e0 11.0px,#2053d4 11.5px,#3244ba 12.0px,#362e8e 12.8px,#352a87 13.0px,#352a87 13.00px)"></i>
<i style="top:232px;left:138px;width:13px;background:linear-gradient(90deg,#352a87 0px,#352a87 0.2px,#352b89 0.5px,#3440b2 1.0px,#2d49c5 1.2px,#0a5fdf 1.8px,#0266e1 2.0px,#137ed7 3.2px,#118dd2 4.0px,#06a2cc 5.0px,#06a8c5 6.0px,#0c94d2 7.5px,#1481d5 8.8px,#0266e1 10.8px,#0760e0 11.0px,#2251d1 11.5px,#3243b8 12.0px,#352d8c 12.8px,#352a87 13.0px,#352a87 13.00px)"></i>
<i style="top:233px;left:138px;width:13px;background:linear-gradient(90deg,#352a87 0px,#352a87 0.5px,#353dad 1.0px,#2350d0 1.5px,#0f5cdd 1.8px,#0364e1 2.0px,#0c74dd 2.8px,#1486d4 3.8px,#06a4ca 5.2px,#06a6c7 6.2px,#0a96d1 7.2px,#1484d4 8.5px,#0871df 10.0px,#0265e1 10.8px,#1658d9 11.2px,#2d48c3 11.8px,#36349a 12.5px,#352c8a 12.8px,#352a87 13.0px,#352a87 13.00px)"></i>
<i style="top:234px;left:138px;width:13px;background:linear-gradient(90deg,#352a87 0px,#352a87 0.5px,#363093 0.8px,#3243b9 1.2px,#284dcb 1.5px,#1658d9 1.8px,#0562e0 2.0px,#056ee0 2.5px,#1484d4 3.8px,#06a2cb 5.2px,#06a5c8 6.2px,#0b94d2 7.2px,#1482d5 8.5px,#0770df 10.0px,#0364e1 10.8px,#1956d7 11.2px,#2f47c1 11.8px,#363398 12.5px,#352b87 12.8px,#352a87 13.0px,#352a87 13.00px)"></i>
<i style="top:235px;left:138px;width:13px;background:linear-gradient(90deg,#352a87 0px,#352a87 0.5px,#352d8b 0.8px,#3340b3 1.2px,#2c4ac5 1.5px,#0a5fdf 2.0px,#0266e1 2.2px,#1482d5 3.8px,#0a96d1 4.8px,#06a4ca 5.5px,#06a1cc 6.5px,#1484d4 8.2px,#0a72de 9.8px,#0267e1 10.5px,#0363e1 10.8px,#1c55d6 11.2px,#3046be 11.8px,#363296 12.5px,#352a87 12.8px,#352a87 13.00px)"></i>
<i style="top:236px;left:138px;width:13px;background:linear-gradient(90deg,#352a87 0px,#352a87 0.8px,#353dae 1.2px,#2351d0 1.8px,#0f5cdd 2.0px,#0364e1 2.2px,#1485d4 4.0px,#06a2cb 5.5px,#06a0cd 6.5px,#1487d3 8.0px,#0c74dd 9.5px,#0266e1 10.5px,#0661e0 10.8px,#1f53d4 11.2px,#3145bc 11.8px,#352a87 12.8px,#352a87 13.00px)"></i>
<i style="top:237px;left:138px;width:13px;background:linear-gradient(90deg,#352a87 0px,#352a87 0.8px,#363194 1.0px,#3244ba 1.5px,#284dcb 1.8px,#1658d9 2.0px,#0561e0 2.2px,#056de0 2.8px,#1483d5 4.0px,#06a1cc 5.5px,#069fce 6.5px,#118cd2 7.5px,#127cd8 8.8px,#0265e1 10.5px,#1459db 11.0px,#2c4ac6 11.5px,#3637a1 12.2px,#352a87 12.8px,#352a87 13.00px)"></i>
<i style="top:238px;left:138px;width:13px;background:linear-gradient(90deg,#352a87 0px,#352a87 0.8px,#362e8e 1.0px,#3341b4 1.5px,#2c4ac6 1.8px,#0a5edf 2.2px,#0266e1 2.5px,#1481d5 4.0px,#0a96d1 5.0px,#06a2cc 5.8px,#069ece 6.5px,#1487d3 7.8px,#0d76dc 9.2px,#0364e1 10.5px,#1758d9 11.0px,#2d49c4 11.5px,#36369f 12.2px,#352a87 12.8px,#352a87 13.00px)"></i>
<i style="top:239px;left:139px;width:12px;background:linear-gradient(90deg,#352a87 0px,#352a87 0.0px,#353eaf 0.5px,#2351d1 1.0px,#105cdd 1.2px,#0364e1 1.5px,#066fdf 2.0px,#1480d6 3.0px,#0c94d2 4.0px,#06a1cd 4.8px,#079dcf 5.5px,#1389d3 6.5px,#0f78db 8.0px,#0267e1 9.2px,#0363e1 9.5px,#1a56d7 10.0px,#2e48c2 10.5px,#362e8f 11.5px,#352a87 11.8px,#352a87 12.00px)"></i>
<i style="top:240px;left:139px;width:12px;background:linear-gradient(90deg,#352a87 0px,#352a87 0.0px,#3144bb 0.8px,#284dcb 1.0px,#1658d9 1.2px,#0661e0 1.5px,#046de0 2.0px,#137ed7 3.0px,#128bd2 3.8px,#079dcf 4.5px,#069fce 5.2px,#1485d4 6.8px,#0b74dd 8.2px,#0266e1 9.2px,#0562e0 9.5px,#1d54d6 10.0px,#2f47c0 10.5px,#352d8d 11.5px,#352a87 11.8px,#352a87 12.00px)"></i>
<i style="top:241px;left:139px;width:12px;background:linear-gradient(90deg,#352a87 0px,#352a87 0.0px,#362f90 0.2px,#3341b5 0.8px,#2c4ac6 1.0px,#0b5edf 1.5px,#0265e1 1.8px,#1480d6 3.2px,#108fd2 4.0px,#069ece 4.8px,#089bd0 5.5px,#138ad3 6.2px,#1078da 7.8px,#0265e1 9.2px,#125adc 9.8px,#294cc9 10.2px,#363aa6 11.0px,#352c8b 11.5px,#352a87 11.8px,#352a87 12.00px)"></i>
<i style="top:242px;left:139px;width:12px;background:linear-gradient(90deg,#352a87 0px,#352a87 0.0px,#352b89 0.2px,#2f47c0 1.0px,#2351d1 1.2px,#105bdd 1.5px,#0363e1 1.8px,#066ee0 2.2px,#1483d5 3.5px,#079dcf 4.8px,#0899d1 5.5px,#1388d3 6.2px,#0f77db 7.8px,#0268e1 9.0px,#0a5fdf 9.5px,#2b4bc7 10.2px,#3639a4 11.0px,#352b89 11.5px,#352a87 11.8px,#352a87 12.00px)"></i>
<i style="top:243px;left:139px;width:12px;background:linear-gradient(90deg,#352a87 0px,#352a87 0.2px,#3144bb 1.0px,#284dcb 1.2px,#1758d9 1.5px,#0761e0 1.8px,#0267e1 2.0px,#1481d6 3.5px,#138ad3 4.0px,#079bd0 4.8px,#0998d1 5.5px,#1487d3 6.2px,#0e76db 7.8px,#0267e1 9.0px,#0363e1 9.2px,#2450cf 10.0px,#3243ba 10.5px,#352a87 11.5px,#352a87 12.00px)"></i>
<i style="top:244px;left:139px;width:12px;background:linear-gradient(90deg,#352a87 0px,#352a87 0.2px,#363092 0.5px,#3341b6 1.0px,#2c4ac6 1.2px,#0c5ede 1.8px,#0265e1 2.0px,#137fd6 3.5px,#0f90d2 4.2px,#079bd0 5.0px,#0e91d2 5.8px,#1485d4 6.2px,#0d75dc 7.8px,#0266e1 9.0px,#0e5cde 9.5px,#2e48c3 10.2px,#363194 11.2px,#352a87 11.5px,#352a87 12.00px)"></i>
<i style="top:245px;left:139px;width:12px;background:linear-gradient(90deg,#352a87 0px,#352a87 0.2px,#352c8b 0.5px,#2f47c1 1.2px,#115bdc 1.8px,#0363e1 2.0px,#0972de 2.8px,#1482d5 3.8px,#0998d1 4.8px,#0b95d1 5.5px,#1484d4 6.2px,#0c74dd 7.8px,#0265e1 9.0px,#115bdc 9.5px,#2f47c0 10.2px,#363092 11.2px,#352a87 11.5px,#352a87 12.00px)"></i>
<i style="top:246px;left:139px;width:12px;background:linear-gradient(90deg,#352a87 0px,#352a87 0.5px,#3144bb 1.2px,#284dcb 1.5px,#1857d9 1.8px,#0860e0 2.0px,#0267e1 2.2px,#1480d6 3.8px,#0a96d1 4.8px,#0c94d2 5.5px,#1483d5 6.2px,#0b73dd 7.8px,#0267e1 8.8px,#0a5fdf 9.2px,#2a4cc9 10.0px,#36359d 11.0px,#352a87 11.5px,#352a87 12.00px)"></i>
<i style="top:247px;left:139px;width:12px;background:linear-gradient(90deg,#352a87 0px,#352a87 0.5px,#363093 0.8px,#3342b6 1.2px,#2c4ac6 1.5px,#0c5dde 2.0px,#0364e1 2.2px,#1482d5 4.0px,#0b94d2 4.8px,#0a96d1 5.2px,#1482d5 6.2px,#0266e1 8.8px,#0c5dde 9.2px,#2c4ac7 10.0px,#36349b 11.0px,#352a87 11.5px,#352a87 12.00px)"></i>
<i style="top:248px;left:139px;width:12px;background:linear-gradient(90deg,#352a87 0px,#352a87 0.5px,#362d8d 0.8px,#343fb1 1.2px,#2350d0 1.8px,#125adc 2.0px,#0462e1 2.2px,#046de0 2.8px,#1480d6 4.0px,#0d93d2 4.8px,#0e91d2 5.5px,#1480d6 6.2px,#0265e1 8.8px,#0f5cde 9.2px,#2d49c4 10.0px,#36349a 11.0px,#362d8d 11.2px,#352a87 11.5px,#352a87 12.00px)"></i>
<i style="top:249px;left:139px;width:12px;background:linear-gradient(90deg,#352a87 0px,#352a87 0.8px,#3144bb 1.5px,#1957d8 2.0px,#095fdf 2.2px,#0266e1 2.5px,#1484d4 4.2px,#0c93d2 5.0px,#0f90d2 5.5px,#137fd7 6.2px,#0268e1 8.5px,#0960df 9.0px,#1e54d5 9.5px,#3243b8 10.2px,#352d8b 11.2px,#352a87 11.5px,#352a87 12.00px)"></i>
<i style="top:250px;left:139px;width:12px;background:linear-gradient(90deg,#352a87 0px,#352a87 0.8px,#3243b8 1.5px,#2b4bc8 1.8px,#0c5ede 2.2px,#0364e1 2.5px,#066edf 3.0px,#1482d5 4.2px,#0e92d2 5.0px,#1388d3 5.8px,#137ed7 6.2px,#0267e1 8.5px,#0363e1 8.8px,#2052d3 9.5px,#3342b7 10.2px,#352c8a 11.2px,#352a87 11.5px,#352a87 12.00px)"></i>
<i style="top:251px;left:139px;width:12px;background:linear-gradient(90deg,#352a87 0px,#352a87 0.8px,#3342b7 1.5px,#1f53d4 2.0px,#0e5cde 2.2px,#0363e1 2.5px,#0971de 3.2px,#1388d3 4.5px,#0f90d2 5.2px,#137dd8 6.2px,#0266e1 8.5px,#0d5dde 9.0px,#2a4cc9 9.8px,#3637a2 10.8px,#352c8a 11.2px,#352a87 11.5px,#352a87 12.00px)"></i>
<i style="top:252px;left:139px;width:12px;background:linear-gradient(90deg,#352a87 0px,#352a87 0.8px,#3342b6 1.5px,#2152d3 2.0px,#0462e1 2.5px,#046ce0 3.0px,#1380d6 4.2px,#108ed2 5.0px,#1485d4 5.8px,#1079da 6.5px,#0268e1 8.2px,#0e5cde 9.0px,#2b4bc7 9.8px,#3637a1 10.8px,#352c8a 11.2px,#352a87 11.5px,#352a87 12.00px)"></i>
<i style="top:253px;left:139px;width:12px;background:linear-gradient(90deg,#352a87 0px,#352a87 0.8px,#3341b5 1.5px,#2251d1 2.0px,#0661e0 2.5px,#036be0 3.0px,#1485d4 4.5px,#118dd2 5.2px,#117bd9 6.2px,#0267e1 8.2px,#095fdf 8.8px,#254fce 9.5px,#353caa 10.5px,#352c8a 11.2px,#352a87 11.5px,#352a87 12.00px)"></i>
</div>
<div style="position:absolute;left:643.4px;top:6.6px;width:19px;height:254.4px;box-sizing:border-box;border:0.6px solid #8a8a8a;background:linear-gradient(180deg,#f9fb0e 0.00%,#f6f313 1.59%,#f5eb18 3.17%,#f5e41d 4.76%,#f5de21 6.35%,#f7d826 7.94%,#fad32a 9.52%,#fcce2e 11.11%,#fec832 12.70%,#ffc337 14.29%,#fdbe3d 15.87%,#f8bb44 17.46%,#f1b94a 19.05%,#e9b94e 20.63%,#e1b952 22.22%,#d9ba56 23.81%,#d1bb59 25.40%,#c8bc5d 26.98%,#c0bc60 28.57%,#b7bd64 30.16%,#aebe67 31.75%,#a5be6b 33.33%,#9cbf6f 34.92%,#92bf73 36.51%,#87bf77 38.10%,#7cbf7b 39.68%,#71bf80 41.27%,#65be86 42.86%,#59bd8c 44.44%,#4dbc92 46.03%,#42bb98 47.62%,#38b99e 49.21%,#2eb7a4 50.79%,#25b5a9 52.38%,#1db3af 53.97%,#15b1b4 55.56%,#0faeb9 57.14%,#0aacbe 58.73%,#07a9c2 60.32%,#06a7c6 61.90%,#06a4ca 63.49%,#06a0cd 65.08%,#079ccf 66.67%,#0998d1 68.25%,#0c93d2 69.84%,#108ed2 71.43%,#1389d3 73.02%,#1485d4 74.60%,#1481d6 76.19%,#127dd8 77.78%,#1079da 79.37%,#0d75dc 80.95%,#0871de 82.54%,#046de0 84.13%,#0268e1 85.71%,#0363e1 87.30%,#0f5cdd 88.89%,#2053d4 90.48%,#2c4ac7 92.06%,#3243ba 93.65%,#353dad 95.24%,#3637a0 96.83%,#363093 98.41%,#352a87 100.00%)"></div>
<svg width="685" height="304" viewBox="0 0 685 304" font-family=''Liberation Sans', sans-serif'>
<rect x="29" y="5" width="270" height="252" fill="none" stroke="#262626" stroke-width="0.6"/>
<rect x="364" y="6" width="269" height="254" fill="none" stroke="#262626" stroke-width="0.6"/>
<line x1="29" y1="183" x2="299" y2="183" stroke="#fff" stroke-width="1.7" stroke-dasharray="6.1 5.05" stroke-dashoffset="1.15"/>
<line x1="133.1" y1="106" x2="133.1" y2="109.4" stroke="#8a86c0" stroke-width="0.7" opacity="0.55"/>
<text x="52.6" y="29.2" font-size="13" letter-spacing="1" fill="#fff">(a)</text>
<text x="204" y="123.6" font-size="10.6" fill="#fff">Onset of the</text>
<text x="204" y="136.4" font-size="10.6" fill="#fff">OWB process</text>
<text x="44" y="178" font-size="10.8" fill="#fff">Zwb = 1.59 mm</text>
<text x="84.9" y="226.6" font-size="10.9" fill="#fff">SPM</text>
<line x1="201.60" y1="140.50" x2="157.32" y2="159.35" stroke="#fff" stroke-width="1.00"/><path d="M151.80 161.70L158.08 156.04L157.32 159.35L160.24 161.10Z" fill="#fff"/>
<line x1="221.50" y1="145.40" x2="188.75" y2="170.73" stroke="#fff" stroke-width="1.00"/><path d="M184.00 174.40L188.65 167.33L188.75 170.73L192.01 171.68Z" fill="#fff"/>
<line x1="115.00" y1="222.40" x2="154.22" y2="211.51" stroke="#fff" stroke-width="1.00"/><path d="M160.00 209.90L153.03 214.69L154.22 211.51L151.56 209.39Z" fill="#fff"/>
<text x="382.9" y="30.2" font-size="13.6" letter-spacing="1" fill="#fff">(b)</text>
<text x="404.2" y="144.9" font-size="12" textLength="25.6" lengthAdjust="spacingAndGlyphs" fill="#fff">OWB</text>
<text x="594.4" y="144.7" font-size="12.2" fill="#fff">SPM</text>
<line x1="417.40" y1="122.40" x2="462.12" y2="65.80" stroke="#fff" stroke-width="1.00"/><path d="M466.30 60.50L463.08 69.42L462.12 65.80L458.37 65.70Z" fill="#fff"/>
<line x1="417.10" y1="153.70" x2="481.17" y2="246.84" stroke="#fff" stroke-width="1.00"/><path d="M485.00 252.40L477.43 246.69L481.17 246.84L482.37 243.28Z" fill="#fff"/>
<line x1="587.40" y1="138.70" x2="526.95" y2="137.71" stroke="#fff" stroke-width="1.00"/><path d="M520.20 137.60L529.25 134.75L526.95 137.71L529.15 140.75Z" fill="#fff"/>
<text x="24.3" y="10.2" font-size="11.5" text-anchor="end" fill="#262626">5</text>
<text x="24.3" y="60.6" font-size="11.5" text-anchor="end" fill="#262626">4</text>
<text x="24.3" y="111.1" font-size="11.5" text-anchor="end" fill="#262626">3</text>
<text x="24.3" y="161.5" font-size="11.5" text-anchor="end" fill="#262626">2</text>
<text x="24.3" y="211.1" font-size="11.5" text-anchor="end" fill="#262626">1</text>
<text x="24.3" y="261.4" font-size="11.5" text-anchor="end" fill="#262626">0</text>
<text x="29.0" y="273" font-size="11.2" text-anchor="middle" fill="#262626">-2</text>
<text x="96.5" y="273" font-size="11.2" text-anchor="middle" fill="#262626">-1</text>
<text x="164.0" y="273" font-size="11.2" text-anchor="middle" fill="#262626">0</text>
<text x="231.5" y="273" font-size="11.2" text-anchor="middle" fill="#262626">1</text>
<text x="299.0" y="273" font-size="11.2" text-anchor="middle" fill="#262626">2</text>
<text x="164.3" y="289.2" font-size="13.5" text-anchor="middle" word-spacing="-1.2" fill="#262626">Delay [ps]</text>
<text transform="translate(11,131.1) rotate(-90)" font-size="12.4" text-anchor="middle" fill="#262626">Distance / mm</text>
<text x="358.7" y="12.6" font-size="12.5" text-anchor="end" fill="#262626">5</text>
<text x="358.7" y="44.5" font-size="12.5" text-anchor="end" fill="#262626">4.5</text>
<text x="358.7" y="76.4" font-size="12.5" text-anchor="end" fill="#262626">4</text>
<text x="358.7" y="106.9" font-size="12.5" text-anchor="end" fill="#262626">3.5</text>
<text x="358.7" y="138.1" font-size="12.5" text-anchor="end" fill="#262626">3</text>
<text x="358.7" y="170.9" font-size="12.5" text-anchor="end" fill="#262626">2.5</text>
<text x="358.7" y="202.4" font-size="12.5" text-anchor="end" fill="#262626">2</text>
<text x="358.7" y="234.3" font-size="12.5" text-anchor="end" fill="#262626">1.5</text>
<text x="397.0" y="279.6" font-size="12.5" text-anchor="middle" fill="#262626">-1.5</text>
<text x="430.6" y="279.6" font-size="12.5" text-anchor="middle" fill="#262626">-1</text>
<text x="464.3" y="279.6" font-size="12.5" text-anchor="middle" fill="#262626">-0.5</text>
<text x="498.5" y="279.6" font-size="12.5" text-anchor="middle" fill="#262626">0</text>
<text x="532.1" y="279.6" font-size="12.5" text-anchor="middle" fill="#262626">0.5</text>
<text x="565.8" y="279.6" font-size="12.5" text-anchor="middle" fill="#262626">1</text>
<text x="599.4" y="279.6" font-size="12.5" text-anchor="middle" fill="#262626">1.5</text>
<text x="499" y="298.3" font-size="14.3" text-anchor="middle" fill="#262626">Time [ps]</text>
<text transform="translate(334.4,136.6) rotate(-90)" font-size="14.8" text-anchor="middle" fill="#262626">Wavelength [µm]</text>
<text x="667" y="12.6" font-size="11.8" fill="#262626">0</text>
<text x="667" y="63.5" font-size="11.8" fill="#262626">-10</text>
<text x="667" y="114.4" font-size="11.8" fill="#262626">-20</text>
<text x="667" y="165.2" font-size="11.8" fill="#262626">-30</text>
<text x="667" y="216.1" font-size="11.8" fill="#262626">-40</text>
<text x="667" y="267.0" font-size="11.8" fill="#262626">-50</text>
<line x1="660" y1="57.5" x2="662" y2="57.5" stroke="#262626" stroke-width="0.6"/>
<line x1="660" y1="108.4" x2="662" y2="108.4" stroke="#262626" stroke-width="0.6"/>
<line x1="660" y1="159.2" x2="662" y2="159.2" stroke="#262626" stroke-width="0.6"/>
<line x1="660" y1="210.1" x2="662" y2="210.1" stroke="#262626" stroke-width="0.6"/>
</svg>
</body></html>
